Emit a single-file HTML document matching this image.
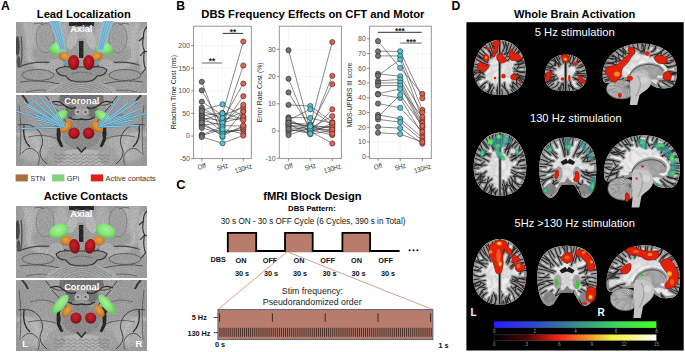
<!DOCTYPE html><html><head><meta charset="utf-8"><style>html,body{margin:0;padding:0;background:#fff;width:685px;height:352px;overflow:hidden}svg{display:block;font-family:"Liberation Sans",sans-serif}</style></head><body>
<svg width="685" height="352" viewBox="0 0 685 352" font-family="Liberation Sans">
<defs>
<filter id="gyA" x="0" y="0" width="100%" height="100%" color-interpolation-filters="sRGB">
 <feTurbulence type="turbulence" baseFrequency="0.13" numOctaves="2" seed="7" result="t"/>
 <feColorMatrix in="t" type="matrix" values="1.9 0 0 0 0  1.9 0 0 0 0  1.9 0 0 0 0  0 0 0 0 1" result="g"/>
 <feComponentTransfer in="g"><feFuncR type="table" tableValues="0.22 0.5 0.62 0.86 0.95 0.96"/><feFuncG type="table" tableValues="0.22 0.5 0.62 0.86 0.95 0.96"/><feFuncB type="table" tableValues="0.22 0.5 0.62 0.86 0.95 0.96"/></feComponentTransfer>
</filter>
<filter id="gyB" x="0" y="0" width="100%" height="100%" color-interpolation-filters="sRGB">
 <feTurbulence type="turbulence" baseFrequency="0.13" numOctaves="2" seed="11" result="t"/>
 <feColorMatrix in="t" type="matrix" values="1.9 0 0 0 0  1.9 0 0 0 0  1.9 0 0 0 0  0 0 0 0 1" result="g"/>
 <feComponentTransfer in="g"><feFuncR type="table" tableValues="0.22 0.5 0.62 0.86 0.95 0.96"/><feFuncG type="table" tableValues="0.22 0.5 0.62 0.86 0.95 0.96"/><feFuncB type="table" tableValues="0.22 0.5 0.62 0.86 0.95 0.96"/></feComponentTransfer>
</filter>
<radialGradient id="redG" cx="0.45" cy="0.4" r="0.6"><stop offset="0" stop-color="#cc2430"/><stop offset="0.6" stop-color="#a8141e"/><stop offset="1" stop-color="#7a0c14"/></radialGradient>
<radialGradient id="orG" cx="0.5" cy="0.4" r="0.6"><stop offset="0" stop-color="#eba040"/><stop offset="0.7" stop-color="#d0842a"/><stop offset="1" stop-color="#a86418"/></radialGradient>
<radialGradient id="grG" cx="0.5" cy="0.4" r="0.6"><stop offset="0" stop-color="#a8f098"/><stop offset="0.6" stop-color="#84e476"/><stop offset="1" stop-color="#60c458"/></radialGradient>
<radialGradient id="rimG" cx="0.5" cy="0.5" r="0.5">
 <stop offset="0" stop-color="#fff" stop-opacity="0.35"/><stop offset="0.55" stop-color="#fff" stop-opacity="0.0"/>
 <stop offset="0.85" stop-color="#777" stop-opacity="0.25"/><stop offset="1" stop-color="#555" stop-opacity="0.6"/>
</radialGradient>
<filter id="bl1" x="-20%" y="-20%" width="140%" height="140%"><feGaussianBlur stdDeviation="1.6"/></filter>
<filter id="bl05" x="-20%" y="-20%" width="140%" height="140%"><feGaussianBlur stdDeviation="0.5"/></filter>
<filter id="bl03" x="-20%" y="-20%" width="140%" height="140%"><feGaussianBlur stdDeviation="0.3"/></filter>
<filter id="noise" x="0" y="0" width="100%" height="100%" color-interpolation-filters="sRGB">
 <feTurbulence type="fractalNoise" baseFrequency="0.7" numOctaves="2" seed="4" result="t"/>
 <feColorMatrix in="t" type="matrix" values="1 0 0 0 0  1 0 0 0 0  1 0 0 0 0  0 0 0 0 0.35"/>
</filter>
</defs>
<rect width="685" height="352" fill="#fff"/>
<text x="1.0" y="9.9" font-size="12.2" font-weight="bold" text-anchor="start" fill="#000" >A</text>
<text x="176.3" y="10.2" font-size="12.2" font-weight="bold" text-anchor="start" fill="#000" >B</text>
<text x="176.2" y="189.4" font-size="12.9" font-weight="bold" text-anchor="start" fill="#000" >C</text>
<text x="451.4" y="9.9" font-size="12.2" font-weight="bold" text-anchor="start" fill="#000" >D</text>
<text x="83.8" y="17.8" font-size="11" font-weight="bold" text-anchor="middle" fill="#000" textLength="94" lengthAdjust="spacingAndGlyphs">Lead Localization</text>
<text x="85.9" y="200.0" font-size="11" font-weight="bold" text-anchor="middle" fill="#000" textLength="84.2" lengthAdjust="spacingAndGlyphs">Active Contacts</text>
<text x="312.9" y="18.0" font-size="11" font-weight="bold" text-anchor="middle" fill="#000" textLength="223.2" lengthAdjust="spacingAndGlyphs">DBS Frequency Effects on CFT and Motor</text>
<text x="574.7" y="17.6" font-size="11" font-weight="bold" text-anchor="middle" fill="#000" textLength="121.4" lengthAdjust="spacingAndGlyphs">Whole Brain Activation</text>
<clipPath id="cA1"><rect x="16" y="22" width="131" height="71"/></clipPath>
<g clip-path="url(#cA1)">
<rect x="16" y="22" width="131" height="71" fill="#a2a2a2"/>
<g transform="translate(16,22)"><g filter="url(#bl1)"><ellipse cx="19" cy="12" rx="9" ry="14" fill="#b9b9b9"/><path d="M9 0 Q14 18 13 36 Q20 46 34 46" stroke="#bebebe" stroke-width="6" fill="none"/><ellipse cx="29" cy="16" rx="9" ry="15" fill="#a6a6a6"/><ellipse cx="45" cy="13" rx="7.5" ry="13" fill="#b6b6b6"/><ellipse cx="22" cy="53" rx="17" ry="6" fill="#a2a2a2"/><ellipse cx="24" cy="64" rx="19" ry="5.5" fill="#a6a6a6"/><ellipse cx="45" cy="47" rx="10" ry="5" fill="#8e8e8e"/></g><g filter="url(#bl03)"><ellipse cx="1.5" cy="24" rx="2.2" ry="10" fill="#3a3a3a"/><ellipse cx="2.5" cy="40" rx="1.8" ry="6" fill="#4a4a4a"/><path d="M5 14 Q7 26 5 44" stroke="#444" stroke-width="1.2" fill="none"/><ellipse cx="29" cy="16" rx="9" ry="15" fill="none" stroke="#7e7e7e" stroke-width="0.8"/><path d="M3 45 Q20 37 46 42" stroke="#3a3a3a" stroke-width="1.2" fill="none"/><ellipse cx="22" cy="53" rx="16" ry="5.5" fill="none" stroke="#4a4a4a" stroke-width="0.8"/><path d="M4 60 Q22 57 44 62" stroke="#454545" stroke-width="0.9" fill="none"/><path d="M10 70 Q25 66 40 70" stroke="#555" stroke-width="0.8" fill="none"/><path d="M38 44 Q48 42 56 47" stroke="#222" stroke-width="1.3" fill="none"/><path d="M18 2 Q24 0 28 3" stroke="#555" stroke-width="0.8" fill="none"/></g></g>
<g transform="translate(147,22) scale(-1,1)"><g filter="url(#bl1)"><ellipse cx="19" cy="12" rx="9" ry="14" fill="#b9b9b9"/><path d="M9 0 Q14 18 13 36 Q20 46 34 46" stroke="#bebebe" stroke-width="6" fill="none"/><ellipse cx="29" cy="16" rx="9" ry="15" fill="#a6a6a6"/><ellipse cx="45" cy="13" rx="7.5" ry="13" fill="#b6b6b6"/><ellipse cx="22" cy="53" rx="17" ry="6" fill="#a2a2a2"/><ellipse cx="24" cy="64" rx="19" ry="5.5" fill="#a6a6a6"/><ellipse cx="45" cy="47" rx="10" ry="5" fill="#8e8e8e"/></g><g filter="url(#bl03)"><ellipse cx="1.5" cy="24" rx="2.2" ry="10" fill="#3a3a3a"/><ellipse cx="2.5" cy="40" rx="1.8" ry="6" fill="#4a4a4a"/><path d="M5 14 Q7 26 5 44" stroke="#444" stroke-width="1.2" fill="none"/><ellipse cx="29" cy="16" rx="9" ry="15" fill="none" stroke="#7e7e7e" stroke-width="0.8"/><path d="M3 45 Q20 37 46 42" stroke="#3a3a3a" stroke-width="1.2" fill="none"/><ellipse cx="22" cy="53" rx="16" ry="5.5" fill="none" stroke="#4a4a4a" stroke-width="0.8"/><path d="M4 60 Q22 57 44 62" stroke="#454545" stroke-width="0.9" fill="none"/><path d="M10 70 Q25 66 40 70" stroke="#555" stroke-width="0.8" fill="none"/><path d="M38 44 Q48 42 56 47" stroke="#222" stroke-width="1.3" fill="none"/><path d="M18 2 Q24 0 28 3" stroke="#555" stroke-width="0.8" fill="none"/></g></g>
<g transform="translate(16,22)"><g filter="url(#bl1)"><ellipse cx="128" cy="28" rx="6" ry="22" fill="#c8c8c8"/></g><g filter="url(#bl03)"><path d="M131 5 Q127 9 127.5 15 L123 19 M127.5 15 Q125.5 23 128.5 29 L124 34 M128.5 29 Q126.5 39 129.5 47 L125.5 52 M131 30 L128.5 29" stroke="#1e1e1e" stroke-width="1.1" fill="none"/></g></g>
<g transform="translate(16,22)"><g filter="url(#bl05)"><rect x="53" y="-2" width="25" height="6" fill="#141414"/><rect x="58" y="3" width="4" height="9" fill="#3a3a3a"/><rect x="69" y="3" width="4" height="9" fill="#3a3a3a"/><ellipse cx="57" cy="16" rx="5" ry="12" fill="#c2c2c2" transform="rotate(20 57 16)"/><ellipse cx="74" cy="16" rx="5" ry="12" fill="#c2c2c2" transform="rotate(-20 74 16)"/><ellipse cx="65.5" cy="12" rx="5" ry="5" fill="#b8b8b8"/><rect x="63" y="19" width="4.4" height="17" fill="#161616"/><ellipse cx="65.5" cy="72" rx="36" ry="13" fill="#b2b2b2"/><ellipse cx="40" cy="44" rx="8" ry="7" fill="#b4b4b4"/><ellipse cx="91" cy="44" rx="8" ry="7" fill="#b4b4b4"/><path d="M40 48 Q44 44 54 45 L77 45 Q87 44 91 48 Q89 54 81 54 Q79 60 65.5 60 Q52 60 50 54 Q42 54 40 48Z" fill="#969696" stroke="#262626" stroke-width="1.1"/><path d="M55 52 Q65.5 48 76 52" stroke="#6a6a6a" stroke-width="0.8" fill="none"/></g><g filter="url(#bl03)"><path d="M52.2 75.8 Q65.5 65.3 78.8 75.8" stroke="#6e6e6e" stroke-width="0.6" fill="none"/><path d="M49.4 74.9 Q65.5 62.1 81.7 74.9" stroke="#6e6e6e" stroke-width="0.6" fill="none"/><path d="M46.5 74.0 Q65.5 59.0 84.5 74.0" stroke="#6e6e6e" stroke-width="0.6" fill="none"/><path d="M43.7 73.1 Q65.5 55.8 87.3 73.1" stroke="#6e6e6e" stroke-width="0.6" fill="none"/><path d="M40.8 72.2 Q65.5 52.7 90.2 72.2" stroke="#6e6e6e" stroke-width="0.6" fill="none"/><path d="M38.0 71.3 Q65.5 49.5 93.0 71.3" stroke="#6e6e6e" stroke-width="0.6" fill="none"/><path d="M35.1 70.4 Q65.5 46.4 95.9 70.4" stroke="#6e6e6e" stroke-width="0.6" fill="none"/></g></g>
<rect x="16" y="22" width="131" height="71" filter="url(#noise)" opacity="0.5"/>
</g>
<g filter="url(#bl05)"><path d="M49.9 48.1C50.5 46.4 52.6 44.2 54.4 43.1C56.2 42.1 58.9 41.4 60.7 41.8C62.6 42.1 64.7 44.0 65.7 45.4C66.6 46.7 67.1 48.5 66.6 49.9C66.0 51.2 64.4 52.7 62.5 53.5C60.6 54.2 57.3 54.4 55.3 54.4C53.4 54.3 51.7 54.1 50.8 53.0C49.9 52.0 49.3 49.7 49.9 48.1Z" fill="url(#grG)"/><path d="M112.6 48.1C112.0 46.4 109.9 44.2 108.1 43.1C106.3 42.1 103.7 41.4 101.8 41.8C99.9 42.1 97.8 44.0 96.8 45.4C95.8 46.7 95.4 48.5 95.9 49.9C96.4 51.2 98.1 52.7 100.0 53.5C101.8 54.2 105.2 54.4 107.2 54.4C109.1 54.3 110.8 54.1 111.7 53.0C112.6 52.0 113.2 49.7 112.6 48.1Z" fill="url(#grG)"/></g>
<path d="M49.2 21 L60.3 21 L65.8 50 L63.8 56.5 L59.6 50Z" fill="#88c0dc"/>
<line x1="52.0" y1="21" x2="61.1" y2="49" stroke="#5f93b2" stroke-width="0.6"/><line x1="54.8" y1="21" x2="62.7" y2="49" stroke="#5f93b2" stroke-width="0.6"/><line x1="57.5" y1="21" x2="64.2" y2="49" stroke="#5f93b2" stroke-width="0.6"/>
<path d="M113.8 21 L102.7 21 L97.2 50 L99.2 56.5 L103.4 50Z" fill="#88c0dc"/>
<line x1="111.0" y1="21" x2="101.9" y2="49" stroke="#5f93b2" stroke-width="0.6"/><line x1="108.2" y1="21" x2="100.3" y2="49" stroke="#5f93b2" stroke-width="0.6"/><line x1="105.5" y1="21" x2="98.8" y2="49" stroke="#5f93b2" stroke-width="0.6"/>
<g filter="url(#bl05)"><ellipse cx="64.5" cy="56.5" rx="5.8" ry="4.3" fill="url(#orG)" transform="rotate(25 64.5 56.5)"/><ellipse cx="97" cy="56.5" rx="5.8" ry="4.3" fill="url(#orG)" transform="rotate(-25 97 56.5)"/><ellipse cx="66" cy="63" rx="1.6" ry="3" fill="#5aa0c0"/><ellipse cx="96.5" cy="63" rx="1.6" ry="3" fill="#5aa0c0"/><ellipse cx="73.7" cy="62.5" rx="5.6" ry="7.6" fill="url(#redG)"/><ellipse cx="88.8" cy="62.5" rx="5.6" ry="7.6" fill="url(#redG)"/></g>
<text x="81.3" y="31.5" font-size="9.3" font-weight="bold" text-anchor="middle" fill="#fff" >Axial</text>
<clipPath id="cA2"><rect x="16" y="95" width="131" height="71"/></clipPath>
<g clip-path="url(#cA2)">
<rect x="16" y="95" width="131" height="71" fill="#a0a0a0"/>
<g transform="translate(16,95)"><g filter="url(#bl1)"><ellipse cx="39" cy="6" rx="8" ry="7" fill="#a8a8a8"/><ellipse cx="26" cy="32" rx="14" ry="11" fill="#a4a4a4"/><ellipse cx="27" cy="50" rx="15" ry="10" fill="#b2b2b2"/><ellipse cx="4" cy="40" rx="5" ry="30" fill="#9c9c9c"/><ellipse cx="55" cy="18" rx="9" ry="8" fill="#949494"/><ellipse cx="18" cy="52" rx="16" ry="15" fill="#b6b6b6"/><path d="M0 40 Q12 35 19 44 Q24 52 20 62" stroke="#c6c6c6" stroke-width="3.5" fill="none"/></g><g filter="url(#bl03)"><path d="M6 0 Q10 4 12 9" stroke="#2a2a2a" stroke-width="2" fill="none"/><path d="M30 1 Q36 12 48 10" stroke="#3a3a3a" stroke-width="1" fill="none"/><path d="M3 10 Q6 30 4 60" stroke="#555" stroke-width="0.9" fill="none"/><path d="M8 30 Q6 45 14 52" stroke="#1e1e1e" stroke-width="1.4" fill="none"/><path d="M14 22 Q28 17 40 24" stroke="#555" stroke-width="0.8" fill="none"/><path d="M12 42 Q28 38 42 44" stroke="#4a4a4a" stroke-width="0.8" fill="none"/><path d="M2 30 Q15 27 23 36 Q29 45 25 53 Q21 61 31 69" stroke="#383838" stroke-width="1.0" fill="none"/><path d="M6 58 Q13 49 21 57 Q25 62 22 70" stroke="#454545" stroke-width="0.9" fill="none"/><path d="M40 30 Q46 36 42 46" stroke="#1a1a1a" stroke-width="2.4" fill="none"/><path d="M36 10 Q46 20 52 30" stroke="#333" stroke-width="1" fill="none"/><circle cx="59" cy="19" r="1.4" fill="#4a4a4a"/><circle cx="55" cy="22" r="1.2" fill="#4a4a4a"/></g></g>
<g transform="translate(147,95) scale(-1,1)"><g filter="url(#bl1)"><ellipse cx="39" cy="6" rx="8" ry="7" fill="#a8a8a8"/><ellipse cx="26" cy="32" rx="14" ry="11" fill="#a4a4a4"/><ellipse cx="27" cy="50" rx="15" ry="10" fill="#b2b2b2"/><ellipse cx="4" cy="40" rx="5" ry="30" fill="#9c9c9c"/><ellipse cx="55" cy="18" rx="9" ry="8" fill="#949494"/><ellipse cx="18" cy="52" rx="16" ry="15" fill="#b6b6b6"/><path d="M0 40 Q12 35 19 44 Q24 52 20 62" stroke="#c6c6c6" stroke-width="3.5" fill="none"/></g><g filter="url(#bl03)"><path d="M6 0 Q10 4 12 9" stroke="#2a2a2a" stroke-width="2" fill="none"/><path d="M30 1 Q36 12 48 10" stroke="#3a3a3a" stroke-width="1" fill="none"/><path d="M3 10 Q6 30 4 60" stroke="#555" stroke-width="0.9" fill="none"/><path d="M8 30 Q6 45 14 52" stroke="#1e1e1e" stroke-width="1.4" fill="none"/><path d="M14 22 Q28 17 40 24" stroke="#555" stroke-width="0.8" fill="none"/><path d="M12 42 Q28 38 42 44" stroke="#4a4a4a" stroke-width="0.8" fill="none"/><path d="M2 30 Q15 27 23 36 Q29 45 25 53 Q21 61 31 69" stroke="#383838" stroke-width="1.0" fill="none"/><path d="M6 58 Q13 49 21 57 Q25 62 22 70" stroke="#454545" stroke-width="0.9" fill="none"/><path d="M40 30 Q46 36 42 46" stroke="#1a1a1a" stroke-width="2.4" fill="none"/><path d="M36 10 Q46 20 52 30" stroke="#333" stroke-width="1" fill="none"/><circle cx="59" cy="19" r="1.4" fill="#4a4a4a"/><circle cx="55" cy="22" r="1.2" fill="#4a4a4a"/></g></g>
<g transform="translate(16,95)"><g filter="url(#bl05)"><ellipse cx="65.5" cy="66" rx="30" ry="12" fill="#bdbdbd"/><ellipse cx="65.5" cy="40" rx="19" ry="15" fill="#8e8e8e"/><path d="M44 0 L87 0 L88 6 Q80 10 65.5 8 Q51 10 43 6 Z" fill="#6e6e6e"/><ellipse cx="55" cy="16" rx="6" ry="6" fill="#707070"/><ellipse cx="76" cy="16" rx="6" ry="6" fill="#707070"/><path d="M34 8 Q42 4 48 10 Q56 16 60 12 M97 8 Q89 4 83 10 Q75 16 71 12 M52 22 Q58 26 65.5 24 Q73 26 79 22" stroke="#1c1c1c" stroke-width="1.3" fill="none"/><circle cx="62" cy="17" r="3.6" fill="#b4b4b4"/><circle cx="69.5" cy="17" r="3.6" fill="#b4b4b4"/><path d="M44 27 Q39 40 46 52 M87 27 Q92 40 85 52" stroke="#121212" stroke-width="3" fill="none"/><path d="M61 52 L65.5 57 L70 52" stroke="#222" stroke-width="1.6" fill="none"/><ellipse cx="40" cy="60" rx="9" ry="10" fill="#a8a8a8"/><ellipse cx="91" cy="60" rx="9" ry="10" fill="#a8a8a8"/></g><g filter="url(#bl03)"><circle cx="62" cy="17" r="0.9" fill="#333"/><circle cx="69.5" cy="17" r="0.9" fill="#333"/><path d="M38.0 60.0 q1.5 -2 3 0 q1.5 2 3 0" stroke="#6e6e6e" stroke-width="0.6" fill="none"/><path d="M38.0 63.5 q1.5 -2 3 0 q1.5 2 3 0" stroke="#6e6e6e" stroke-width="0.6" fill="none"/><path d="M38.0 67.0 q1.5 -2 3 0 q1.5 2 3 0" stroke="#6e6e6e" stroke-width="0.6" fill="none"/><path d="M38.0 70.5 q1.5 -2 3 0 q1.5 2 3 0" stroke="#6e6e6e" stroke-width="0.6" fill="none"/><path d="M44.2 60.0 q1.5 -2 3 0 q1.5 2 3 0" stroke="#6e6e6e" stroke-width="0.6" fill="none"/><path d="M44.2 63.5 q1.5 -2 3 0 q1.5 2 3 0" stroke="#6e6e6e" stroke-width="0.6" fill="none"/><path d="M44.2 67.0 q1.5 -2 3 0 q1.5 2 3 0" stroke="#6e6e6e" stroke-width="0.6" fill="none"/><path d="M44.2 70.5 q1.5 -2 3 0 q1.5 2 3 0" stroke="#6e6e6e" stroke-width="0.6" fill="none"/><path d="M50.4 60.0 q1.5 -2 3 0 q1.5 2 3 0" stroke="#6e6e6e" stroke-width="0.6" fill="none"/><path d="M50.4 63.5 q1.5 -2 3 0 q1.5 2 3 0" stroke="#6e6e6e" stroke-width="0.6" fill="none"/><path d="M50.4 67.0 q1.5 -2 3 0 q1.5 2 3 0" stroke="#6e6e6e" stroke-width="0.6" fill="none"/><path d="M50.4 70.5 q1.5 -2 3 0 q1.5 2 3 0" stroke="#6e6e6e" stroke-width="0.6" fill="none"/><path d="M56.6 60.0 q1.5 -2 3 0 q1.5 2 3 0" stroke="#6e6e6e" stroke-width="0.6" fill="none"/><path d="M56.6 63.5 q1.5 -2 3 0 q1.5 2 3 0" stroke="#6e6e6e" stroke-width="0.6" fill="none"/><path d="M56.6 67.0 q1.5 -2 3 0 q1.5 2 3 0" stroke="#6e6e6e" stroke-width="0.6" fill="none"/><path d="M56.6 70.5 q1.5 -2 3 0 q1.5 2 3 0" stroke="#6e6e6e" stroke-width="0.6" fill="none"/><path d="M62.8 60.0 q1.5 -2 3 0 q1.5 2 3 0" stroke="#6e6e6e" stroke-width="0.6" fill="none"/><path d="M62.8 63.5 q1.5 -2 3 0 q1.5 2 3 0" stroke="#6e6e6e" stroke-width="0.6" fill="none"/><path d="M62.8 67.0 q1.5 -2 3 0 q1.5 2 3 0" stroke="#6e6e6e" stroke-width="0.6" fill="none"/><path d="M62.8 70.5 q1.5 -2 3 0 q1.5 2 3 0" stroke="#6e6e6e" stroke-width="0.6" fill="none"/><path d="M69.0 60.0 q1.5 -2 3 0 q1.5 2 3 0" stroke="#6e6e6e" stroke-width="0.6" fill="none"/><path d="M69.0 63.5 q1.5 -2 3 0 q1.5 2 3 0" stroke="#6e6e6e" stroke-width="0.6" fill="none"/><path d="M69.0 67.0 q1.5 -2 3 0 q1.5 2 3 0" stroke="#6e6e6e" stroke-width="0.6" fill="none"/><path d="M69.0 70.5 q1.5 -2 3 0 q1.5 2 3 0" stroke="#6e6e6e" stroke-width="0.6" fill="none"/><path d="M75.2 60.0 q1.5 -2 3 0 q1.5 2 3 0" stroke="#6e6e6e" stroke-width="0.6" fill="none"/><path d="M75.2 63.5 q1.5 -2 3 0 q1.5 2 3 0" stroke="#6e6e6e" stroke-width="0.6" fill="none"/><path d="M75.2 67.0 q1.5 -2 3 0 q1.5 2 3 0" stroke="#6e6e6e" stroke-width="0.6" fill="none"/><path d="M75.2 70.5 q1.5 -2 3 0 q1.5 2 3 0" stroke="#6e6e6e" stroke-width="0.6" fill="none"/><path d="M81.4 60.0 q1.5 -2 3 0 q1.5 2 3 0" stroke="#6e6e6e" stroke-width="0.6" fill="none"/><path d="M81.4 63.5 q1.5 -2 3 0 q1.5 2 3 0" stroke="#6e6e6e" stroke-width="0.6" fill="none"/><path d="M81.4 67.0 q1.5 -2 3 0 q1.5 2 3 0" stroke="#6e6e6e" stroke-width="0.6" fill="none"/><path d="M81.4 70.5 q1.5 -2 3 0 q1.5 2 3 0" stroke="#6e6e6e" stroke-width="0.6" fill="none"/><path d="M87.6 60.0 q1.5 -2 3 0 q1.5 2 3 0" stroke="#6e6e6e" stroke-width="0.6" fill="none"/><path d="M87.6 63.5 q1.5 -2 3 0 q1.5 2 3 0" stroke="#6e6e6e" stroke-width="0.6" fill="none"/><path d="M87.6 67.0 q1.5 -2 3 0 q1.5 2 3 0" stroke="#6e6e6e" stroke-width="0.6" fill="none"/><path d="M87.6 70.5 q1.5 -2 3 0 q1.5 2 3 0" stroke="#6e6e6e" stroke-width="0.6" fill="none"/></g></g>
<rect x="16" y="95" width="131" height="71" filter="url(#noise)" opacity="0.5"/>
</g>
<g filter="url(#bl05)"><ellipse cx="59" cy="117" rx="10" ry="4.6" fill="url(#grG)" transform="rotate(-35 59 117)"/><ellipse cx="103.5" cy="117" rx="10" ry="4.6" fill="url(#grG)" transform="rotate(35 103.5 117)"/><ellipse cx="66.2" cy="126.7" rx="7.3" ry="4.2" fill="url(#orG)" transform="rotate(-40 66.2 126.7)"/><ellipse cx="96.8" cy="126.7" rx="7.3" ry="4.2" fill="url(#orG)" transform="rotate(40 96.8 126.7)"/></g>
<g clip-path="url(#cA2)"><line x1="16" y1="111" x2="65" y2="127" stroke="#4f86a6" stroke-width="1.9"/><line x1="16" y1="111" x2="65" y2="127" stroke="#90cce6" stroke-width="1.1"/><line x1="23.7" y1="102" x2="65" y2="127" stroke="#4f86a6" stroke-width="1.9"/><line x1="23.7" y1="102" x2="65" y2="127" stroke="#90cce6" stroke-width="1.1"/><line x1="30.7" y1="98.2" x2="65" y2="127" stroke="#4f86a6" stroke-width="1.9"/><line x1="30.7" y1="98.2" x2="65" y2="127" stroke="#90cce6" stroke-width="1.1"/><line x1="39.7" y1="96.9" x2="65" y2="127" stroke="#4f86a6" stroke-width="1.9"/><line x1="39.7" y1="96.9" x2="65" y2="127" stroke="#90cce6" stroke-width="1.1"/><line x1="49.9" y1="100.1" x2="65" y2="127" stroke="#4f86a6" stroke-width="1.9"/><line x1="49.9" y1="100.1" x2="65" y2="127" stroke="#90cce6" stroke-width="1.1"/><line x1="34.5" y1="114.2" x2="65" y2="127" stroke="#4f86a6" stroke-width="1.9"/><line x1="34.5" y1="114.2" x2="65" y2="127" stroke="#90cce6" stroke-width="1.1"/><line x1="21.1" y1="128.5" x2="65" y2="127" stroke="#4f86a6" stroke-width="1.9"/><line x1="21.1" y1="128.5" x2="65" y2="127" stroke="#90cce6" stroke-width="1.1"/><line x1="37.7" y1="120" x2="65" y2="127" stroke="#4f86a6" stroke-width="1.9"/><line x1="37.7" y1="120" x2="65" y2="127" stroke="#90cce6" stroke-width="1.1"/><line x1="27" y1="106" x2="65" y2="127" stroke="#4f86a6" stroke-width="1.9"/><line x1="27" y1="106" x2="65" y2="127" stroke="#90cce6" stroke-width="1.1"/><line x1="121" y1="96.5" x2="98" y2="127" stroke="#4f86a6" stroke-width="1.9"/><line x1="121" y1="96.5" x2="98" y2="127" stroke="#90cce6" stroke-width="1.1"/><line x1="139.5" y1="100" x2="98" y2="127" stroke="#4f86a6" stroke-width="1.9"/><line x1="139.5" y1="100" x2="98" y2="127" stroke="#90cce6" stroke-width="1.1"/><line x1="138.5" y1="109.6" x2="98" y2="127" stroke="#4f86a6" stroke-width="1.9"/><line x1="138.5" y1="109.6" x2="98" y2="127" stroke="#90cce6" stroke-width="1.1"/><line x1="133" y1="120" x2="98" y2="127" stroke="#4f86a6" stroke-width="1.9"/><line x1="133" y1="120" x2="98" y2="127" stroke="#90cce6" stroke-width="1.1"/><line x1="139" y1="125.5" x2="98" y2="127" stroke="#4f86a6" stroke-width="1.9"/><line x1="139" y1="125.5" x2="98" y2="127" stroke="#90cce6" stroke-width="1.1"/><line x1="128" y1="103" x2="98" y2="127" stroke="#4f86a6" stroke-width="1.9"/><line x1="128" y1="103" x2="98" y2="127" stroke="#90cce6" stroke-width="1.1"/><line x1="147" y1="113" x2="98" y2="127" stroke="#4f86a6" stroke-width="1.9"/><line x1="147" y1="113" x2="98" y2="127" stroke="#90cce6" stroke-width="1.1"/><line x1="131.5" y1="115" x2="98" y2="127" stroke="#4f86a6" stroke-width="1.9"/><line x1="131.5" y1="115" x2="98" y2="127" stroke="#90cce6" stroke-width="1.1"/></g>
<g filter="url(#bl05)"><circle cx="74" cy="133.2" r="5.7" fill="url(#redG)"/><circle cx="88.6" cy="133.2" r="5.7" fill="url(#redG)"/></g>
<text x="81.9" y="104.4" font-size="9.3" font-weight="bold" text-anchor="middle" fill="#fff" >Coronal</text>
<rect x="15.6" y="174.4" width="12.3" height="7" fill="#a8703c"/>
<text x="30.2" y="180.5" font-size="7.5" text-anchor="start" fill="#333" >STN</text>
<rect x="52.1" y="174.4" width="12.3" height="7" fill="#80d080"/>
<text x="66.7" y="180.5" font-size="7.5" text-anchor="start" fill="#333" >GPi</text>
<rect x="90.8" y="174.4" width="12.3" height="7" fill="#e02020"/>
<text x="105.4" y="180.5" font-size="7.5" text-anchor="start" fill="#333" >Active contacts</text>
<clipPath id="cA3"><rect x="16" y="206" width="131" height="72"/></clipPath>
<g clip-path="url(#cA3)">
<rect x="16" y="206" width="131" height="72" fill="#a2a2a2"/>
<g transform="translate(16,206)"><g filter="url(#bl1)"><ellipse cx="19" cy="12" rx="9" ry="14" fill="#b9b9b9"/><path d="M9 0 Q14 18 13 36 Q20 46 34 46" stroke="#bebebe" stroke-width="6" fill="none"/><ellipse cx="29" cy="16" rx="9" ry="15" fill="#a6a6a6"/><ellipse cx="45" cy="13" rx="7.5" ry="13" fill="#b6b6b6"/><ellipse cx="22" cy="53" rx="17" ry="6" fill="#a2a2a2"/><ellipse cx="24" cy="64" rx="19" ry="5.5" fill="#a6a6a6"/><ellipse cx="45" cy="47" rx="10" ry="5" fill="#8e8e8e"/></g><g filter="url(#bl03)"><ellipse cx="1.5" cy="24" rx="2.2" ry="10" fill="#3a3a3a"/><ellipse cx="2.5" cy="40" rx="1.8" ry="6" fill="#4a4a4a"/><path d="M5 14 Q7 26 5 44" stroke="#444" stroke-width="1.2" fill="none"/><ellipse cx="29" cy="16" rx="9" ry="15" fill="none" stroke="#7e7e7e" stroke-width="0.8"/><path d="M3 45 Q20 37 46 42" stroke="#3a3a3a" stroke-width="1.2" fill="none"/><ellipse cx="22" cy="53" rx="16" ry="5.5" fill="none" stroke="#4a4a4a" stroke-width="0.8"/><path d="M4 60 Q22 57 44 62" stroke="#454545" stroke-width="0.9" fill="none"/><path d="M10 70 Q25 66 40 70" stroke="#555" stroke-width="0.8" fill="none"/><path d="M38 44 Q48 42 56 47" stroke="#222" stroke-width="1.3" fill="none"/><path d="M18 2 Q24 0 28 3" stroke="#555" stroke-width="0.8" fill="none"/></g></g>
<g transform="translate(147,206) scale(-1,1)"><g filter="url(#bl1)"><ellipse cx="19" cy="12" rx="9" ry="14" fill="#b9b9b9"/><path d="M9 0 Q14 18 13 36 Q20 46 34 46" stroke="#bebebe" stroke-width="6" fill="none"/><ellipse cx="29" cy="16" rx="9" ry="15" fill="#a6a6a6"/><ellipse cx="45" cy="13" rx="7.5" ry="13" fill="#b6b6b6"/><ellipse cx="22" cy="53" rx="17" ry="6" fill="#a2a2a2"/><ellipse cx="24" cy="64" rx="19" ry="5.5" fill="#a6a6a6"/><ellipse cx="45" cy="47" rx="10" ry="5" fill="#8e8e8e"/></g><g filter="url(#bl03)"><ellipse cx="1.5" cy="24" rx="2.2" ry="10" fill="#3a3a3a"/><ellipse cx="2.5" cy="40" rx="1.8" ry="6" fill="#4a4a4a"/><path d="M5 14 Q7 26 5 44" stroke="#444" stroke-width="1.2" fill="none"/><ellipse cx="29" cy="16" rx="9" ry="15" fill="none" stroke="#7e7e7e" stroke-width="0.8"/><path d="M3 45 Q20 37 46 42" stroke="#3a3a3a" stroke-width="1.2" fill="none"/><ellipse cx="22" cy="53" rx="16" ry="5.5" fill="none" stroke="#4a4a4a" stroke-width="0.8"/><path d="M4 60 Q22 57 44 62" stroke="#454545" stroke-width="0.9" fill="none"/><path d="M10 70 Q25 66 40 70" stroke="#555" stroke-width="0.8" fill="none"/><path d="M38 44 Q48 42 56 47" stroke="#222" stroke-width="1.3" fill="none"/><path d="M18 2 Q24 0 28 3" stroke="#555" stroke-width="0.8" fill="none"/></g></g>
<g transform="translate(16,206)"><g filter="url(#bl1)"><ellipse cx="128" cy="28" rx="6" ry="22" fill="#c8c8c8"/></g><g filter="url(#bl03)"><path d="M131 5 Q127 9 127.5 15 L123 19 M127.5 15 Q125.5 23 128.5 29 L124 34 M128.5 29 Q126.5 39 129.5 47 L125.5 52 M131 30 L128.5 29" stroke="#1e1e1e" stroke-width="1.1" fill="none"/></g></g>
<g transform="translate(16,206)"><g filter="url(#bl05)"><rect x="53" y="-2" width="25" height="6" fill="#141414"/><rect x="58" y="3" width="4" height="9" fill="#3a3a3a"/><rect x="69" y="3" width="4" height="9" fill="#3a3a3a"/><ellipse cx="57" cy="16" rx="5" ry="12" fill="#c2c2c2" transform="rotate(20 57 16)"/><ellipse cx="74" cy="16" rx="5" ry="12" fill="#c2c2c2" transform="rotate(-20 74 16)"/><ellipse cx="65.5" cy="12" rx="5" ry="5" fill="#b8b8b8"/><rect x="63" y="19" width="4.4" height="17" fill="#161616"/><ellipse cx="65.5" cy="72" rx="36" ry="13" fill="#b2b2b2"/><ellipse cx="40" cy="44" rx="8" ry="7" fill="#b4b4b4"/><ellipse cx="91" cy="44" rx="8" ry="7" fill="#b4b4b4"/><path d="M40 48 Q44 44 54 45 L77 45 Q87 44 91 48 Q89 54 81 54 Q79 60 65.5 60 Q52 60 50 54 Q42 54 40 48Z" fill="#969696" stroke="#262626" stroke-width="1.1"/><path d="M55 52 Q65.5 48 76 52" stroke="#6a6a6a" stroke-width="0.8" fill="none"/></g><g filter="url(#bl03)"><path d="M52.2 75.8 Q65.5 65.3 78.8 75.8" stroke="#6e6e6e" stroke-width="0.6" fill="none"/><path d="M49.4 74.9 Q65.5 62.1 81.7 74.9" stroke="#6e6e6e" stroke-width="0.6" fill="none"/><path d="M46.5 74.0 Q65.5 59.0 84.5 74.0" stroke="#6e6e6e" stroke-width="0.6" fill="none"/><path d="M43.7 73.1 Q65.5 55.8 87.3 73.1" stroke="#6e6e6e" stroke-width="0.6" fill="none"/><path d="M40.8 72.2 Q65.5 52.7 90.2 72.2" stroke="#6e6e6e" stroke-width="0.6" fill="none"/><path d="M38.0 71.3 Q65.5 49.5 93.0 71.3" stroke="#6e6e6e" stroke-width="0.6" fill="none"/><path d="M35.1 70.4 Q65.5 46.4 95.9 70.4" stroke="#6e6e6e" stroke-width="0.6" fill="none"/></g></g>
<rect x="16" y="206" width="131" height="72" filter="url(#noise)" opacity="0.5"/>
</g>
<g filter="url(#bl05)"><ellipse cx="59" cy="231" rx="10" ry="7" fill="url(#grG)" transform="rotate(-20 59 231)"/><ellipse cx="105.5" cy="231" rx="10" ry="7" fill="url(#grG)" transform="rotate(20 105.5 231)"/><ellipse cx="66" cy="240.7" rx="5.5" ry="4.8" fill="url(#orG)"/><ellipse cx="99" cy="240.7" rx="5.5" ry="4.8" fill="url(#orG)"/><ellipse cx="74.5" cy="246.3" rx="5.3" ry="7.3" fill="url(#redG)" transform="rotate(-10 74.5 246.3)"/><ellipse cx="90.1" cy="246.3" rx="5.3" ry="7.3" fill="url(#redG)" transform="rotate(10 90.1 246.3)"/></g>
<text x="81.3" y="216.7" font-size="9.3" font-weight="bold" text-anchor="middle" fill="#fff" >Axial</text>
<clipPath id="cA4"><rect x="16" y="280" width="131" height="71"/></clipPath>
<g clip-path="url(#cA4)">
<rect x="16" y="280" width="131" height="71" fill="#a0a0a0"/>
<g transform="translate(16,280)"><g filter="url(#bl1)"><ellipse cx="39" cy="6" rx="8" ry="7" fill="#a8a8a8"/><ellipse cx="26" cy="32" rx="14" ry="11" fill="#a4a4a4"/><ellipse cx="27" cy="50" rx="15" ry="10" fill="#b2b2b2"/><ellipse cx="4" cy="40" rx="5" ry="30" fill="#9c9c9c"/><ellipse cx="55" cy="18" rx="9" ry="8" fill="#949494"/><ellipse cx="18" cy="52" rx="16" ry="15" fill="#b6b6b6"/><path d="M0 40 Q12 35 19 44 Q24 52 20 62" stroke="#c6c6c6" stroke-width="3.5" fill="none"/></g><g filter="url(#bl03)"><path d="M6 0 Q10 4 12 9" stroke="#2a2a2a" stroke-width="2" fill="none"/><path d="M30 1 Q36 12 48 10" stroke="#3a3a3a" stroke-width="1" fill="none"/><path d="M3 10 Q6 30 4 60" stroke="#555" stroke-width="0.9" fill="none"/><path d="M8 30 Q6 45 14 52" stroke="#1e1e1e" stroke-width="1.4" fill="none"/><path d="M14 22 Q28 17 40 24" stroke="#555" stroke-width="0.8" fill="none"/><path d="M12 42 Q28 38 42 44" stroke="#4a4a4a" stroke-width="0.8" fill="none"/><path d="M2 30 Q15 27 23 36 Q29 45 25 53 Q21 61 31 69" stroke="#383838" stroke-width="1.0" fill="none"/><path d="M6 58 Q13 49 21 57 Q25 62 22 70" stroke="#454545" stroke-width="0.9" fill="none"/><path d="M40 30 Q46 36 42 46" stroke="#1a1a1a" stroke-width="2.4" fill="none"/><path d="M36 10 Q46 20 52 30" stroke="#333" stroke-width="1" fill="none"/><circle cx="59" cy="19" r="1.4" fill="#4a4a4a"/><circle cx="55" cy="22" r="1.2" fill="#4a4a4a"/></g></g>
<g transform="translate(147,280) scale(-1,1)"><g filter="url(#bl1)"><ellipse cx="39" cy="6" rx="8" ry="7" fill="#a8a8a8"/><ellipse cx="26" cy="32" rx="14" ry="11" fill="#a4a4a4"/><ellipse cx="27" cy="50" rx="15" ry="10" fill="#b2b2b2"/><ellipse cx="4" cy="40" rx="5" ry="30" fill="#9c9c9c"/><ellipse cx="55" cy="18" rx="9" ry="8" fill="#949494"/><ellipse cx="18" cy="52" rx="16" ry="15" fill="#b6b6b6"/><path d="M0 40 Q12 35 19 44 Q24 52 20 62" stroke="#c6c6c6" stroke-width="3.5" fill="none"/></g><g filter="url(#bl03)"><path d="M6 0 Q10 4 12 9" stroke="#2a2a2a" stroke-width="2" fill="none"/><path d="M30 1 Q36 12 48 10" stroke="#3a3a3a" stroke-width="1" fill="none"/><path d="M3 10 Q6 30 4 60" stroke="#555" stroke-width="0.9" fill="none"/><path d="M8 30 Q6 45 14 52" stroke="#1e1e1e" stroke-width="1.4" fill="none"/><path d="M14 22 Q28 17 40 24" stroke="#555" stroke-width="0.8" fill="none"/><path d="M12 42 Q28 38 42 44" stroke="#4a4a4a" stroke-width="0.8" fill="none"/><path d="M2 30 Q15 27 23 36 Q29 45 25 53 Q21 61 31 69" stroke="#383838" stroke-width="1.0" fill="none"/><path d="M6 58 Q13 49 21 57 Q25 62 22 70" stroke="#454545" stroke-width="0.9" fill="none"/><path d="M40 30 Q46 36 42 46" stroke="#1a1a1a" stroke-width="2.4" fill="none"/><path d="M36 10 Q46 20 52 30" stroke="#333" stroke-width="1" fill="none"/><circle cx="59" cy="19" r="1.4" fill="#4a4a4a"/><circle cx="55" cy="22" r="1.2" fill="#4a4a4a"/></g></g>
<g transform="translate(16,280)"><g filter="url(#bl05)"><ellipse cx="65.5" cy="66" rx="30" ry="12" fill="#bdbdbd"/><ellipse cx="65.5" cy="40" rx="19" ry="15" fill="#8e8e8e"/><path d="M44 0 L87 0 L88 6 Q80 10 65.5 8 Q51 10 43 6 Z" fill="#6e6e6e"/><ellipse cx="55" cy="16" rx="6" ry="6" fill="#707070"/><ellipse cx="76" cy="16" rx="6" ry="6" fill="#707070"/><path d="M34 8 Q42 4 48 10 Q56 16 60 12 M97 8 Q89 4 83 10 Q75 16 71 12 M52 22 Q58 26 65.5 24 Q73 26 79 22" stroke="#1c1c1c" stroke-width="1.3" fill="none"/><circle cx="62" cy="17" r="3.6" fill="#b4b4b4"/><circle cx="69.5" cy="17" r="3.6" fill="#b4b4b4"/><path d="M44 27 Q39 40 46 52 M87 27 Q92 40 85 52" stroke="#121212" stroke-width="3" fill="none"/><path d="M61 52 L65.5 57 L70 52" stroke="#222" stroke-width="1.6" fill="none"/><ellipse cx="40" cy="60" rx="9" ry="10" fill="#a8a8a8"/><ellipse cx="91" cy="60" rx="9" ry="10" fill="#a8a8a8"/></g><g filter="url(#bl03)"><circle cx="62" cy="17" r="0.9" fill="#333"/><circle cx="69.5" cy="17" r="0.9" fill="#333"/><path d="M38.0 60.0 q1.5 -2 3 0 q1.5 2 3 0" stroke="#6e6e6e" stroke-width="0.6" fill="none"/><path d="M38.0 63.5 q1.5 -2 3 0 q1.5 2 3 0" stroke="#6e6e6e" stroke-width="0.6" fill="none"/><path d="M38.0 67.0 q1.5 -2 3 0 q1.5 2 3 0" stroke="#6e6e6e" stroke-width="0.6" fill="none"/><path d="M38.0 70.5 q1.5 -2 3 0 q1.5 2 3 0" stroke="#6e6e6e" stroke-width="0.6" fill="none"/><path d="M44.2 60.0 q1.5 -2 3 0 q1.5 2 3 0" stroke="#6e6e6e" stroke-width="0.6" fill="none"/><path d="M44.2 63.5 q1.5 -2 3 0 q1.5 2 3 0" stroke="#6e6e6e" stroke-width="0.6" fill="none"/><path d="M44.2 67.0 q1.5 -2 3 0 q1.5 2 3 0" stroke="#6e6e6e" stroke-width="0.6" fill="none"/><path d="M44.2 70.5 q1.5 -2 3 0 q1.5 2 3 0" stroke="#6e6e6e" stroke-width="0.6" fill="none"/><path d="M50.4 60.0 q1.5 -2 3 0 q1.5 2 3 0" stroke="#6e6e6e" stroke-width="0.6" fill="none"/><path d="M50.4 63.5 q1.5 -2 3 0 q1.5 2 3 0" stroke="#6e6e6e" stroke-width="0.6" fill="none"/><path d="M50.4 67.0 q1.5 -2 3 0 q1.5 2 3 0" stroke="#6e6e6e" stroke-width="0.6" fill="none"/><path d="M50.4 70.5 q1.5 -2 3 0 q1.5 2 3 0" stroke="#6e6e6e" stroke-width="0.6" fill="none"/><path d="M56.6 60.0 q1.5 -2 3 0 q1.5 2 3 0" stroke="#6e6e6e" stroke-width="0.6" fill="none"/><path d="M56.6 63.5 q1.5 -2 3 0 q1.5 2 3 0" stroke="#6e6e6e" stroke-width="0.6" fill="none"/><path d="M56.6 67.0 q1.5 -2 3 0 q1.5 2 3 0" stroke="#6e6e6e" stroke-width="0.6" fill="none"/><path d="M56.6 70.5 q1.5 -2 3 0 q1.5 2 3 0" stroke="#6e6e6e" stroke-width="0.6" fill="none"/><path d="M62.8 60.0 q1.5 -2 3 0 q1.5 2 3 0" stroke="#6e6e6e" stroke-width="0.6" fill="none"/><path d="M62.8 63.5 q1.5 -2 3 0 q1.5 2 3 0" stroke="#6e6e6e" stroke-width="0.6" fill="none"/><path d="M62.8 67.0 q1.5 -2 3 0 q1.5 2 3 0" stroke="#6e6e6e" stroke-width="0.6" fill="none"/><path d="M62.8 70.5 q1.5 -2 3 0 q1.5 2 3 0" stroke="#6e6e6e" stroke-width="0.6" fill="none"/><path d="M69.0 60.0 q1.5 -2 3 0 q1.5 2 3 0" stroke="#6e6e6e" stroke-width="0.6" fill="none"/><path d="M69.0 63.5 q1.5 -2 3 0 q1.5 2 3 0" stroke="#6e6e6e" stroke-width="0.6" fill="none"/><path d="M69.0 67.0 q1.5 -2 3 0 q1.5 2 3 0" stroke="#6e6e6e" stroke-width="0.6" fill="none"/><path d="M69.0 70.5 q1.5 -2 3 0 q1.5 2 3 0" stroke="#6e6e6e" stroke-width="0.6" fill="none"/><path d="M75.2 60.0 q1.5 -2 3 0 q1.5 2 3 0" stroke="#6e6e6e" stroke-width="0.6" fill="none"/><path d="M75.2 63.5 q1.5 -2 3 0 q1.5 2 3 0" stroke="#6e6e6e" stroke-width="0.6" fill="none"/><path d="M75.2 67.0 q1.5 -2 3 0 q1.5 2 3 0" stroke="#6e6e6e" stroke-width="0.6" fill="none"/><path d="M75.2 70.5 q1.5 -2 3 0 q1.5 2 3 0" stroke="#6e6e6e" stroke-width="0.6" fill="none"/><path d="M81.4 60.0 q1.5 -2 3 0 q1.5 2 3 0" stroke="#6e6e6e" stroke-width="0.6" fill="none"/><path d="M81.4 63.5 q1.5 -2 3 0 q1.5 2 3 0" stroke="#6e6e6e" stroke-width="0.6" fill="none"/><path d="M81.4 67.0 q1.5 -2 3 0 q1.5 2 3 0" stroke="#6e6e6e" stroke-width="0.6" fill="none"/><path d="M81.4 70.5 q1.5 -2 3 0 q1.5 2 3 0" stroke="#6e6e6e" stroke-width="0.6" fill="none"/><path d="M87.6 60.0 q1.5 -2 3 0 q1.5 2 3 0" stroke="#6e6e6e" stroke-width="0.6" fill="none"/><path d="M87.6 63.5 q1.5 -2 3 0 q1.5 2 3 0" stroke="#6e6e6e" stroke-width="0.6" fill="none"/><path d="M87.6 67.0 q1.5 -2 3 0 q1.5 2 3 0" stroke="#6e6e6e" stroke-width="0.6" fill="none"/><path d="M87.6 70.5 q1.5 -2 3 0 q1.5 2 3 0" stroke="#6e6e6e" stroke-width="0.6" fill="none"/></g></g>
<rect x="16" y="280" width="131" height="71" filter="url(#noise)" opacity="0.5"/>
</g>
<g filter="url(#bl05)"><ellipse cx="60" cy="304.4" rx="4.8" ry="12" fill="url(#grG)" transform="rotate(40 60 304.4)"/><ellipse cx="107" cy="304.4" rx="4.8" ry="12" fill="url(#grG)" transform="rotate(-40 107 304.4)"/><ellipse cx="67" cy="311" rx="3.8" ry="7" fill="url(#orG)" transform="rotate(35 67 311)"/><ellipse cx="99.6" cy="311" rx="3.8" ry="7" fill="url(#orG)" transform="rotate(-35 99.6 311)"/><circle cx="76" cy="318" r="5.6" fill="url(#redG)"/><circle cx="90.7" cy="318" r="5.6" fill="url(#redG)"/></g>
<text x="81.7" y="289.6" font-size="9.3" font-weight="bold" text-anchor="middle" fill="#fff" >Coronal</text>
<text x="22.3" y="346.6" font-size="9.5" font-weight="bold" text-anchor="start" fill="#fff" >L</text>
<text x="135.6" y="346.6" font-size="9.5" font-weight="bold" text-anchor="start" fill="#fff" >R</text>
<line x1="193.6" y1="158.60" x2="251.3" y2="158.60" stroke="#ebebeb" stroke-width="0.5"/>
<line x1="193.6" y1="136.00" x2="251.3" y2="136.00" stroke="#ebebeb" stroke-width="0.5"/>
<line x1="193.6" y1="113.40" x2="251.3" y2="113.40" stroke="#ebebeb" stroke-width="0.5"/>
<line x1="193.6" y1="90.80" x2="251.3" y2="90.80" stroke="#ebebeb" stroke-width="0.5"/>
<line x1="193.6" y1="68.20" x2="251.3" y2="68.20" stroke="#ebebeb" stroke-width="0.5"/>
<line x1="193.6" y1="45.60" x2="251.3" y2="45.60" stroke="#ebebeb" stroke-width="0.5"/>
<line x1="201.8" y1="26.2" x2="201.8" y2="158.6" stroke="#ebebeb" stroke-width="0.5"/>
<line x1="222.5" y1="26.2" x2="222.5" y2="158.6" stroke="#ebebeb" stroke-width="0.5"/>
<line x1="243.3" y1="26.2" x2="243.3" y2="158.6" stroke="#ebebeb" stroke-width="0.5"/>
<path d="M201.8 81.76L222.5 136.90L243.3 110.69" fill="none" stroke="#2a2a2a" stroke-width="0.55"/>
<path d="M201.8 90.35L222.5 126.06L243.3 96.22" fill="none" stroke="#2a2a2a" stroke-width="0.55"/>
<path d="M201.8 101.65L222.5 115.21L243.3 107.52" fill="none" stroke="#2a2a2a" stroke-width="0.55"/>
<path d="M201.8 107.52L222.5 120.18L243.3 83.57" fill="none" stroke="#2a2a2a" stroke-width="0.55"/>
<path d="M201.8 110.24L222.5 104.36L243.3 116.56" fill="none" stroke="#2a2a2a" stroke-width="0.55"/>
<path d="M201.8 113.40L222.5 123.34L243.3 104.81" fill="none" stroke="#2a2a2a" stroke-width="0.55"/>
<path d="M201.8 115.66L222.5 112.95L243.3 119.28" fill="none" stroke="#2a2a2a" stroke-width="0.55"/>
<path d="M201.8 116.11L222.5 131.48L243.3 130.12" fill="none" stroke="#2a2a2a" stroke-width="0.55"/>
<path d="M201.8 117.92L222.5 120.63L243.3 111.59" fill="none" stroke="#2a2a2a" stroke-width="0.55"/>
<path d="M201.8 120.18L222.5 125.60L243.3 126.06" fill="none" stroke="#2a2a2a" stroke-width="0.55"/>
<path d="M201.8 120.63L222.5 113.40L243.3 41.53" fill="none" stroke="#2a2a2a" stroke-width="0.55"/>
<path d="M201.8 125.15L222.5 132.84L243.3 129.67" fill="none" stroke="#2a2a2a" stroke-width="0.55"/>
<path d="M201.8 125.15L222.5 122.89L243.3 117.02" fill="none" stroke="#2a2a2a" stroke-width="0.55"/>
<path d="M201.8 127.86L222.5 133.74L243.3 127.41" fill="none" stroke="#2a2a2a" stroke-width="0.55"/>
<path d="M201.8 134.64L222.5 126.96L243.3 65.49" fill="none" stroke="#2a2a2a" stroke-width="0.55"/>
<path d="M201.8 135.55L222.5 129.22L243.3 133.74" fill="none" stroke="#2a2a2a" stroke-width="0.55"/>
<path d="M201.8 136.90L222.5 143.23L243.3 135.55" fill="none" stroke="#2a2a2a" stroke-width="0.55"/>
<path d="M201.8 111.14L222.5 117.92L243.3 120.18" fill="none" stroke="#2a2a2a" stroke-width="0.55"/>
<path d="M201.8 122.44L222.5 136.00L243.3 125.60" fill="none" stroke="#2a2a2a" stroke-width="0.55"/>
<circle cx="201.8" cy="81.76" r="2.6" fill="#747474" stroke="#2a2a2a" stroke-width="0.6"/>
<circle cx="201.8" cy="90.35" r="2.6" fill="#747474" stroke="#2a2a2a" stroke-width="0.6"/>
<circle cx="201.8" cy="101.65" r="2.6" fill="#747474" stroke="#2a2a2a" stroke-width="0.6"/>
<circle cx="201.8" cy="107.52" r="2.6" fill="#747474" stroke="#2a2a2a" stroke-width="0.6"/>
<circle cx="201.8" cy="110.24" r="2.6" fill="#747474" stroke="#2a2a2a" stroke-width="0.6"/>
<circle cx="201.8" cy="113.40" r="2.6" fill="#747474" stroke="#2a2a2a" stroke-width="0.6"/>
<circle cx="201.8" cy="115.66" r="2.6" fill="#747474" stroke="#2a2a2a" stroke-width="0.6"/>
<circle cx="201.8" cy="116.11" r="2.6" fill="#747474" stroke="#2a2a2a" stroke-width="0.6"/>
<circle cx="201.8" cy="117.92" r="2.6" fill="#747474" stroke="#2a2a2a" stroke-width="0.6"/>
<circle cx="201.8" cy="120.18" r="2.6" fill="#747474" stroke="#2a2a2a" stroke-width="0.6"/>
<circle cx="201.8" cy="120.63" r="2.6" fill="#747474" stroke="#2a2a2a" stroke-width="0.6"/>
<circle cx="201.8" cy="125.15" r="2.6" fill="#747474" stroke="#2a2a2a" stroke-width="0.6"/>
<circle cx="201.8" cy="125.15" r="2.6" fill="#747474" stroke="#2a2a2a" stroke-width="0.6"/>
<circle cx="201.8" cy="127.86" r="2.6" fill="#747474" stroke="#2a2a2a" stroke-width="0.6"/>
<circle cx="201.8" cy="134.64" r="2.6" fill="#747474" stroke="#2a2a2a" stroke-width="0.6"/>
<circle cx="201.8" cy="135.55" r="2.6" fill="#747474" stroke="#2a2a2a" stroke-width="0.6"/>
<circle cx="201.8" cy="136.90" r="2.6" fill="#747474" stroke="#2a2a2a" stroke-width="0.6"/>
<circle cx="201.8" cy="111.14" r="2.6" fill="#747474" stroke="#2a2a2a" stroke-width="0.6"/>
<circle cx="201.8" cy="122.44" r="2.6" fill="#747474" stroke="#2a2a2a" stroke-width="0.6"/>
<circle cx="222.5" cy="136.90" r="2.6" fill="#4cc6d6" stroke="#2a2a2a" stroke-width="0.6"/>
<circle cx="222.5" cy="126.06" r="2.6" fill="#4cc6d6" stroke="#2a2a2a" stroke-width="0.6"/>
<circle cx="222.5" cy="115.21" r="2.6" fill="#4cc6d6" stroke="#2a2a2a" stroke-width="0.6"/>
<circle cx="222.5" cy="120.18" r="2.6" fill="#4cc6d6" stroke="#2a2a2a" stroke-width="0.6"/>
<circle cx="222.5" cy="104.36" r="2.6" fill="#4cc6d6" stroke="#2a2a2a" stroke-width="0.6"/>
<circle cx="222.5" cy="123.34" r="2.6" fill="#4cc6d6" stroke="#2a2a2a" stroke-width="0.6"/>
<circle cx="222.5" cy="112.95" r="2.6" fill="#4cc6d6" stroke="#2a2a2a" stroke-width="0.6"/>
<circle cx="222.5" cy="131.48" r="2.6" fill="#4cc6d6" stroke="#2a2a2a" stroke-width="0.6"/>
<circle cx="222.5" cy="120.63" r="2.6" fill="#4cc6d6" stroke="#2a2a2a" stroke-width="0.6"/>
<circle cx="222.5" cy="125.60" r="2.6" fill="#4cc6d6" stroke="#2a2a2a" stroke-width="0.6"/>
<circle cx="222.5" cy="113.40" r="2.6" fill="#4cc6d6" stroke="#2a2a2a" stroke-width="0.6"/>
<circle cx="222.5" cy="132.84" r="2.6" fill="#4cc6d6" stroke="#2a2a2a" stroke-width="0.6"/>
<circle cx="222.5" cy="122.89" r="2.6" fill="#4cc6d6" stroke="#2a2a2a" stroke-width="0.6"/>
<circle cx="222.5" cy="133.74" r="2.6" fill="#4cc6d6" stroke="#2a2a2a" stroke-width="0.6"/>
<circle cx="222.5" cy="126.96" r="2.6" fill="#4cc6d6" stroke="#2a2a2a" stroke-width="0.6"/>
<circle cx="222.5" cy="129.22" r="2.6" fill="#4cc6d6" stroke="#2a2a2a" stroke-width="0.6"/>
<circle cx="222.5" cy="143.23" r="2.6" fill="#4cc6d6" stroke="#2a2a2a" stroke-width="0.6"/>
<circle cx="222.5" cy="117.92" r="2.6" fill="#4cc6d6" stroke="#2a2a2a" stroke-width="0.6"/>
<circle cx="222.5" cy="136.00" r="2.6" fill="#4cc6d6" stroke="#2a2a2a" stroke-width="0.6"/>
<circle cx="243.3" cy="110.69" r="2.6" fill="#e65e4a" stroke="#2a2a2a" stroke-width="0.6"/>
<circle cx="243.3" cy="96.22" r="2.6" fill="#e65e4a" stroke="#2a2a2a" stroke-width="0.6"/>
<circle cx="243.3" cy="107.52" r="2.6" fill="#e65e4a" stroke="#2a2a2a" stroke-width="0.6"/>
<circle cx="243.3" cy="83.57" r="2.6" fill="#e65e4a" stroke="#2a2a2a" stroke-width="0.6"/>
<circle cx="243.3" cy="116.56" r="2.6" fill="#e65e4a" stroke="#2a2a2a" stroke-width="0.6"/>
<circle cx="243.3" cy="104.81" r="2.6" fill="#e65e4a" stroke="#2a2a2a" stroke-width="0.6"/>
<circle cx="243.3" cy="119.28" r="2.6" fill="#e65e4a" stroke="#2a2a2a" stroke-width="0.6"/>
<circle cx="243.3" cy="130.12" r="2.6" fill="#e65e4a" stroke="#2a2a2a" stroke-width="0.6"/>
<circle cx="243.3" cy="111.59" r="2.6" fill="#e65e4a" stroke="#2a2a2a" stroke-width="0.6"/>
<circle cx="243.3" cy="126.06" r="2.6" fill="#e65e4a" stroke="#2a2a2a" stroke-width="0.6"/>
<circle cx="243.3" cy="41.53" r="2.6" fill="#e65e4a" stroke="#2a2a2a" stroke-width="0.6"/>
<circle cx="243.3" cy="129.67" r="2.6" fill="#e65e4a" stroke="#2a2a2a" stroke-width="0.6"/>
<circle cx="243.3" cy="117.02" r="2.6" fill="#e65e4a" stroke="#2a2a2a" stroke-width="0.6"/>
<circle cx="243.3" cy="127.41" r="2.6" fill="#e65e4a" stroke="#2a2a2a" stroke-width="0.6"/>
<circle cx="243.3" cy="65.49" r="2.6" fill="#e65e4a" stroke="#2a2a2a" stroke-width="0.6"/>
<circle cx="243.3" cy="133.74" r="2.6" fill="#e65e4a" stroke="#2a2a2a" stroke-width="0.6"/>
<circle cx="243.3" cy="135.55" r="2.6" fill="#e65e4a" stroke="#2a2a2a" stroke-width="0.6"/>
<circle cx="243.3" cy="120.18" r="2.6" fill="#e65e4a" stroke="#2a2a2a" stroke-width="0.6"/>
<circle cx="243.3" cy="125.60" r="2.6" fill="#e65e4a" stroke="#2a2a2a" stroke-width="0.6"/>
<rect x="193.6" y="26.2" width="57.70" height="132.40" fill="none" stroke="#8c8c8c" stroke-width="0.9"/>
<line x1="191.1" y1="158.60" x2="193.6" y2="158.60" stroke="#444" stroke-width="0.6"/>
<text x="190.0" y="161.0" font-size="7" text-anchor="end" fill="#4d4d4d" >-50</text>
<line x1="191.1" y1="136.00" x2="193.6" y2="136.00" stroke="#444" stroke-width="0.6"/>
<text x="190.0" y="138.4" font-size="7" text-anchor="end" fill="#4d4d4d" >0</text>
<line x1="191.1" y1="113.40" x2="193.6" y2="113.40" stroke="#444" stroke-width="0.6"/>
<text x="190.0" y="115.8" font-size="7" text-anchor="end" fill="#4d4d4d" >50</text>
<line x1="191.1" y1="90.80" x2="193.6" y2="90.80" stroke="#444" stroke-width="0.6"/>
<text x="190.0" y="93.2" font-size="7" text-anchor="end" fill="#4d4d4d" >100</text>
<line x1="191.1" y1="68.20" x2="193.6" y2="68.20" stroke="#444" stroke-width="0.6"/>
<text x="190.0" y="70.6" font-size="7" text-anchor="end" fill="#4d4d4d" >150</text>
<line x1="191.1" y1="45.60" x2="193.6" y2="45.60" stroke="#444" stroke-width="0.6"/>
<text x="190.0" y="48.0" font-size="7" text-anchor="end" fill="#4d4d4d" >200</text>
<line x1="201.8" y1="158.6" x2="201.8" y2="161.1" stroke="#444" stroke-width="0.6"/>
<text transform="translate(201.8,166.3) rotate(-17)" x="0" y="2.5" font-size="7.2" text-anchor="middle" fill="#333" textLength="8.2" lengthAdjust="spacingAndGlyphs">Off</text>
<line x1="222.5" y1="158.6" x2="222.5" y2="161.1" stroke="#444" stroke-width="0.6"/>
<text transform="translate(222.5,166.8) rotate(-17)" x="0" y="2.5" font-size="7.2" text-anchor="middle" fill="#333" textLength="11.0" lengthAdjust="spacingAndGlyphs">5Hz</text>
<line x1="243.3" y1="158.6" x2="243.3" y2="161.1" stroke="#444" stroke-width="0.6"/>
<text transform="translate(243.3,168.5) rotate(-17)" x="0" y="2.5" font-size="7.2" text-anchor="middle" fill="#333" textLength="17.2" lengthAdjust="spacingAndGlyphs">130Hz</text>
<text transform="translate(176.4,92.2) rotate(-90)" x="0" y="0" font-size="7.5" text-anchor="middle" fill="#222" textLength="74.3" lengthAdjust="spacingAndGlyphs">Reaction Time Cost (ms)</text>
<line x1="202" y1="63.0" x2="221.9" y2="63.0" stroke="#9a9a9a" stroke-width="1.5"/>
<text x="211.95" y="63.8" font-size="8.2" font-weight="bold" text-anchor="middle" fill="#222" >**</text>
<line x1="222.8" y1="33.4" x2="243.2" y2="33.4" stroke="#333" stroke-width="1.0"/>
<text x="233.0" y="35.0" font-size="8.2" font-weight="bold" text-anchor="middle" fill="#222" >**</text>
<line x1="279.3" y1="158.20" x2="341.4" y2="158.20" stroke="#ebebeb" stroke-width="0.5"/>
<line x1="279.3" y1="131.00" x2="341.4" y2="131.00" stroke="#ebebeb" stroke-width="0.5"/>
<line x1="279.3" y1="103.80" x2="341.4" y2="103.80" stroke="#ebebeb" stroke-width="0.5"/>
<line x1="279.3" y1="76.60" x2="341.4" y2="76.60" stroke="#ebebeb" stroke-width="0.5"/>
<line x1="279.3" y1="49.40" x2="341.4" y2="49.40" stroke="#ebebeb" stroke-width="0.5"/>
<line x1="288.5" y1="26.2" x2="288.5" y2="158.6" stroke="#ebebeb" stroke-width="0.5"/>
<line x1="310.3" y1="26.2" x2="310.3" y2="158.6" stroke="#ebebeb" stroke-width="0.5"/>
<line x1="332.3" y1="26.2" x2="332.3" y2="158.6" stroke="#ebebeb" stroke-width="0.5"/>
<path d="M288.5 50.22L310.3 130.46L332.3 75.78" fill="none" stroke="#2a2a2a" stroke-width="0.55"/>
<path d="M288.5 78.78L310.3 132.36L332.3 109.24" fill="none" stroke="#2a2a2a" stroke-width="0.55"/>
<path d="M288.5 92.38L310.3 128.28L332.3 116.04" fill="none" stroke="#2a2a2a" stroke-width="0.55"/>
<path d="M288.5 104.89L310.3 105.98L332.3 122.02" fill="none" stroke="#2a2a2a" stroke-width="0.55"/>
<path d="M288.5 117.40L310.3 117.94L332.3 123.38" fill="none" stroke="#2a2a2a" stroke-width="0.55"/>
<path d="M288.5 120.12L310.3 109.24L332.3 124.74" fill="none" stroke="#2a2a2a" stroke-width="0.55"/>
<path d="M288.5 121.48L310.3 126.92L332.3 126.92" fill="none" stroke="#2a2a2a" stroke-width="0.55"/>
<path d="M288.5 123.11L310.3 124.20L332.3 42.06" fill="none" stroke="#2a2a2a" stroke-width="0.55"/>
<path d="M288.5 124.20L310.3 134.26L332.3 130.18" fill="none" stroke="#2a2a2a" stroke-width="0.55"/>
<path d="M288.5 125.83L310.3 125.83L332.3 131.82" fill="none" stroke="#2a2a2a" stroke-width="0.55"/>
<path d="M288.5 127.74L310.3 129.64L332.3 135.08" fill="none" stroke="#2a2a2a" stroke-width="0.55"/>
<path d="M288.5 130.18L310.3 131.27L332.3 143.51" fill="none" stroke="#2a2a2a" stroke-width="0.55"/>
<path d="M288.5 132.36L310.3 125.02L332.3 128.28" fill="none" stroke="#2a2a2a" stroke-width="0.55"/>
<path d="M288.5 135.08L310.3 127.74L332.3 84.22" fill="none" stroke="#2a2a2a" stroke-width="0.55"/>
<path d="M288.5 118.76L310.3 131.00L332.3 125.56" fill="none" stroke="#2a2a2a" stroke-width="0.55"/>
<path d="M288.5 125.56L310.3 128.82L332.3 129.64" fill="none" stroke="#2a2a2a" stroke-width="0.55"/>
<path d="M288.5 128.82L310.3 133.72L332.3 122.84" fill="none" stroke="#2a2a2a" stroke-width="0.55"/>
<path d="M288.5 122.84L310.3 126.38L332.3 133.72" fill="none" stroke="#2a2a2a" stroke-width="0.55"/>
<circle cx="288.5" cy="50.22" r="2.6" fill="#747474" stroke="#2a2a2a" stroke-width="0.6"/>
<circle cx="288.5" cy="78.78" r="2.6" fill="#747474" stroke="#2a2a2a" stroke-width="0.6"/>
<circle cx="288.5" cy="92.38" r="2.6" fill="#747474" stroke="#2a2a2a" stroke-width="0.6"/>
<circle cx="288.5" cy="104.89" r="2.6" fill="#747474" stroke="#2a2a2a" stroke-width="0.6"/>
<circle cx="288.5" cy="117.40" r="2.6" fill="#747474" stroke="#2a2a2a" stroke-width="0.6"/>
<circle cx="288.5" cy="120.12" r="2.6" fill="#747474" stroke="#2a2a2a" stroke-width="0.6"/>
<circle cx="288.5" cy="121.48" r="2.6" fill="#747474" stroke="#2a2a2a" stroke-width="0.6"/>
<circle cx="288.5" cy="123.11" r="2.6" fill="#747474" stroke="#2a2a2a" stroke-width="0.6"/>
<circle cx="288.5" cy="124.20" r="2.6" fill="#747474" stroke="#2a2a2a" stroke-width="0.6"/>
<circle cx="288.5" cy="125.83" r="2.6" fill="#747474" stroke="#2a2a2a" stroke-width="0.6"/>
<circle cx="288.5" cy="127.74" r="2.6" fill="#747474" stroke="#2a2a2a" stroke-width="0.6"/>
<circle cx="288.5" cy="130.18" r="2.6" fill="#747474" stroke="#2a2a2a" stroke-width="0.6"/>
<circle cx="288.5" cy="132.36" r="2.6" fill="#747474" stroke="#2a2a2a" stroke-width="0.6"/>
<circle cx="288.5" cy="135.08" r="2.6" fill="#747474" stroke="#2a2a2a" stroke-width="0.6"/>
<circle cx="288.5" cy="118.76" r="2.6" fill="#747474" stroke="#2a2a2a" stroke-width="0.6"/>
<circle cx="288.5" cy="125.56" r="2.6" fill="#747474" stroke="#2a2a2a" stroke-width="0.6"/>
<circle cx="288.5" cy="128.82" r="2.6" fill="#747474" stroke="#2a2a2a" stroke-width="0.6"/>
<circle cx="288.5" cy="122.84" r="2.6" fill="#747474" stroke="#2a2a2a" stroke-width="0.6"/>
<circle cx="310.3" cy="130.46" r="2.6" fill="#4cc6d6" stroke="#2a2a2a" stroke-width="0.6"/>
<circle cx="310.3" cy="132.36" r="2.6" fill="#4cc6d6" stroke="#2a2a2a" stroke-width="0.6"/>
<circle cx="310.3" cy="128.28" r="2.6" fill="#4cc6d6" stroke="#2a2a2a" stroke-width="0.6"/>
<circle cx="310.3" cy="105.98" r="2.6" fill="#4cc6d6" stroke="#2a2a2a" stroke-width="0.6"/>
<circle cx="310.3" cy="117.94" r="2.6" fill="#4cc6d6" stroke="#2a2a2a" stroke-width="0.6"/>
<circle cx="310.3" cy="109.24" r="2.6" fill="#4cc6d6" stroke="#2a2a2a" stroke-width="0.6"/>
<circle cx="310.3" cy="126.92" r="2.6" fill="#4cc6d6" stroke="#2a2a2a" stroke-width="0.6"/>
<circle cx="310.3" cy="124.20" r="2.6" fill="#4cc6d6" stroke="#2a2a2a" stroke-width="0.6"/>
<circle cx="310.3" cy="134.26" r="2.6" fill="#4cc6d6" stroke="#2a2a2a" stroke-width="0.6"/>
<circle cx="310.3" cy="125.83" r="2.6" fill="#4cc6d6" stroke="#2a2a2a" stroke-width="0.6"/>
<circle cx="310.3" cy="129.64" r="2.6" fill="#4cc6d6" stroke="#2a2a2a" stroke-width="0.6"/>
<circle cx="310.3" cy="131.27" r="2.6" fill="#4cc6d6" stroke="#2a2a2a" stroke-width="0.6"/>
<circle cx="310.3" cy="125.02" r="2.6" fill="#4cc6d6" stroke="#2a2a2a" stroke-width="0.6"/>
<circle cx="310.3" cy="127.74" r="2.6" fill="#4cc6d6" stroke="#2a2a2a" stroke-width="0.6"/>
<circle cx="310.3" cy="131.00" r="2.6" fill="#4cc6d6" stroke="#2a2a2a" stroke-width="0.6"/>
<circle cx="310.3" cy="128.82" r="2.6" fill="#4cc6d6" stroke="#2a2a2a" stroke-width="0.6"/>
<circle cx="310.3" cy="133.72" r="2.6" fill="#4cc6d6" stroke="#2a2a2a" stroke-width="0.6"/>
<circle cx="310.3" cy="126.38" r="2.6" fill="#4cc6d6" stroke="#2a2a2a" stroke-width="0.6"/>
<circle cx="332.3" cy="75.78" r="2.6" fill="#e65e4a" stroke="#2a2a2a" stroke-width="0.6"/>
<circle cx="332.3" cy="109.24" r="2.6" fill="#e65e4a" stroke="#2a2a2a" stroke-width="0.6"/>
<circle cx="332.3" cy="116.04" r="2.6" fill="#e65e4a" stroke="#2a2a2a" stroke-width="0.6"/>
<circle cx="332.3" cy="122.02" r="2.6" fill="#e65e4a" stroke="#2a2a2a" stroke-width="0.6"/>
<circle cx="332.3" cy="123.38" r="2.6" fill="#e65e4a" stroke="#2a2a2a" stroke-width="0.6"/>
<circle cx="332.3" cy="124.74" r="2.6" fill="#e65e4a" stroke="#2a2a2a" stroke-width="0.6"/>
<circle cx="332.3" cy="126.92" r="2.6" fill="#e65e4a" stroke="#2a2a2a" stroke-width="0.6"/>
<circle cx="332.3" cy="42.06" r="2.6" fill="#e65e4a" stroke="#2a2a2a" stroke-width="0.6"/>
<circle cx="332.3" cy="130.18" r="2.6" fill="#e65e4a" stroke="#2a2a2a" stroke-width="0.6"/>
<circle cx="332.3" cy="131.82" r="2.6" fill="#e65e4a" stroke="#2a2a2a" stroke-width="0.6"/>
<circle cx="332.3" cy="135.08" r="2.6" fill="#e65e4a" stroke="#2a2a2a" stroke-width="0.6"/>
<circle cx="332.3" cy="143.51" r="2.6" fill="#e65e4a" stroke="#2a2a2a" stroke-width="0.6"/>
<circle cx="332.3" cy="128.28" r="2.6" fill="#e65e4a" stroke="#2a2a2a" stroke-width="0.6"/>
<circle cx="332.3" cy="84.22" r="2.6" fill="#e65e4a" stroke="#2a2a2a" stroke-width="0.6"/>
<circle cx="332.3" cy="125.56" r="2.6" fill="#e65e4a" stroke="#2a2a2a" stroke-width="0.6"/>
<circle cx="332.3" cy="129.64" r="2.6" fill="#e65e4a" stroke="#2a2a2a" stroke-width="0.6"/>
<circle cx="332.3" cy="122.84" r="2.6" fill="#e65e4a" stroke="#2a2a2a" stroke-width="0.6"/>
<circle cx="332.3" cy="133.72" r="2.6" fill="#e65e4a" stroke="#2a2a2a" stroke-width="0.6"/>
<rect x="279.3" y="26.2" width="62.10" height="132.40" fill="none" stroke="#8c8c8c" stroke-width="0.9"/>
<line x1="276.8" y1="158.20" x2="279.3" y2="158.20" stroke="#444" stroke-width="0.6"/>
<text x="275.7" y="160.6" font-size="7" text-anchor="end" fill="#4d4d4d" >-10</text>
<line x1="276.8" y1="131.00" x2="279.3" y2="131.00" stroke="#444" stroke-width="0.6"/>
<text x="275.7" y="133.4" font-size="7" text-anchor="end" fill="#4d4d4d" >0</text>
<line x1="276.8" y1="103.80" x2="279.3" y2="103.80" stroke="#444" stroke-width="0.6"/>
<text x="275.7" y="106.2" font-size="7" text-anchor="end" fill="#4d4d4d" >10</text>
<line x1="276.8" y1="76.60" x2="279.3" y2="76.60" stroke="#444" stroke-width="0.6"/>
<text x="275.7" y="79.0" font-size="7" text-anchor="end" fill="#4d4d4d" >20</text>
<line x1="276.8" y1="49.40" x2="279.3" y2="49.40" stroke="#444" stroke-width="0.6"/>
<text x="275.7" y="51.8" font-size="7" text-anchor="end" fill="#4d4d4d" >30</text>
<line x1="288.5" y1="158.6" x2="288.5" y2="161.1" stroke="#444" stroke-width="0.6"/>
<text transform="translate(288.5,166.3) rotate(-17)" x="0" y="2.5" font-size="7.2" text-anchor="middle" fill="#333" textLength="8.2" lengthAdjust="spacingAndGlyphs">Off</text>
<line x1="310.3" y1="158.6" x2="310.3" y2="161.1" stroke="#444" stroke-width="0.6"/>
<text transform="translate(310.3,166.8) rotate(-17)" x="0" y="2.5" font-size="7.2" text-anchor="middle" fill="#333" textLength="11.0" lengthAdjust="spacingAndGlyphs">5Hz</text>
<line x1="332.3" y1="158.6" x2="332.3" y2="161.1" stroke="#444" stroke-width="0.6"/>
<text transform="translate(332.3,168.5) rotate(-17)" x="0" y="2.5" font-size="7.2" text-anchor="middle" fill="#333" textLength="17.2" lengthAdjust="spacingAndGlyphs">130Hz</text>
<text transform="translate(262.0,92.4) rotate(-90)" x="0" y="0" font-size="7.5" text-anchor="middle" fill="#222" textLength="59.8" lengthAdjust="spacingAndGlyphs">Error Rate Cost (%)</text>
<line x1="369.4" y1="156.80" x2="431.3" y2="156.80" stroke="#ebebeb" stroke-width="0.5"/>
<line x1="369.4" y1="142.05" x2="431.3" y2="142.05" stroke="#ebebeb" stroke-width="0.5"/>
<line x1="369.4" y1="127.30" x2="431.3" y2="127.30" stroke="#ebebeb" stroke-width="0.5"/>
<line x1="369.4" y1="112.55" x2="431.3" y2="112.55" stroke="#ebebeb" stroke-width="0.5"/>
<line x1="369.4" y1="97.80" x2="431.3" y2="97.80" stroke="#ebebeb" stroke-width="0.5"/>
<line x1="369.4" y1="83.05" x2="431.3" y2="83.05" stroke="#ebebeb" stroke-width="0.5"/>
<line x1="369.4" y1="68.30" x2="431.3" y2="68.30" stroke="#ebebeb" stroke-width="0.5"/>
<line x1="369.4" y1="53.55" x2="431.3" y2="53.55" stroke="#ebebeb" stroke-width="0.5"/>
<line x1="369.4" y1="38.80" x2="431.3" y2="38.80" stroke="#ebebeb" stroke-width="0.5"/>
<line x1="378.0" y1="26.2" x2="378.0" y2="158.6" stroke="#ebebeb" stroke-width="0.5"/>
<line x1="400.2" y1="26.2" x2="400.2" y2="158.6" stroke="#ebebeb" stroke-width="0.5"/>
<line x1="422.4" y1="26.2" x2="422.4" y2="158.6" stroke="#ebebeb" stroke-width="0.5"/>
<path d="M378.0 41.16L400.2 67.86L422.4 93.97" fill="none" stroke="#2a2a2a" stroke-width="0.55"/>
<path d="M378.0 51.34L400.2 51.34L422.4 98.24" fill="none" stroke="#2a2a2a" stroke-width="0.55"/>
<path d="M378.0 55.91L400.2 55.91L422.4 109.90" fill="none" stroke="#2a2a2a" stroke-width="0.55"/>
<path d="M378.0 73.76L400.2 76.27L422.4 112.55" fill="none" stroke="#2a2a2a" stroke-width="0.55"/>
<path d="M378.0 75.68L400.2 59.45L422.4 119.93" fill="none" stroke="#2a2a2a" stroke-width="0.55"/>
<path d="M378.0 80.84L400.2 79.51L422.4 122.88" fill="none" stroke="#2a2a2a" stroke-width="0.55"/>
<path d="M378.0 83.05L400.2 82.76L422.4 125.83" fill="none" stroke="#2a2a2a" stroke-width="0.55"/>
<path d="M378.0 85.56L400.2 85.56L422.4 128.04" fill="none" stroke="#2a2a2a" stroke-width="0.55"/>
<path d="M378.0 93.82L400.2 88.95L422.4 116.98" fill="none" stroke="#2a2a2a" stroke-width="0.55"/>
<path d="M378.0 94.41L400.2 97.95L422.4 134.68" fill="none" stroke="#2a2a2a" stroke-width="0.55"/>
<path d="M378.0 103.55L400.2 107.83L422.4 131.73" fill="none" stroke="#2a2a2a" stroke-width="0.55"/>
<path d="M378.0 114.91L400.2 118.75L422.4 137.62" fill="none" stroke="#2a2a2a" stroke-width="0.55"/>
<path d="M378.0 119.34L400.2 122.14L422.4 140.58" fill="none" stroke="#2a2a2a" stroke-width="0.55"/>
<path d="M378.0 126.86L400.2 128.19L422.4 143.67" fill="none" stroke="#2a2a2a" stroke-width="0.55"/>
<path d="M378.0 132.76L400.2 134.09L422.4 142.05" fill="none" stroke="#2a2a2a" stroke-width="0.55"/>
<path d="M378.0 116.98L400.2 94.85L422.4 125.83" fill="none" stroke="#2a2a2a" stroke-width="0.55"/>
<circle cx="378.0" cy="41.16" r="2.6" fill="#747474" stroke="#2a2a2a" stroke-width="0.6"/>
<circle cx="378.0" cy="51.34" r="2.6" fill="#747474" stroke="#2a2a2a" stroke-width="0.6"/>
<circle cx="378.0" cy="55.91" r="2.6" fill="#747474" stroke="#2a2a2a" stroke-width="0.6"/>
<circle cx="378.0" cy="73.76" r="2.6" fill="#747474" stroke="#2a2a2a" stroke-width="0.6"/>
<circle cx="378.0" cy="75.68" r="2.6" fill="#747474" stroke="#2a2a2a" stroke-width="0.6"/>
<circle cx="378.0" cy="80.84" r="2.6" fill="#747474" stroke="#2a2a2a" stroke-width="0.6"/>
<circle cx="378.0" cy="83.05" r="2.6" fill="#747474" stroke="#2a2a2a" stroke-width="0.6"/>
<circle cx="378.0" cy="85.56" r="2.6" fill="#747474" stroke="#2a2a2a" stroke-width="0.6"/>
<circle cx="378.0" cy="93.82" r="2.6" fill="#747474" stroke="#2a2a2a" stroke-width="0.6"/>
<circle cx="378.0" cy="94.41" r="2.6" fill="#747474" stroke="#2a2a2a" stroke-width="0.6"/>
<circle cx="378.0" cy="103.55" r="2.6" fill="#747474" stroke="#2a2a2a" stroke-width="0.6"/>
<circle cx="378.0" cy="114.91" r="2.6" fill="#747474" stroke="#2a2a2a" stroke-width="0.6"/>
<circle cx="378.0" cy="119.34" r="2.6" fill="#747474" stroke="#2a2a2a" stroke-width="0.6"/>
<circle cx="378.0" cy="126.86" r="2.6" fill="#747474" stroke="#2a2a2a" stroke-width="0.6"/>
<circle cx="378.0" cy="132.76" r="2.6" fill="#747474" stroke="#2a2a2a" stroke-width="0.6"/>
<circle cx="378.0" cy="116.98" r="2.6" fill="#747474" stroke="#2a2a2a" stroke-width="0.6"/>
<circle cx="400.2" cy="67.86" r="2.6" fill="#4cc6d6" stroke="#2a2a2a" stroke-width="0.6"/>
<circle cx="400.2" cy="51.34" r="2.6" fill="#4cc6d6" stroke="#2a2a2a" stroke-width="0.6"/>
<circle cx="400.2" cy="55.91" r="2.6" fill="#4cc6d6" stroke="#2a2a2a" stroke-width="0.6"/>
<circle cx="400.2" cy="76.27" r="2.6" fill="#4cc6d6" stroke="#2a2a2a" stroke-width="0.6"/>
<circle cx="400.2" cy="59.45" r="2.6" fill="#4cc6d6" stroke="#2a2a2a" stroke-width="0.6"/>
<circle cx="400.2" cy="79.51" r="2.6" fill="#4cc6d6" stroke="#2a2a2a" stroke-width="0.6"/>
<circle cx="400.2" cy="82.76" r="2.6" fill="#4cc6d6" stroke="#2a2a2a" stroke-width="0.6"/>
<circle cx="400.2" cy="85.56" r="2.6" fill="#4cc6d6" stroke="#2a2a2a" stroke-width="0.6"/>
<circle cx="400.2" cy="88.95" r="2.6" fill="#4cc6d6" stroke="#2a2a2a" stroke-width="0.6"/>
<circle cx="400.2" cy="97.95" r="2.6" fill="#4cc6d6" stroke="#2a2a2a" stroke-width="0.6"/>
<circle cx="400.2" cy="107.83" r="2.6" fill="#4cc6d6" stroke="#2a2a2a" stroke-width="0.6"/>
<circle cx="400.2" cy="118.75" r="2.6" fill="#4cc6d6" stroke="#2a2a2a" stroke-width="0.6"/>
<circle cx="400.2" cy="122.14" r="2.6" fill="#4cc6d6" stroke="#2a2a2a" stroke-width="0.6"/>
<circle cx="400.2" cy="128.19" r="2.6" fill="#4cc6d6" stroke="#2a2a2a" stroke-width="0.6"/>
<circle cx="400.2" cy="134.09" r="2.6" fill="#4cc6d6" stroke="#2a2a2a" stroke-width="0.6"/>
<circle cx="400.2" cy="94.85" r="2.6" fill="#4cc6d6" stroke="#2a2a2a" stroke-width="0.6"/>
<circle cx="422.4" cy="93.97" r="2.6" fill="#e65e4a" stroke="#2a2a2a" stroke-width="0.6"/>
<circle cx="422.4" cy="98.24" r="2.6" fill="#e65e4a" stroke="#2a2a2a" stroke-width="0.6"/>
<circle cx="422.4" cy="109.90" r="2.6" fill="#e65e4a" stroke="#2a2a2a" stroke-width="0.6"/>
<circle cx="422.4" cy="112.55" r="2.6" fill="#e65e4a" stroke="#2a2a2a" stroke-width="0.6"/>
<circle cx="422.4" cy="119.93" r="2.6" fill="#e65e4a" stroke="#2a2a2a" stroke-width="0.6"/>
<circle cx="422.4" cy="122.88" r="2.6" fill="#e65e4a" stroke="#2a2a2a" stroke-width="0.6"/>
<circle cx="422.4" cy="125.83" r="2.6" fill="#e65e4a" stroke="#2a2a2a" stroke-width="0.6"/>
<circle cx="422.4" cy="128.04" r="2.6" fill="#e65e4a" stroke="#2a2a2a" stroke-width="0.6"/>
<circle cx="422.4" cy="116.98" r="2.6" fill="#e65e4a" stroke="#2a2a2a" stroke-width="0.6"/>
<circle cx="422.4" cy="134.68" r="2.6" fill="#e65e4a" stroke="#2a2a2a" stroke-width="0.6"/>
<circle cx="422.4" cy="131.73" r="2.6" fill="#e65e4a" stroke="#2a2a2a" stroke-width="0.6"/>
<circle cx="422.4" cy="137.62" r="2.6" fill="#e65e4a" stroke="#2a2a2a" stroke-width="0.6"/>
<circle cx="422.4" cy="140.58" r="2.6" fill="#e65e4a" stroke="#2a2a2a" stroke-width="0.6"/>
<circle cx="422.4" cy="143.67" r="2.6" fill="#e65e4a" stroke="#2a2a2a" stroke-width="0.6"/>
<circle cx="422.4" cy="142.05" r="2.6" fill="#e65e4a" stroke="#2a2a2a" stroke-width="0.6"/>
<circle cx="422.4" cy="125.83" r="2.6" fill="#e65e4a" stroke="#2a2a2a" stroke-width="0.6"/>
<rect x="369.4" y="26.2" width="61.90" height="132.40" fill="none" stroke="#8c8c8c" stroke-width="0.9"/>
<line x1="366.9" y1="156.80" x2="369.4" y2="156.80" stroke="#444" stroke-width="0.6"/>
<text x="365.8" y="159.2" font-size="7" text-anchor="end" fill="#4d4d4d" >0</text>
<line x1="366.9" y1="142.05" x2="369.4" y2="142.05" stroke="#444" stroke-width="0.6"/>
<text x="365.8" y="144.45" font-size="7" text-anchor="end" fill="#4d4d4d" >10</text>
<line x1="366.9" y1="127.30" x2="369.4" y2="127.30" stroke="#444" stroke-width="0.6"/>
<text x="365.8" y="129.7" font-size="7" text-anchor="end" fill="#4d4d4d" >20</text>
<line x1="366.9" y1="112.55" x2="369.4" y2="112.55" stroke="#444" stroke-width="0.6"/>
<text x="365.8" y="114.95" font-size="7" text-anchor="end" fill="#4d4d4d" >30</text>
<line x1="366.9" y1="97.80" x2="369.4" y2="97.80" stroke="#444" stroke-width="0.6"/>
<text x="365.8" y="100.2" font-size="7" text-anchor="end" fill="#4d4d4d" >40</text>
<line x1="366.9" y1="83.05" x2="369.4" y2="83.05" stroke="#444" stroke-width="0.6"/>
<text x="365.8" y="85.45" font-size="7" text-anchor="end" fill="#4d4d4d" >50</text>
<line x1="366.9" y1="68.30" x2="369.4" y2="68.30" stroke="#444" stroke-width="0.6"/>
<text x="365.8" y="70.7" font-size="7" text-anchor="end" fill="#4d4d4d" >60</text>
<line x1="366.9" y1="53.55" x2="369.4" y2="53.55" stroke="#444" stroke-width="0.6"/>
<text x="365.8" y="55.95" font-size="7" text-anchor="end" fill="#4d4d4d" >70</text>
<line x1="366.9" y1="38.80" x2="369.4" y2="38.80" stroke="#444" stroke-width="0.6"/>
<text x="365.8" y="41.2" font-size="7" text-anchor="end" fill="#4d4d4d" >80</text>
<line x1="378.0" y1="158.6" x2="378.0" y2="161.1" stroke="#444" stroke-width="0.6"/>
<text transform="translate(378.0,166.3) rotate(-17)" x="0" y="2.5" font-size="7.2" text-anchor="middle" fill="#333" textLength="8.2" lengthAdjust="spacingAndGlyphs">Off</text>
<line x1="400.2" y1="158.6" x2="400.2" y2="161.1" stroke="#444" stroke-width="0.6"/>
<text transform="translate(400.2,166.8) rotate(-17)" x="0" y="2.5" font-size="7.2" text-anchor="middle" fill="#333" textLength="11.0" lengthAdjust="spacingAndGlyphs">5Hz</text>
<line x1="422.4" y1="158.6" x2="422.4" y2="161.1" stroke="#444" stroke-width="0.6"/>
<text transform="translate(422.4,168.5) rotate(-17)" x="0" y="2.5" font-size="7.2" text-anchor="middle" fill="#333" textLength="17.2" lengthAdjust="spacingAndGlyphs">130Hz</text>
<text transform="translate(352.1,94.9) rotate(-90)" x="0" y="0" font-size="7.5" text-anchor="middle" fill="#222" textLength="64.8" lengthAdjust="spacingAndGlyphs">MDS-UPDRS III score</text>
<line x1="377.9" y1="32.3" x2="421.7" y2="32.3" stroke="#333" stroke-width="1.0"/>
<text x="399.8" y="33.6" font-size="8.2" font-weight="bold" text-anchor="middle" fill="#222" >***</text>
<line x1="400.4" y1="43.1" x2="421.7" y2="43.1" stroke="#9a9a9a" stroke-width="1.5"/>
<text x="411.05" y="44.6" font-size="8.2" font-weight="bold" text-anchor="middle" fill="#222" >***</text>
<text x="312.4" y="199.6" font-size="11" font-weight="bold" text-anchor="middle" fill="#000" textLength="98.4" lengthAdjust="spacingAndGlyphs">fMRI Block Design</text>
<text x="311.8" y="211.3" font-size="7.7" font-weight="bold" text-anchor="middle" fill="#000" >DBS Pattern:</text>
<text x="313.1" y="223.6" font-size="8.3" text-anchor="middle" fill="#111" textLength="184.6" lengthAdjust="spacingAndGlyphs">30 s ON - 30 s OFF Cycle (6 Cycles, 390 s in Total)</text>
<rect x="227.8" y="233" width="28.4" height="19.3" fill="#b87c6c"/>
<rect x="285.0" y="233" width="27.7" height="19.3" fill="#b87c6c"/>
<rect x="342.4" y="233" width="27.7" height="19.3" fill="#b87c6c"/>
<path d="M227.8 252.3V232.9H256.2V251H285.0V232.9H312.7V251H342.4V232.9H370.1V251H399.6" fill="none" stroke="#000" stroke-width="1.8"/>
<circle cx="409.6" cy="250.2" r="1.05" fill="#111"/>
<circle cx="413.5" cy="250.2" r="1.05" fill="#111"/>
<circle cx="417.4" cy="250.2" r="1.05" fill="#111"/>
<text x="210.5" y="262.2" font-size="7.3" font-weight="bold" text-anchor="start" fill="#111" >DBS</text>
<text x="241" y="263.2" font-size="7.3" font-weight="bold" text-anchor="middle" fill="#111" >ON</text>
<text x="270" y="263.2" font-size="7.3" font-weight="bold" text-anchor="middle" fill="#111" >OFF</text>
<text x="299" y="263.2" font-size="7.3" font-weight="bold" text-anchor="middle" fill="#111" >ON</text>
<text x="327.6" y="263.2" font-size="7.3" font-weight="bold" text-anchor="middle" fill="#111" >OFF</text>
<text x="356.5" y="263.2" font-size="7.3" font-weight="bold" text-anchor="middle" fill="#111" >ON</text>
<text x="385.6" y="263.2" font-size="7.3" font-weight="bold" text-anchor="middle" fill="#111" >OFF</text>
<text x="242" y="276.1" font-size="7.3" font-weight="bold" text-anchor="middle" fill="#111" >30 s</text>
<text x="271" y="276.1" font-size="7.3" font-weight="bold" text-anchor="middle" fill="#111" >30 s</text>
<text x="300" y="276.1" font-size="7.3" font-weight="bold" text-anchor="middle" fill="#111" >30 s</text>
<text x="329.5" y="276.1" font-size="7.3" font-weight="bold" text-anchor="middle" fill="#111" >30 s</text>
<text x="358.5" y="276.1" font-size="7.3" font-weight="bold" text-anchor="middle" fill="#111" >30 s</text>
<text x="388" y="276.1" font-size="7.3" font-weight="bold" text-anchor="middle" fill="#111" >30 s</text>
<line x1="286.6" y1="252.3" x2="217.9" y2="309.6" stroke="#c98a72" stroke-width="0.8"/>
<line x1="288.6" y1="252.3" x2="432.8" y2="309.6" stroke="#c98a72" stroke-width="0.8"/>
<text x="312.4" y="294.4" font-size="8.8" text-anchor="middle" fill="#222" >Stim frequency:</text>
<text x="312.2" y="305.0" font-size="8.8" text-anchor="middle" fill="#222" >Pseudorandomized order</text>
<rect x="217.9" y="309.6" width="215" height="30" fill="#b87c6c" stroke="#4c5a82" stroke-width="0.9"/>
<line x1="219.6" y1="313.3" x2="219.6" y2="321.8" stroke="#2b2020" stroke-width="0.9"/>
<line x1="272.4" y1="313.3" x2="272.4" y2="321.8" stroke="#2b2020" stroke-width="0.9"/>
<line x1="325.2" y1="313.3" x2="325.2" y2="321.8" stroke="#2b2020" stroke-width="0.9"/>
<line x1="378.0" y1="313.3" x2="378.0" y2="321.8" stroke="#2b2020" stroke-width="0.9"/>
<line x1="430.6" y1="313.3" x2="430.6" y2="321.8" stroke="#2b2020" stroke-width="0.9"/>
<line x1="219.90" y1="327.8" x2="219.90" y2="336.8" stroke="#2e1c18" stroke-width="0.85"/>
<line x1="221.95" y1="327.8" x2="221.95" y2="336.8" stroke="#2e1c18" stroke-width="0.85"/>
<line x1="224.00" y1="327.8" x2="224.00" y2="336.8" stroke="#2e1c18" stroke-width="0.85"/>
<line x1="226.05" y1="327.8" x2="226.05" y2="336.8" stroke="#2e1c18" stroke-width="0.85"/>
<line x1="228.11" y1="327.8" x2="228.11" y2="336.8" stroke="#2e1c18" stroke-width="0.85"/>
<line x1="230.16" y1="327.8" x2="230.16" y2="336.8" stroke="#2e1c18" stroke-width="0.85"/>
<line x1="232.21" y1="327.8" x2="232.21" y2="336.8" stroke="#2e1c18" stroke-width="0.85"/>
<line x1="234.26" y1="327.8" x2="234.26" y2="336.8" stroke="#2e1c18" stroke-width="0.85"/>
<line x1="236.31" y1="327.8" x2="236.31" y2="336.8" stroke="#2e1c18" stroke-width="0.85"/>
<line x1="238.36" y1="327.8" x2="238.36" y2="336.8" stroke="#2e1c18" stroke-width="0.85"/>
<line x1="240.41" y1="327.8" x2="240.41" y2="336.8" stroke="#2e1c18" stroke-width="0.85"/>
<line x1="242.47" y1="327.8" x2="242.47" y2="336.8" stroke="#2e1c18" stroke-width="0.85"/>
<line x1="244.52" y1="327.8" x2="244.52" y2="336.8" stroke="#2e1c18" stroke-width="0.85"/>
<line x1="246.57" y1="327.8" x2="246.57" y2="336.8" stroke="#2e1c18" stroke-width="0.85"/>
<line x1="248.62" y1="327.8" x2="248.62" y2="336.8" stroke="#2e1c18" stroke-width="0.85"/>
<line x1="250.67" y1="327.8" x2="250.67" y2="336.8" stroke="#2e1c18" stroke-width="0.85"/>
<line x1="252.72" y1="327.8" x2="252.72" y2="336.8" stroke="#2e1c18" stroke-width="0.85"/>
<line x1="254.77" y1="327.8" x2="254.77" y2="336.8" stroke="#2e1c18" stroke-width="0.85"/>
<line x1="256.83" y1="327.8" x2="256.83" y2="336.8" stroke="#2e1c18" stroke-width="0.85"/>
<line x1="258.88" y1="327.8" x2="258.88" y2="336.8" stroke="#2e1c18" stroke-width="0.85"/>
<line x1="260.93" y1="327.8" x2="260.93" y2="336.8" stroke="#2e1c18" stroke-width="0.85"/>
<line x1="262.98" y1="327.8" x2="262.98" y2="336.8" stroke="#2e1c18" stroke-width="0.85"/>
<line x1="265.03" y1="327.8" x2="265.03" y2="336.8" stroke="#2e1c18" stroke-width="0.85"/>
<line x1="267.08" y1="327.8" x2="267.08" y2="336.8" stroke="#2e1c18" stroke-width="0.85"/>
<line x1="269.13" y1="327.8" x2="269.13" y2="336.8" stroke="#2e1c18" stroke-width="0.85"/>
<line x1="271.19" y1="327.8" x2="271.19" y2="336.8" stroke="#2e1c18" stroke-width="0.85"/>
<line x1="273.24" y1="327.8" x2="273.24" y2="336.8" stroke="#2e1c18" stroke-width="0.85"/>
<line x1="275.29" y1="327.8" x2="275.29" y2="336.8" stroke="#2e1c18" stroke-width="0.85"/>
<line x1="277.34" y1="327.8" x2="277.34" y2="336.8" stroke="#2e1c18" stroke-width="0.85"/>
<line x1="279.39" y1="327.8" x2="279.39" y2="336.8" stroke="#2e1c18" stroke-width="0.85"/>
<line x1="281.44" y1="327.8" x2="281.44" y2="336.8" stroke="#2e1c18" stroke-width="0.85"/>
<line x1="283.50" y1="327.8" x2="283.50" y2="336.8" stroke="#2e1c18" stroke-width="0.85"/>
<line x1="285.55" y1="327.8" x2="285.55" y2="336.8" stroke="#2e1c18" stroke-width="0.85"/>
<line x1="287.60" y1="327.8" x2="287.60" y2="336.8" stroke="#2e1c18" stroke-width="0.85"/>
<line x1="289.65" y1="327.8" x2="289.65" y2="336.8" stroke="#2e1c18" stroke-width="0.85"/>
<line x1="291.70" y1="327.8" x2="291.70" y2="336.8" stroke="#2e1c18" stroke-width="0.85"/>
<line x1="293.75" y1="327.8" x2="293.75" y2="336.8" stroke="#2e1c18" stroke-width="0.85"/>
<line x1="295.80" y1="327.8" x2="295.80" y2="336.8" stroke="#2e1c18" stroke-width="0.85"/>
<line x1="297.86" y1="327.8" x2="297.86" y2="336.8" stroke="#2e1c18" stroke-width="0.85"/>
<line x1="299.91" y1="327.8" x2="299.91" y2="336.8" stroke="#2e1c18" stroke-width="0.85"/>
<line x1="301.96" y1="327.8" x2="301.96" y2="336.8" stroke="#2e1c18" stroke-width="0.85"/>
<line x1="304.01" y1="327.8" x2="304.01" y2="336.8" stroke="#2e1c18" stroke-width="0.85"/>
<line x1="306.06" y1="327.8" x2="306.06" y2="336.8" stroke="#2e1c18" stroke-width="0.85"/>
<line x1="308.11" y1="327.8" x2="308.11" y2="336.8" stroke="#2e1c18" stroke-width="0.85"/>
<line x1="310.16" y1="327.8" x2="310.16" y2="336.8" stroke="#2e1c18" stroke-width="0.85"/>
<line x1="312.22" y1="327.8" x2="312.22" y2="336.8" stroke="#2e1c18" stroke-width="0.85"/>
<line x1="314.27" y1="327.8" x2="314.27" y2="336.8" stroke="#2e1c18" stroke-width="0.85"/>
<line x1="316.32" y1="327.8" x2="316.32" y2="336.8" stroke="#2e1c18" stroke-width="0.85"/>
<line x1="318.37" y1="327.8" x2="318.37" y2="336.8" stroke="#2e1c18" stroke-width="0.85"/>
<line x1="320.42" y1="327.8" x2="320.42" y2="336.8" stroke="#2e1c18" stroke-width="0.85"/>
<line x1="322.47" y1="327.8" x2="322.47" y2="336.8" stroke="#2e1c18" stroke-width="0.85"/>
<line x1="324.52" y1="327.8" x2="324.52" y2="336.8" stroke="#2e1c18" stroke-width="0.85"/>
<line x1="326.58" y1="327.8" x2="326.58" y2="336.8" stroke="#2e1c18" stroke-width="0.85"/>
<line x1="328.63" y1="327.8" x2="328.63" y2="336.8" stroke="#2e1c18" stroke-width="0.85"/>
<line x1="330.68" y1="327.8" x2="330.68" y2="336.8" stroke="#2e1c18" stroke-width="0.85"/>
<line x1="332.73" y1="327.8" x2="332.73" y2="336.8" stroke="#2e1c18" stroke-width="0.85"/>
<line x1="334.78" y1="327.8" x2="334.78" y2="336.8" stroke="#2e1c18" stroke-width="0.85"/>
<line x1="336.83" y1="327.8" x2="336.83" y2="336.8" stroke="#2e1c18" stroke-width="0.85"/>
<line x1="338.88" y1="327.8" x2="338.88" y2="336.8" stroke="#2e1c18" stroke-width="0.85"/>
<line x1="340.94" y1="327.8" x2="340.94" y2="336.8" stroke="#2e1c18" stroke-width="0.85"/>
<line x1="342.99" y1="327.8" x2="342.99" y2="336.8" stroke="#2e1c18" stroke-width="0.85"/>
<line x1="345.04" y1="327.8" x2="345.04" y2="336.8" stroke="#2e1c18" stroke-width="0.85"/>
<line x1="347.09" y1="327.8" x2="347.09" y2="336.8" stroke="#2e1c18" stroke-width="0.85"/>
<line x1="349.14" y1="327.8" x2="349.14" y2="336.8" stroke="#2e1c18" stroke-width="0.85"/>
<line x1="351.19" y1="327.8" x2="351.19" y2="336.8" stroke="#2e1c18" stroke-width="0.85"/>
<line x1="353.24" y1="327.8" x2="353.24" y2="336.8" stroke="#2e1c18" stroke-width="0.85"/>
<line x1="355.30" y1="327.8" x2="355.30" y2="336.8" stroke="#2e1c18" stroke-width="0.85"/>
<line x1="357.35" y1="327.8" x2="357.35" y2="336.8" stroke="#2e1c18" stroke-width="0.85"/>
<line x1="359.40" y1="327.8" x2="359.40" y2="336.8" stroke="#2e1c18" stroke-width="0.85"/>
<line x1="361.45" y1="327.8" x2="361.45" y2="336.8" stroke="#2e1c18" stroke-width="0.85"/>
<line x1="363.50" y1="327.8" x2="363.50" y2="336.8" stroke="#2e1c18" stroke-width="0.85"/>
<line x1="365.55" y1="327.8" x2="365.55" y2="336.8" stroke="#2e1c18" stroke-width="0.85"/>
<line x1="367.60" y1="327.8" x2="367.60" y2="336.8" stroke="#2e1c18" stroke-width="0.85"/>
<line x1="369.66" y1="327.8" x2="369.66" y2="336.8" stroke="#2e1c18" stroke-width="0.85"/>
<line x1="371.71" y1="327.8" x2="371.71" y2="336.8" stroke="#2e1c18" stroke-width="0.85"/>
<line x1="373.76" y1="327.8" x2="373.76" y2="336.8" stroke="#2e1c18" stroke-width="0.85"/>
<line x1="375.81" y1="327.8" x2="375.81" y2="336.8" stroke="#2e1c18" stroke-width="0.85"/>
<line x1="377.86" y1="327.8" x2="377.86" y2="336.8" stroke="#2e1c18" stroke-width="0.85"/>
<line x1="379.91" y1="327.8" x2="379.91" y2="336.8" stroke="#2e1c18" stroke-width="0.85"/>
<line x1="381.97" y1="327.8" x2="381.97" y2="336.8" stroke="#2e1c18" stroke-width="0.85"/>
<line x1="384.02" y1="327.8" x2="384.02" y2="336.8" stroke="#2e1c18" stroke-width="0.85"/>
<line x1="386.07" y1="327.8" x2="386.07" y2="336.8" stroke="#2e1c18" stroke-width="0.85"/>
<line x1="388.12" y1="327.8" x2="388.12" y2="336.8" stroke="#2e1c18" stroke-width="0.85"/>
<line x1="390.17" y1="327.8" x2="390.17" y2="336.8" stroke="#2e1c18" stroke-width="0.85"/>
<line x1="392.22" y1="327.8" x2="392.22" y2="336.8" stroke="#2e1c18" stroke-width="0.85"/>
<line x1="394.27" y1="327.8" x2="394.27" y2="336.8" stroke="#2e1c18" stroke-width="0.85"/>
<line x1="396.33" y1="327.8" x2="396.33" y2="336.8" stroke="#2e1c18" stroke-width="0.85"/>
<line x1="398.38" y1="327.8" x2="398.38" y2="336.8" stroke="#2e1c18" stroke-width="0.85"/>
<line x1="400.43" y1="327.8" x2="400.43" y2="336.8" stroke="#2e1c18" stroke-width="0.85"/>
<line x1="402.48" y1="327.8" x2="402.48" y2="336.8" stroke="#2e1c18" stroke-width="0.85"/>
<line x1="404.53" y1="327.8" x2="404.53" y2="336.8" stroke="#2e1c18" stroke-width="0.85"/>
<line x1="406.58" y1="327.8" x2="406.58" y2="336.8" stroke="#2e1c18" stroke-width="0.85"/>
<line x1="408.63" y1="327.8" x2="408.63" y2="336.8" stroke="#2e1c18" stroke-width="0.85"/>
<line x1="410.69" y1="327.8" x2="410.69" y2="336.8" stroke="#2e1c18" stroke-width="0.85"/>
<line x1="412.74" y1="327.8" x2="412.74" y2="336.8" stroke="#2e1c18" stroke-width="0.85"/>
<line x1="414.79" y1="327.8" x2="414.79" y2="336.8" stroke="#2e1c18" stroke-width="0.85"/>
<line x1="416.84" y1="327.8" x2="416.84" y2="336.8" stroke="#2e1c18" stroke-width="0.85"/>
<line x1="418.89" y1="327.8" x2="418.89" y2="336.8" stroke="#2e1c18" stroke-width="0.85"/>
<line x1="420.94" y1="327.8" x2="420.94" y2="336.8" stroke="#2e1c18" stroke-width="0.85"/>
<line x1="422.99" y1="327.8" x2="422.99" y2="336.8" stroke="#2e1c18" stroke-width="0.85"/>
<line x1="425.05" y1="327.8" x2="425.05" y2="336.8" stroke="#2e1c18" stroke-width="0.85"/>
<line x1="427.10" y1="327.8" x2="427.10" y2="336.8" stroke="#2e1c18" stroke-width="0.85"/>
<line x1="429.15" y1="327.8" x2="429.15" y2="336.8" stroke="#2e1c18" stroke-width="0.85"/>
<line x1="431.20" y1="327.8" x2="431.20" y2="336.8" stroke="#2e1c18" stroke-width="0.85"/>
<line x1="213.6" y1="317.5" x2="217.9" y2="317.5" stroke="#222" stroke-width="0.8"/>
<line x1="213.6" y1="332.6" x2="217.9" y2="332.6" stroke="#222" stroke-width="0.8"/>
<text x="206.8" y="319.9" font-size="7.3" font-weight="bold" text-anchor="end" fill="#111" >5 Hz</text>
<text x="210.5" y="335.9" font-size="7.3" font-weight="bold" text-anchor="end" fill="#111" >130 Hz</text>
<text x="214.9" y="347.2" font-size="7.3" font-weight="bold" text-anchor="start" fill="#111" >0 s</text>
<text x="438.4" y="347.5" font-size="7.3" font-weight="bold" text-anchor="start" fill="#111" >1 s</text>
<rect x="466.4" y="22.2" width="217.3" height="328.3" fill="#000"/>
<text x="574.7" y="36.1" font-size="11.1" text-anchor="middle" fill="#fff" textLength="80" lengthAdjust="spacingAndGlyphs">5 Hz stimulation</text>
<text x="575.8" y="122.4" font-size="11.1" text-anchor="middle" fill="#fff" textLength="91.7" lengthAdjust="spacingAndGlyphs">130 Hz stimulation</text>
<text x="574.7" y="227.2" font-size="11.1" text-anchor="middle" fill="#fff" textLength="120.2" lengthAdjust="spacingAndGlyphs">5Hz &gt;130 Hz stimulation</text>
<clipPath id="bc1"><path d="M499.65 40.0 C513.144 40.0 524.562 52.1 525.6 68.6 C526.119 86.19999999999999 515.22 95.0 499.65 95.0 C484.08 95.0 473.181 86.19999999999999 473.7 68.6 C474.738 52.1 486.15599999999995 40.0 499.65 40.0Z"/></clipPath>
<path d="M499.65 40.0 C513.144 40.0 524.562 52.1 525.6 68.6 C526.119 86.19999999999999 515.22 95.0 499.65 95.0 C484.08 95.0 473.181 86.19999999999999 473.7 68.6 C474.738 52.1 486.15599999999995 40.0 499.65 40.0Z" fill="#e8e8e8"/>
<g clip-path="url(#bc1)">
<g filter="url(#bl03)"><path d="M499.65 40.0 C513.144 40.0 524.562 52.1 525.6 68.6 C526.119 86.19999999999999 515.22 95.0 499.65 95.0 C484.08 95.0 473.181 86.19999999999999 473.7 68.6 C474.738 52.1 486.15599999999995 40.0 499.65 40.0Z" fill="none" stroke="#9a9a9a" stroke-width="5.0"/><path d="M502.7 41.6Q506.0 47.5 502.5 52.0" stroke="#a0a0a0" stroke-width="3.7" stroke-linecap="round" fill="none"/><path d="M505.8 42.1L504.5 48.0" stroke="#a0a0a0" stroke-width="3.7" stroke-linecap="round" fill="none"/><path d="M505.3 42.0Q509.4 50.2 504.0 54.7" stroke="#a0a0a0" stroke-width="3.7" stroke-linecap="round" fill="none"/><path d="M508.7 43.0L506.2 50.8" stroke="#a0a0a0" stroke-width="3.7" stroke-linecap="round" fill="none"/><path d="M511.7 44.3Q509.1 51.1 505.8 57.4" stroke="#a0a0a0" stroke-width="3.7" stroke-linecap="round" fill="none"/><path d="M508.1 52.8L504.0 54.4" stroke="#a0a0a0" stroke-width="3.7" stroke-linecap="round" fill="none"/><path d="M514.7 46.2L510.8 52.4" stroke="#a0a0a0" stroke-width="3.7" stroke-linecap="round" fill="none"/><path d="M516.9 47.9Q513.2 55.0 507.6 60.4" stroke="#a0a0a0" stroke-width="3.7" stroke-linecap="round" fill="none"/><path d="M511.7 55.9L507.6 56.7" stroke="#a0a0a0" stroke-width="3.7" stroke-linecap="round" fill="none"/><path d="M519.7 50.7L515.4 54.8" stroke="#a0a0a0" stroke-width="3.7" stroke-linecap="round" fill="none"/><path d="M519.2 50.1Q516.7 53.5 513.5 56.2" stroke="#a0a0a0" stroke-width="3.7" stroke-linecap="round" fill="none"/><path d="M520.4 51.5L516.1 55.3" stroke="#a0a0a0" stroke-width="3.7" stroke-linecap="round" fill="none"/><path d="M523.2 55.7Q521.9 63.2 516.9 61.3" stroke="#a0a0a0" stroke-width="3.7" stroke-linecap="round" fill="none"/><path d="M520.2 61.4L515.1 58.4" stroke="#a0a0a0" stroke-width="3.7" stroke-linecap="round" fill="none"/><path d="M524.2 57.7L518.8 60.4" stroke="#a0a0a0" stroke-width="3.7" stroke-linecap="round" fill="none"/><path d="M525.2 60.2Q520.8 64.9 515.1 64.8" stroke="#a0a0a0" stroke-width="3.7" stroke-linecap="round" fill="none"/><path d="M519.6 64.1L517.1 68.7" stroke="#a0a0a0" stroke-width="3.7" stroke-linecap="round" fill="none"/><path d="M525.9 62.6L519.9 64.4" stroke="#a0a0a0" stroke-width="3.7" stroke-linecap="round" fill="none"/><path d="M526.0 63.1Q519.6 57.7 517.8 63.5" stroke="#a0a0a0" stroke-width="3.7" stroke-linecap="round" fill="none"/><path d="M526.7 66.7L518.8 67.7" stroke="#a0a0a0" stroke-width="3.7" stroke-linecap="round" fill="none"/><path d="M526.9 71.5Q520.5 72.2 514.2 71.1" stroke="#a0a0a0" stroke-width="3.7" stroke-linecap="round" fill="none"/><path d="M518.7 71.7L514.0 68.1" stroke="#a0a0a0" stroke-width="3.7" stroke-linecap="round" fill="none"/><path d="M526.8 73.0L519.4 72.3" stroke="#a0a0a0" stroke-width="3.7" stroke-linecap="round" fill="none"/><path d="M526.2 76.9Q520.3 75.6 514.5 74.0" stroke="#a0a0a0" stroke-width="3.7" stroke-linecap="round" fill="none"/><path d="M525.7 78.8L519.1 76.6" stroke="#a0a0a0" stroke-width="3.7" stroke-linecap="round" fill="none"/><path d="M524.9 81.0Q521.1 77.4 516.3 76.9" stroke="#a0a0a0" stroke-width="3.7" stroke-linecap="round" fill="none"/><path d="M520.1 77.8L517.4 73.4" stroke="#a0a0a0" stroke-width="3.7" stroke-linecap="round" fill="none"/><path d="M524.0 83.1L517.2 79.5" stroke="#a0a0a0" stroke-width="3.7" stroke-linecap="round" fill="none"/><path d="M523.3 84.6Q521.0 76.7 515.1 78.1" stroke="#a0a0a0" stroke-width="3.7" stroke-linecap="round" fill="none"/><path d="M522.2 86.4L517.3 82.9" stroke="#a0a0a0" stroke-width="3.7" stroke-linecap="round" fill="none"/><path d="M519.4 90.1Q517.5 84.4 512.6 82.4" stroke="#a0a0a0" stroke-width="3.7" stroke-linecap="round" fill="none"/><path d="M516.8 85.2L516.4 78.6" stroke="#a0a0a0" stroke-width="3.7" stroke-linecap="round" fill="none"/><path d="M517.8 91.8L512.9 85.9" stroke="#a0a0a0" stroke-width="3.7" stroke-linecap="round" fill="none"/><path d="M515.8 93.5Q513.5 89.2 510.5 85.6" stroke="#a0a0a0" stroke-width="3.7" stroke-linecap="round" fill="none"/><path d="M512.3 87.9L513.2 82.1" stroke="#a0a0a0" stroke-width="3.7" stroke-linecap="round" fill="none"/><path d="M514.3 94.6L511.4 89.7" stroke="#a0a0a0" stroke-width="3.7" stroke-linecap="round" fill="none"/><path d="M511.6 96.2Q503.9 90.9 504.4 82.8" stroke="#a0a0a0" stroke-width="3.7" stroke-linecap="round" fill="none"/><path d="M505.3 88.9L501.7 85.1" stroke="#a0a0a0" stroke-width="3.7" stroke-linecap="round" fill="none"/><path d="M509.8 97.1L507.2 90.3" stroke="#a0a0a0" stroke-width="3.7" stroke-linecap="round" fill="none"/><path d="M505.2 98.5Q497.8 94.3 501.8 89.5" stroke="#a0a0a0" stroke-width="3.7" stroke-linecap="round" fill="none"/><path d="M500.4 93.7L496.5 90.0" stroke="#a0a0a0" stroke-width="3.7" stroke-linecap="round" fill="none"/><path d="M502.9 98.9L502.0 90.9" stroke="#a0a0a0" stroke-width="3.7" stroke-linecap="round" fill="none"/><path d="M502.7 98.9Q495.8 94.6 500.2 90.8" stroke="#a0a0a0" stroke-width="3.7" stroke-linecap="round" fill="none"/><path d="M500.1 99.1L500.0 91.5" stroke="#a0a0a0" stroke-width="3.7" stroke-linecap="round" fill="none"/><path d="M498.8 99.1Q495.6 91.6 498.5 84.8" stroke="#a0a0a0" stroke-width="3.7" stroke-linecap="round" fill="none"/><path d="M496.7 98.9L497.3 92.6" stroke="#a0a0a0" stroke-width="3.7" stroke-linecap="round" fill="none"/><path d="M491.1 97.7Q490.7 91.7 493.8 87.3" stroke="#a0a0a0" stroke-width="3.7" stroke-linecap="round" fill="none"/><path d="M489.1 96.9L491.5 90.8" stroke="#a0a0a0" stroke-width="3.7" stroke-linecap="round" fill="none"/><path d="M488.3 96.5Q487.7 89.0 492.5 84.8" stroke="#a0a0a0" stroke-width="3.7" stroke-linecap="round" fill="none"/><path d="M486.6 95.6L489.2 90.4" stroke="#a0a0a0" stroke-width="3.7" stroke-linecap="round" fill="none"/><path d="M482.8 92.9Q491.7 91.7 490.8 84.6" stroke="#a0a0a0" stroke-width="3.7" stroke-linecap="round" fill="none"/><path d="M490.0 89.3L489.4 83.4" stroke="#a0a0a0" stroke-width="3.7" stroke-linecap="round" fill="none"/><path d="M480.6 90.9L484.7 86.3" stroke="#a0a0a0" stroke-width="3.7" stroke-linecap="round" fill="none"/><path d="M479.9 90.2Q481.8 83.8 487.1 81.9" stroke="#a0a0a0" stroke-width="3.7" stroke-linecap="round" fill="none"/><path d="M478.5 88.5L483.1 84.6" stroke="#a0a0a0" stroke-width="3.7" stroke-linecap="round" fill="none"/><path d="M475.7 84.1Q478.0 75.2 484.1 77.5" stroke="#a0a0a0" stroke-width="3.7" stroke-linecap="round" fill="none"/><path d="M474.6 81.6L480.7 78.9" stroke="#a0a0a0" stroke-width="3.7" stroke-linecap="round" fill="none"/><path d="M474.8 82.0Q477.2 74.0 482.5 76.7" stroke="#a0a0a0" stroke-width="3.7" stroke-linecap="round" fill="none"/><path d="M477.9 76.4L481.4 72.1" stroke="#a0a0a0" stroke-width="3.7" stroke-linecap="round" fill="none"/><path d="M473.8 79.3L479.8 77.2" stroke="#a0a0a0" stroke-width="3.7" stroke-linecap="round" fill="none"/><path d="M472.9 75.9Q477.8 71.0 483.3 72.8" stroke="#a0a0a0" stroke-width="3.7" stroke-linecap="round" fill="none"/><path d="M472.5 72.6L480.4 71.9" stroke="#a0a0a0" stroke-width="3.7" stroke-linecap="round" fill="none"/><path d="M472.4 71.7Q478.5 69.4 484.5 70.6" stroke="#a0a0a0" stroke-width="3.7" stroke-linecap="round" fill="none"/><path d="M478.6 70.2L483.8 74.5" stroke="#a0a0a0" stroke-width="3.7" stroke-linecap="round" fill="none"/><path d="M472.4 70.0L478.1 70.1" stroke="#a0a0a0" stroke-width="3.7" stroke-linecap="round" fill="none"/><path d="M472.6 66.6Q476.6 67.4 480.6 67.7" stroke="#a0a0a0" stroke-width="3.7" stroke-linecap="round" fill="none"/><path d="M477.5 67.4L482.0 64.3" stroke="#a0a0a0" stroke-width="3.7" stroke-linecap="round" fill="none"/><path d="M473.1 63.7L480.3 65.5" stroke="#a0a0a0" stroke-width="3.7" stroke-linecap="round" fill="none"/><path d="M474.9 58.2Q481.5 62.7 488.9 65.3" stroke="#a0a0a0" stroke-width="3.7" stroke-linecap="round" fill="none"/><path d="M482.5 62.7L485.0 67.5" stroke="#a0a0a0" stroke-width="3.7" stroke-linecap="round" fill="none"/><path d="M476.7 54.7L482.3 58.5" stroke="#a0a0a0" stroke-width="3.7" stroke-linecap="round" fill="none"/><path d="M476.1 55.8Q481.9 59.2 487.6 62.8" stroke="#a0a0a0" stroke-width="3.7" stroke-linecap="round" fill="none"/><path d="M477.1 54.0L483.0 58.3" stroke="#a0a0a0" stroke-width="3.7" stroke-linecap="round" fill="none"/><path d="M478.5 52.0Q483.9 55.5 488.2 60.2" stroke="#a0a0a0" stroke-width="3.7" stroke-linecap="round" fill="none"/><path d="M484.2 56.3L485.1 61.9" stroke="#a0a0a0" stroke-width="3.7" stroke-linecap="round" fill="none"/><path d="M481.1 49.1L484.9 53.4" stroke="#a0a0a0" stroke-width="3.7" stroke-linecap="round" fill="none"/><path d="M483.6 46.9Q491.6 49.9 492.0 57.3" stroke="#a0a0a0" stroke-width="3.7" stroke-linecap="round" fill="none"/><path d="M490.6 52.3L490.5 58.0" stroke="#a0a0a0" stroke-width="3.7" stroke-linecap="round" fill="none"/><path d="M485.8 45.4L489.3 51.7" stroke="#a0a0a0" stroke-width="3.7" stroke-linecap="round" fill="none"/><path d="M489.3 43.6Q491.2 49.4 493.7 55.1" stroke="#a0a0a0" stroke-width="3.7" stroke-linecap="round" fill="none"/><path d="M491.3 42.8L493.1 48.6" stroke="#a0a0a0" stroke-width="3.7" stroke-linecap="round" fill="none"/><path d="M490.9 42.9Q495.7 47.6 495.1 53.7" stroke="#a0a0a0" stroke-width="3.7" stroke-linecap="round" fill="none"/><path d="M494.8 49.2L493.2 54.9" stroke="#a0a0a0" stroke-width="3.7" stroke-linecap="round" fill="none"/><path d="M493.3 42.2L495.0 49.7" stroke="#a0a0a0" stroke-width="3.7" stroke-linecap="round" fill="none"/><path d="M497.0 41.5Q499.2 49.1 498.7 56.9" stroke="#a0a0a0" stroke-width="3.7" stroke-linecap="round" fill="none"/><path d="M498.7 50.4L495.1 53.8" stroke="#a0a0a0" stroke-width="3.7" stroke-linecap="round" fill="none"/><path d="M499.6 41.4L499.6 49.1" stroke="#a0a0a0" stroke-width="3.7" stroke-linecap="round" fill="none"/><path d="M502.7 41.6Q506.0 47.5 502.5 52.0" stroke="#262626" stroke-width="1.05" stroke-linecap="round" fill="none"/><path d="M505.8 42.1L504.5 48.0" stroke="#262626" stroke-width="1.05" stroke-linecap="round" fill="none"/><path d="M505.3 42.0Q509.4 50.2 504.0 54.7" stroke="#262626" stroke-width="1.05" stroke-linecap="round" fill="none"/><path d="M508.7 43.0L506.2 50.8" stroke="#262626" stroke-width="1.05" stroke-linecap="round" fill="none"/><path d="M511.7 44.3Q509.1 51.1 505.8 57.4" stroke="#262626" stroke-width="1.05" stroke-linecap="round" fill="none"/><path d="M508.1 52.8L504.0 54.4" stroke="#262626" stroke-width="1.05" stroke-linecap="round" fill="none"/><path d="M514.7 46.2L510.8 52.4" stroke="#262626" stroke-width="1.05" stroke-linecap="round" fill="none"/><path d="M516.9 47.9Q513.2 55.0 507.6 60.4" stroke="#262626" stroke-width="1.05" stroke-linecap="round" fill="none"/><path d="M511.7 55.9L507.6 56.7" stroke="#262626" stroke-width="1.05" stroke-linecap="round" fill="none"/><path d="M519.7 50.7L515.4 54.8" stroke="#262626" stroke-width="1.05" stroke-linecap="round" fill="none"/><path d="M519.2 50.1Q516.7 53.5 513.5 56.2" stroke="#262626" stroke-width="1.05" stroke-linecap="round" fill="none"/><path d="M520.4 51.5L516.1 55.3" stroke="#262626" stroke-width="1.05" stroke-linecap="round" fill="none"/><path d="M523.2 55.7Q521.9 63.2 516.9 61.3" stroke="#262626" stroke-width="1.05" stroke-linecap="round" fill="none"/><path d="M520.2 61.4L515.1 58.4" stroke="#262626" stroke-width="1.05" stroke-linecap="round" fill="none"/><path d="M524.2 57.7L518.8 60.4" stroke="#262626" stroke-width="1.05" stroke-linecap="round" fill="none"/><path d="M525.2 60.2Q520.8 64.9 515.1 64.8" stroke="#262626" stroke-width="1.05" stroke-linecap="round" fill="none"/><path d="M519.6 64.1L517.1 68.7" stroke="#262626" stroke-width="1.05" stroke-linecap="round" fill="none"/><path d="M525.9 62.6L519.9 64.4" stroke="#262626" stroke-width="1.05" stroke-linecap="round" fill="none"/><path d="M526.0 63.1Q519.6 57.7 517.8 63.5" stroke="#262626" stroke-width="1.05" stroke-linecap="round" fill="none"/><path d="M526.7 66.7L518.8 67.7" stroke="#262626" stroke-width="1.05" stroke-linecap="round" fill="none"/><path d="M526.9 71.5Q520.5 72.2 514.2 71.1" stroke="#262626" stroke-width="1.05" stroke-linecap="round" fill="none"/><path d="M518.7 71.7L514.0 68.1" stroke="#262626" stroke-width="1.05" stroke-linecap="round" fill="none"/><path d="M526.8 73.0L519.4 72.3" stroke="#262626" stroke-width="1.05" stroke-linecap="round" fill="none"/><path d="M526.2 76.9Q520.3 75.6 514.5 74.0" stroke="#262626" stroke-width="1.05" stroke-linecap="round" fill="none"/><path d="M525.7 78.8L519.1 76.6" stroke="#262626" stroke-width="1.05" stroke-linecap="round" fill="none"/><path d="M524.9 81.0Q521.1 77.4 516.3 76.9" stroke="#262626" stroke-width="1.05" stroke-linecap="round" fill="none"/><path d="M520.1 77.8L517.4 73.4" stroke="#262626" stroke-width="1.05" stroke-linecap="round" fill="none"/><path d="M524.0 83.1L517.2 79.5" stroke="#262626" stroke-width="1.05" stroke-linecap="round" fill="none"/><path d="M523.3 84.6Q521.0 76.7 515.1 78.1" stroke="#262626" stroke-width="1.05" stroke-linecap="round" fill="none"/><path d="M522.2 86.4L517.3 82.9" stroke="#262626" stroke-width="1.05" stroke-linecap="round" fill="none"/><path d="M519.4 90.1Q517.5 84.4 512.6 82.4" stroke="#262626" stroke-width="1.05" stroke-linecap="round" fill="none"/><path d="M516.8 85.2L516.4 78.6" stroke="#262626" stroke-width="1.05" stroke-linecap="round" fill="none"/><path d="M517.8 91.8L512.9 85.9" stroke="#262626" stroke-width="1.05" stroke-linecap="round" fill="none"/><path d="M515.8 93.5Q513.5 89.2 510.5 85.6" stroke="#262626" stroke-width="1.05" stroke-linecap="round" fill="none"/><path d="M512.3 87.9L513.2 82.1" stroke="#262626" stroke-width="1.05" stroke-linecap="round" fill="none"/><path d="M514.3 94.6L511.4 89.7" stroke="#262626" stroke-width="1.05" stroke-linecap="round" fill="none"/><path d="M511.6 96.2Q503.9 90.9 504.4 82.8" stroke="#262626" stroke-width="1.05" stroke-linecap="round" fill="none"/><path d="M505.3 88.9L501.7 85.1" stroke="#262626" stroke-width="1.05" stroke-linecap="round" fill="none"/><path d="M509.8 97.1L507.2 90.3" stroke="#262626" stroke-width="1.05" stroke-linecap="round" fill="none"/><path d="M505.2 98.5Q497.8 94.3 501.8 89.5" stroke="#262626" stroke-width="1.05" stroke-linecap="round" fill="none"/><path d="M500.4 93.7L496.5 90.0" stroke="#262626" stroke-width="1.05" stroke-linecap="round" fill="none"/><path d="M502.9 98.9L502.0 90.9" stroke="#262626" stroke-width="1.05" stroke-linecap="round" fill="none"/><path d="M502.7 98.9Q495.8 94.6 500.2 90.8" stroke="#262626" stroke-width="1.05" stroke-linecap="round" fill="none"/><path d="M500.1 99.1L500.0 91.5" stroke="#262626" stroke-width="1.05" stroke-linecap="round" fill="none"/><path d="M498.8 99.1Q495.6 91.6 498.5 84.8" stroke="#262626" stroke-width="1.05" stroke-linecap="round" fill="none"/><path d="M496.7 98.9L497.3 92.6" stroke="#262626" stroke-width="1.05" stroke-linecap="round" fill="none"/><path d="M491.1 97.7Q490.7 91.7 493.8 87.3" stroke="#262626" stroke-width="1.05" stroke-linecap="round" fill="none"/><path d="M489.1 96.9L491.5 90.8" stroke="#262626" stroke-width="1.05" stroke-linecap="round" fill="none"/><path d="M488.3 96.5Q487.7 89.0 492.5 84.8" stroke="#262626" stroke-width="1.05" stroke-linecap="round" fill="none"/><path d="M486.6 95.6L489.2 90.4" stroke="#262626" stroke-width="1.05" stroke-linecap="round" fill="none"/><path d="M482.8 92.9Q491.7 91.7 490.8 84.6" stroke="#262626" stroke-width="1.05" stroke-linecap="round" fill="none"/><path d="M490.0 89.3L489.4 83.4" stroke="#262626" stroke-width="1.05" stroke-linecap="round" fill="none"/><path d="M480.6 90.9L484.7 86.3" stroke="#262626" stroke-width="1.05" stroke-linecap="round" fill="none"/><path d="M479.9 90.2Q481.8 83.8 487.1 81.9" stroke="#262626" stroke-width="1.05" stroke-linecap="round" fill="none"/><path d="M478.5 88.5L483.1 84.6" stroke="#262626" stroke-width="1.05" stroke-linecap="round" fill="none"/><path d="M475.7 84.1Q478.0 75.2 484.1 77.5" stroke="#262626" stroke-width="1.05" stroke-linecap="round" fill="none"/><path d="M474.6 81.6L480.7 78.9" stroke="#262626" stroke-width="1.05" stroke-linecap="round" fill="none"/><path d="M474.8 82.0Q477.2 74.0 482.5 76.7" stroke="#262626" stroke-width="1.05" stroke-linecap="round" fill="none"/><path d="M477.9 76.4L481.4 72.1" stroke="#262626" stroke-width="1.05" stroke-linecap="round" fill="none"/><path d="M473.8 79.3L479.8 77.2" stroke="#262626" stroke-width="1.05" stroke-linecap="round" fill="none"/><path d="M472.9 75.9Q477.8 71.0 483.3 72.8" stroke="#262626" stroke-width="1.05" stroke-linecap="round" fill="none"/><path d="M472.5 72.6L480.4 71.9" stroke="#262626" stroke-width="1.05" stroke-linecap="round" fill="none"/><path d="M472.4 71.7Q478.5 69.4 484.5 70.6" stroke="#262626" stroke-width="1.05" stroke-linecap="round" fill="none"/><path d="M478.6 70.2L483.8 74.5" stroke="#262626" stroke-width="1.05" stroke-linecap="round" fill="none"/><path d="M472.4 70.0L478.1 70.1" stroke="#262626" stroke-width="1.05" stroke-linecap="round" fill="none"/><path d="M472.6 66.6Q476.6 67.4 480.6 67.7" stroke="#262626" stroke-width="1.05" stroke-linecap="round" fill="none"/><path d="M477.5 67.4L482.0 64.3" stroke="#262626" stroke-width="1.05" stroke-linecap="round" fill="none"/><path d="M473.1 63.7L480.3 65.5" stroke="#262626" stroke-width="1.05" stroke-linecap="round" fill="none"/><path d="M474.9 58.2Q481.5 62.7 488.9 65.3" stroke="#262626" stroke-width="1.05" stroke-linecap="round" fill="none"/><path d="M482.5 62.7L485.0 67.5" stroke="#262626" stroke-width="1.05" stroke-linecap="round" fill="none"/><path d="M476.7 54.7L482.3 58.5" stroke="#262626" stroke-width="1.05" stroke-linecap="round" fill="none"/><path d="M476.1 55.8Q481.9 59.2 487.6 62.8" stroke="#262626" stroke-width="1.05" stroke-linecap="round" fill="none"/><path d="M477.1 54.0L483.0 58.3" stroke="#262626" stroke-width="1.05" stroke-linecap="round" fill="none"/><path d="M478.5 52.0Q483.9 55.5 488.2 60.2" stroke="#262626" stroke-width="1.05" stroke-linecap="round" fill="none"/><path d="M484.2 56.3L485.1 61.9" stroke="#262626" stroke-width="1.05" stroke-linecap="round" fill="none"/><path d="M481.1 49.1L484.9 53.4" stroke="#262626" stroke-width="1.05" stroke-linecap="round" fill="none"/><path d="M483.6 46.9Q491.6 49.9 492.0 57.3" stroke="#262626" stroke-width="1.05" stroke-linecap="round" fill="none"/><path d="M490.6 52.3L490.5 58.0" stroke="#262626" stroke-width="1.05" stroke-linecap="round" fill="none"/><path d="M485.8 45.4L489.3 51.7" stroke="#262626" stroke-width="1.05" stroke-linecap="round" fill="none"/><path d="M489.3 43.6Q491.2 49.4 493.7 55.1" stroke="#262626" stroke-width="1.05" stroke-linecap="round" fill="none"/><path d="M491.3 42.8L493.1 48.6" stroke="#262626" stroke-width="1.05" stroke-linecap="round" fill="none"/><path d="M490.9 42.9Q495.7 47.6 495.1 53.7" stroke="#262626" stroke-width="1.05" stroke-linecap="round" fill="none"/><path d="M494.8 49.2L493.2 54.9" stroke="#262626" stroke-width="1.05" stroke-linecap="round" fill="none"/><path d="M493.3 42.2L495.0 49.7" stroke="#262626" stroke-width="1.05" stroke-linecap="round" fill="none"/><path d="M497.0 41.5Q499.2 49.1 498.7 56.9" stroke="#262626" stroke-width="1.05" stroke-linecap="round" fill="none"/><path d="M498.7 50.4L495.1 53.8" stroke="#262626" stroke-width="1.05" stroke-linecap="round" fill="none"/><path d="M499.6 41.4L499.6 49.1" stroke="#262626" stroke-width="1.05" stroke-linecap="round" fill="none"/></g>
<line x1="499.65" y1="40.0" x2="499.65" y2="95.0" stroke="#9a9a9a" stroke-width="3.2"/><line x1="499.65" y1="40.0" x2="499.65" y2="95.0" stroke="#1e1e1e" stroke-width="1.3"/>
<rect x="472.7" y="39.0" width="53.9" height="57.0" filter="url(#gyA)" opacity="0.15" style="mix-blend-mode:multiply"/>
</g>
<g filter="url(#bl05)"><path d="M491.8 43.5C492.5 42.7 495.5 41.1 496.8 40.7C498.1 40.3 499.2 40.6 499.6 41.2C500.1 41.9 499.9 43.9 499.6 44.7C499.4 45.4 498.4 44.6 498.0 45.7C497.6 46.9 497.8 50.3 497.4 51.4C497.0 52.5 496.2 51.7 495.8 52.5C495.3 53.3 495.2 55.9 494.6 56.5C494.0 57.0 492.6 56.8 492.3 55.9C492.1 55.1 492.6 52.5 492.9 51.4C493.2 50.3 493.8 50.1 494.0 49.2C494.3 48.2 494.9 46.4 494.6 45.7C494.3 45.1 492.8 45.6 492.3 45.2C491.9 44.8 491.0 44.2 491.8 43.5Z" fill="#e02010" stroke="#a81408" stroke-width="0.9"/><ellipse cx="488.5" cy="48.6" rx="2.2" ry="1.3" fill="#e02010" transform="rotate(0 488.5 48.6)"/><path d="M497.5 54.7C498.3 53.8 501.1 52.9 502.0 53.0C502.8 53.2 501.9 55.0 502.5 55.8C503.1 56.7 504.7 57.2 505.4 58.1C506.0 58.9 506.7 60.1 506.5 60.9C506.2 61.6 504.6 62.2 503.7 62.6C502.7 62.9 501.7 63.3 500.9 63.1C500.0 62.9 499.3 62.2 498.6 61.5C498.0 60.7 497.1 59.7 496.9 58.6C496.7 57.5 496.6 55.7 497.5 54.7Z" fill="#e02010" stroke="#a81408" stroke-width="0.9"/><path d="M510.0 51.0C510.4 49.8 511.7 48.9 512.2 49.3C512.8 49.7 512.5 52.5 513.4 53.3C514.3 54.0 516.7 53.2 517.9 53.8C519.1 54.5 520.4 56.2 520.7 57.2C521.0 58.3 520.6 59.5 519.5 60.0C518.5 60.6 515.9 60.6 514.5 60.6C513.1 60.6 512.0 60.7 511.2 60.0C510.3 59.4 509.6 58.2 509.4 56.7C509.2 55.2 509.5 52.3 510.0 51.0Z" fill="#e02010" stroke="#a81408" stroke-width="0.9"/><path d="M484.1 55.2C484.7 54.4 486.2 53.7 486.9 54.0C487.7 54.3 488.4 55.8 488.6 56.9C488.8 58.0 488.6 60.0 488.1 60.8C487.5 61.5 485.9 61.8 485.2 61.4C484.4 61.0 483.8 59.6 483.6 58.5C483.4 57.5 483.6 55.9 484.1 55.2Z" fill="#e02010" stroke="#a81408" stroke-width="0.9"/><path d="M478.1 63.4C479.1 62.5 482.3 62.6 483.3 62.9C484.2 63.2 483.1 64.7 483.8 65.1C484.6 65.5 487.0 64.7 487.8 65.1C488.5 65.6 488.7 67.0 488.3 67.9C487.9 68.8 486.5 70.1 485.5 70.7C484.5 71.3 483.0 71.6 482.1 71.3C481.1 71.1 480.6 69.6 479.8 69.1C479.1 68.6 477.9 69.4 477.6 68.5C477.3 67.5 477.2 64.3 478.1 63.4Z" fill="#e02010" stroke="#a81408" stroke-width="0.9"/><ellipse cx="477.3" cy="71.5" rx="1.0" ry="1.6" fill="#e02010" transform="rotate(0 477.3 71.5)"/><path d="M511.6 75.1C512.3 74.5 514.0 73.7 515.0 73.9C515.9 74.1 517.0 75.3 517.2 76.2C517.4 77.0 517.0 78.5 516.1 79.1C515.3 79.6 513.1 79.9 512.2 79.6C511.3 79.3 510.9 78.1 510.8 77.3C510.7 76.6 511.0 75.7 511.6 75.1Z" fill="#e02010" stroke="#a81408" stroke-width="0.9"/><ellipse cx="503.5" cy="76.2" rx="2.2" ry="2.4" fill="#e02010" transform="rotate(0 503.5 76.2)"/><ellipse cx="495" cy="78" rx="1.3" ry="1.3" fill="#e02010" transform="rotate(0 495 78)"/><ellipse cx="520.6" cy="82.4" rx="1.4" ry="1.4" fill="#e02010" transform="rotate(0 520.6 82.4)"/><ellipse cx="486.2" cy="57.5" rx="1.3" ry="1.5" fill="#f58a20" transform="rotate(0 486.2 57.5)"/></g>
<clipPath id="bc2"><path d="M565.5999999999999 54.8 C580.16 54.8 586.4 65.66 586.4 76.52 C586.4 87.38 578.0799999999999 91.0 568.9279999999999 91.0 L562.2719999999999 91.0 C553.1199999999999 91.0 544.8 87.38 544.8 76.52 C544.8 65.66 551.0399999999998 54.8 565.5999999999999 54.8Z"/></clipPath>
<path d="M565.5999999999999 54.8 C580.16 54.8 586.4 65.66 586.4 76.52 C586.4 87.38 578.0799999999999 91.0 568.9279999999999 91.0 L562.2719999999999 91.0 C553.1199999999999 91.0 544.8 87.38 544.8 76.52 C544.8 65.66 551.0399999999998 54.8 565.5999999999999 54.8Z" fill="#e8e8e8"/>
<g clip-path="url(#bc2)">
<g filter="url(#bl03)"><path d="M565.5999999999999 54.8 C580.16 54.8 586.4 65.66 586.4 76.52 C586.4 87.38 578.0799999999999 91.0 568.9279999999999 91.0 L562.2719999999999 91.0 C553.1199999999999 91.0 544.8 87.38 544.8 76.52 C544.8 65.66 551.0399999999998 54.8 565.5999999999999 54.8Z" fill="none" stroke="#9a9a9a" stroke-width="5.0"/><path d="M569.5 54.9Q568.5 58.7 567.8 62.6" stroke="#a0a0a0" stroke-width="3.7" stroke-linecap="round" fill="none"/><path d="M568.3 60.1L570.7 63.7" stroke="#a0a0a0" stroke-width="3.7" stroke-linecap="round" fill="none"/><path d="M571.6 55.4L569.9 60.7" stroke="#a0a0a0" stroke-width="3.7" stroke-linecap="round" fill="none"/><path d="M573.3 55.8Q574.3 62.2 569.6 65.9" stroke="#a0a0a0" stroke-width="3.7" stroke-linecap="round" fill="none"/><path d="M575.8 56.8L572.9 61.6" stroke="#a0a0a0" stroke-width="3.7" stroke-linecap="round" fill="none"/><path d="M578.2 58.1Q577.3 62.8 573.1 65.2" stroke="#a0a0a0" stroke-width="3.7" stroke-linecap="round" fill="none"/><path d="M580.5 59.7L576.2 63.7" stroke="#a0a0a0" stroke-width="3.7" stroke-linecap="round" fill="none"/><path d="M581.7 60.8Q577.7 62.3 575.5 65.4" stroke="#a0a0a0" stroke-width="3.7" stroke-linecap="round" fill="none"/><path d="M577.4 63.3L572.7 63.7" stroke="#a0a0a0" stroke-width="3.7" stroke-linecap="round" fill="none"/><path d="M583.8 63.1L578.6 66.1" stroke="#a0a0a0" stroke-width="3.7" stroke-linecap="round" fill="none"/><path d="M584.0 63.3Q581.9 68.0 577.1 68.0" stroke="#a0a0a0" stroke-width="3.7" stroke-linecap="round" fill="none"/><path d="M585.3 65.3L581.0 67.1" stroke="#a0a0a0" stroke-width="3.7" stroke-linecap="round" fill="none"/><path d="M586.5 68.0Q582.3 73.3 576.9 71.5" stroke="#a0a0a0" stroke-width="3.7" stroke-linecap="round" fill="none"/><path d="M587.1 70.2L582.6 70.9" stroke="#a0a0a0" stroke-width="3.7" stroke-linecap="round" fill="none"/><path d="M587.4 74.1Q581.5 73.4 575.6 73.7" stroke="#a0a0a0" stroke-width="3.7" stroke-linecap="round" fill="none"/><path d="M580.2 73.6L576.9 72.0" stroke="#a0a0a0" stroke-width="3.7" stroke-linecap="round" fill="none"/><path d="M587.3 76.0L581.3 75.4" stroke="#a0a0a0" stroke-width="3.7" stroke-linecap="round" fill="none"/><path d="M586.8 78.1Q581.2 74.5 574.9 75.1" stroke="#a0a0a0" stroke-width="3.7" stroke-linecap="round" fill="none"/><path d="M585.9 80.7L579.9 78.6" stroke="#a0a0a0" stroke-width="3.7" stroke-linecap="round" fill="none"/><path d="M584.4 83.3Q579.5 79.3 573.3 77.4" stroke="#a0a0a0" stroke-width="3.7" stroke-linecap="round" fill="none"/><path d="M582.7 85.4L578.2 82.3" stroke="#a0a0a0" stroke-width="3.7" stroke-linecap="round" fill="none"/><path d="M582.3 85.9Q580.0 80.1 574.2 79.1" stroke="#a0a0a0" stroke-width="3.7" stroke-linecap="round" fill="none"/><path d="M581.2 87.0L577.2 83.6" stroke="#a0a0a0" stroke-width="3.7" stroke-linecap="round" fill="none"/><path d="M577.1 89.8Q569.9 87.3 570.5 81.9" stroke="#a0a0a0" stroke-width="3.7" stroke-linecap="round" fill="none"/><path d="M571.9 87.1L568.1 85.0" stroke="#a0a0a0" stroke-width="3.7" stroke-linecap="round" fill="none"/><path d="M574.2 91.1L572.1 86.8" stroke="#a0a0a0" stroke-width="3.7" stroke-linecap="round" fill="none"/><path d="M573.5 91.4Q572.6 87.2 570.2 83.5" stroke="#a0a0a0" stroke-width="3.7" stroke-linecap="round" fill="none"/><path d="M572.2 87.3L568.4 85.3" stroke="#a0a0a0" stroke-width="3.7" stroke-linecap="round" fill="none"/><path d="M570.0 92.2L568.7 86.8" stroke="#a0a0a0" stroke-width="3.7" stroke-linecap="round" fill="none"/><path d="M568.1 92.5Q564.5 87.4 566.2 82.3" stroke="#a0a0a0" stroke-width="3.7" stroke-linecap="round" fill="none"/><path d="M565.7 87.0L562.6 84.5" stroke="#a0a0a0" stroke-width="3.7" stroke-linecap="round" fill="none"/><path d="M565.6 92.6L565.6 88.6" stroke="#a0a0a0" stroke-width="3.7" stroke-linecap="round" fill="none"/><path d="M562.5 92.4Q563.6 87.4 564.2 82.3" stroke="#a0a0a0" stroke-width="3.7" stroke-linecap="round" fill="none"/><path d="M563.6 86.3L561.8 83.1" stroke="#a0a0a0" stroke-width="3.7" stroke-linecap="round" fill="none"/><path d="M560.0 92.0L561.4 87.2" stroke="#a0a0a0" stroke-width="3.7" stroke-linecap="round" fill="none"/><path d="M559.2 91.8Q559.3 87.9 561.4 84.6" stroke="#a0a0a0" stroke-width="3.7" stroke-linecap="round" fill="none"/><path d="M557.2 91.2L559.2 87.1" stroke="#a0a0a0" stroke-width="3.7" stroke-linecap="round" fill="none"/><path d="M551.6 88.2Q557.5 86.8 558.3 82.3" stroke="#a0a0a0" stroke-width="3.7" stroke-linecap="round" fill="none"/><path d="M549.6 86.6L553.4 83.5" stroke="#a0a0a0" stroke-width="3.7" stroke-linecap="round" fill="none"/><path d="M548.0 84.9Q552.3 81.0 557.7 78.5" stroke="#a0a0a0" stroke-width="3.7" stroke-linecap="round" fill="none"/><path d="M552.7 81.2L554.6 77.8" stroke="#a0a0a0" stroke-width="3.7" stroke-linecap="round" fill="none"/><path d="M546.2 82.4L551.8 79.8" stroke="#a0a0a0" stroke-width="3.7" stroke-linecap="round" fill="none"/><path d="M546.9 83.4Q549.9 80.6 553.9 79.5" stroke="#a0a0a0" stroke-width="3.7" stroke-linecap="round" fill="none"/><path d="M550.1 81.0L551.2 78.1" stroke="#a0a0a0" stroke-width="3.7" stroke-linecap="round" fill="none"/><path d="M545.8 81.6L549.8 80.0" stroke="#a0a0a0" stroke-width="3.7" stroke-linecap="round" fill="none"/><path d="M544.2 77.5Q550.5 77.9 555.9 75.7" stroke="#a0a0a0" stroke-width="3.7" stroke-linecap="round" fill="none"/><path d="M550.5 77.3L553.9 78.3" stroke="#a0a0a0" stroke-width="3.7" stroke-linecap="round" fill="none"/><path d="M543.8 74.8L550.1 74.5" stroke="#a0a0a0" stroke-width="3.7" stroke-linecap="round" fill="none"/><path d="M543.8 75.3Q548.9 73.9 554.1 74.3" stroke="#a0a0a0" stroke-width="3.7" stroke-linecap="round" fill="none"/><path d="M543.8 73.7L548.9 73.7" stroke="#a0a0a0" stroke-width="3.7" stroke-linecap="round" fill="none"/><path d="M544.2 69.9Q548.9 69.3 553.0 71.1" stroke="#a0a0a0" stroke-width="3.7" stroke-linecap="round" fill="none"/><path d="M550.2 70.2L552.1 73.4" stroke="#a0a0a0" stroke-width="3.7" stroke-linecap="round" fill="none"/><path d="M545.2 66.9L550.3 68.6" stroke="#a0a0a0" stroke-width="3.7" stroke-linecap="round" fill="none"/><path d="M546.1 65.0Q550.6 67.2 555.3 69.1" stroke="#a0a0a0" stroke-width="3.7" stroke-linecap="round" fill="none"/><path d="M550.5 67.1L554.8 65.5" stroke="#a0a0a0" stroke-width="3.7" stroke-linecap="round" fill="none"/><path d="M548.0 62.3L553.1 65.6" stroke="#a0a0a0" stroke-width="3.7" stroke-linecap="round" fill="none"/><path d="M550.3 60.1Q558.0 61.4 559.1 66.8" stroke="#a0a0a0" stroke-width="3.7" stroke-linecap="round" fill="none"/><path d="M556.3 62.0L555.4 65.5" stroke="#a0a0a0" stroke-width="3.7" stroke-linecap="round" fill="none"/><path d="M552.5 58.4L556.0 62.6" stroke="#a0a0a0" stroke-width="3.7" stroke-linecap="round" fill="none"/><path d="M554.1 57.5Q555.2 61.8 558.7 64.6" stroke="#a0a0a0" stroke-width="3.7" stroke-linecap="round" fill="none"/><path d="M555.5 61.2L554.5 64.9" stroke="#a0a0a0" stroke-width="3.7" stroke-linecap="round" fill="none"/><path d="M555.6 56.8L557.8 60.6" stroke="#a0a0a0" stroke-width="3.7" stroke-linecap="round" fill="none"/><path d="M556.4 56.4Q558.2 60.6 560.7 64.6" stroke="#a0a0a0" stroke-width="3.7" stroke-linecap="round" fill="none"/><path d="M559.0 61.7L558.8 65.5" stroke="#a0a0a0" stroke-width="3.7" stroke-linecap="round" fill="none"/><path d="M558.2 55.8L559.9 59.8" stroke="#a0a0a0" stroke-width="3.7" stroke-linecap="round" fill="none"/><path d="M561.6 54.9Q562.6 58.9 563.4 63.0" stroke="#a0a0a0" stroke-width="3.7" stroke-linecap="round" fill="none"/><path d="M564.9 54.6L565.1 58.5" stroke="#a0a0a0" stroke-width="3.7" stroke-linecap="round" fill="none"/><path d="M569.5 54.9Q568.5 58.7 567.8 62.6" stroke="#262626" stroke-width="1.05" stroke-linecap="round" fill="none"/><path d="M568.3 60.1L570.7 63.7" stroke="#262626" stroke-width="1.05" stroke-linecap="round" fill="none"/><path d="M571.6 55.4L569.9 60.7" stroke="#262626" stroke-width="1.05" stroke-linecap="round" fill="none"/><path d="M573.3 55.8Q574.3 62.2 569.6 65.9" stroke="#262626" stroke-width="1.05" stroke-linecap="round" fill="none"/><path d="M575.8 56.8L572.9 61.6" stroke="#262626" stroke-width="1.05" stroke-linecap="round" fill="none"/><path d="M578.2 58.1Q577.3 62.8 573.1 65.2" stroke="#262626" stroke-width="1.05" stroke-linecap="round" fill="none"/><path d="M580.5 59.7L576.2 63.7" stroke="#262626" stroke-width="1.05" stroke-linecap="round" fill="none"/><path d="M581.7 60.8Q577.7 62.3 575.5 65.4" stroke="#262626" stroke-width="1.05" stroke-linecap="round" fill="none"/><path d="M577.4 63.3L572.7 63.7" stroke="#262626" stroke-width="1.05" stroke-linecap="round" fill="none"/><path d="M583.8 63.1L578.6 66.1" stroke="#262626" stroke-width="1.05" stroke-linecap="round" fill="none"/><path d="M584.0 63.3Q581.9 68.0 577.1 68.0" stroke="#262626" stroke-width="1.05" stroke-linecap="round" fill="none"/><path d="M585.3 65.3L581.0 67.1" stroke="#262626" stroke-width="1.05" stroke-linecap="round" fill="none"/><path d="M586.5 68.0Q582.3 73.3 576.9 71.5" stroke="#262626" stroke-width="1.05" stroke-linecap="round" fill="none"/><path d="M587.1 70.2L582.6 70.9" stroke="#262626" stroke-width="1.05" stroke-linecap="round" fill="none"/><path d="M587.4 74.1Q581.5 73.4 575.6 73.7" stroke="#262626" stroke-width="1.05" stroke-linecap="round" fill="none"/><path d="M580.2 73.6L576.9 72.0" stroke="#262626" stroke-width="1.05" stroke-linecap="round" fill="none"/><path d="M587.3 76.0L581.3 75.4" stroke="#262626" stroke-width="1.05" stroke-linecap="round" fill="none"/><path d="M586.8 78.1Q581.2 74.5 574.9 75.1" stroke="#262626" stroke-width="1.05" stroke-linecap="round" fill="none"/><path d="M585.9 80.7L579.9 78.6" stroke="#262626" stroke-width="1.05" stroke-linecap="round" fill="none"/><path d="M584.4 83.3Q579.5 79.3 573.3 77.4" stroke="#262626" stroke-width="1.05" stroke-linecap="round" fill="none"/><path d="M582.7 85.4L578.2 82.3" stroke="#262626" stroke-width="1.05" stroke-linecap="round" fill="none"/><path d="M582.3 85.9Q580.0 80.1 574.2 79.1" stroke="#262626" stroke-width="1.05" stroke-linecap="round" fill="none"/><path d="M581.2 87.0L577.2 83.6" stroke="#262626" stroke-width="1.05" stroke-linecap="round" fill="none"/><path d="M577.1 89.8Q569.9 87.3 570.5 81.9" stroke="#262626" stroke-width="1.05" stroke-linecap="round" fill="none"/><path d="M571.9 87.1L568.1 85.0" stroke="#262626" stroke-width="1.05" stroke-linecap="round" fill="none"/><path d="M574.2 91.1L572.1 86.8" stroke="#262626" stroke-width="1.05" stroke-linecap="round" fill="none"/><path d="M573.5 91.4Q572.6 87.2 570.2 83.5" stroke="#262626" stroke-width="1.05" stroke-linecap="round" fill="none"/><path d="M572.2 87.3L568.4 85.3" stroke="#262626" stroke-width="1.05" stroke-linecap="round" fill="none"/><path d="M570.0 92.2L568.7 86.8" stroke="#262626" stroke-width="1.05" stroke-linecap="round" fill="none"/><path d="M568.1 92.5Q564.5 87.4 566.2 82.3" stroke="#262626" stroke-width="1.05" stroke-linecap="round" fill="none"/><path d="M565.7 87.0L562.6 84.5" stroke="#262626" stroke-width="1.05" stroke-linecap="round" fill="none"/><path d="M565.6 92.6L565.6 88.6" stroke="#262626" stroke-width="1.05" stroke-linecap="round" fill="none"/><path d="M562.5 92.4Q563.6 87.4 564.2 82.3" stroke="#262626" stroke-width="1.05" stroke-linecap="round" fill="none"/><path d="M563.6 86.3L561.8 83.1" stroke="#262626" stroke-width="1.05" stroke-linecap="round" fill="none"/><path d="M560.0 92.0L561.4 87.2" stroke="#262626" stroke-width="1.05" stroke-linecap="round" fill="none"/><path d="M559.2 91.8Q559.3 87.9 561.4 84.6" stroke="#262626" stroke-width="1.05" stroke-linecap="round" fill="none"/><path d="M557.2 91.2L559.2 87.1" stroke="#262626" stroke-width="1.05" stroke-linecap="round" fill="none"/><path d="M551.6 88.2Q557.5 86.8 558.3 82.3" stroke="#262626" stroke-width="1.05" stroke-linecap="round" fill="none"/><path d="M549.6 86.6L553.4 83.5" stroke="#262626" stroke-width="1.05" stroke-linecap="round" fill="none"/><path d="M548.0 84.9Q552.3 81.0 557.7 78.5" stroke="#262626" stroke-width="1.05" stroke-linecap="round" fill="none"/><path d="M552.7 81.2L554.6 77.8" stroke="#262626" stroke-width="1.05" stroke-linecap="round" fill="none"/><path d="M546.2 82.4L551.8 79.8" stroke="#262626" stroke-width="1.05" stroke-linecap="round" fill="none"/><path d="M546.9 83.4Q549.9 80.6 553.9 79.5" stroke="#262626" stroke-width="1.05" stroke-linecap="round" fill="none"/><path d="M550.1 81.0L551.2 78.1" stroke="#262626" stroke-width="1.05" stroke-linecap="round" fill="none"/><path d="M545.8 81.6L549.8 80.0" stroke="#262626" stroke-width="1.05" stroke-linecap="round" fill="none"/><path d="M544.2 77.5Q550.5 77.9 555.9 75.7" stroke="#262626" stroke-width="1.05" stroke-linecap="round" fill="none"/><path d="M550.5 77.3L553.9 78.3" stroke="#262626" stroke-width="1.05" stroke-linecap="round" fill="none"/><path d="M543.8 74.8L550.1 74.5" stroke="#262626" stroke-width="1.05" stroke-linecap="round" fill="none"/><path d="M543.8 75.3Q548.9 73.9 554.1 74.3" stroke="#262626" stroke-width="1.05" stroke-linecap="round" fill="none"/><path d="M543.8 73.7L548.9 73.7" stroke="#262626" stroke-width="1.05" stroke-linecap="round" fill="none"/><path d="M544.2 69.9Q548.9 69.3 553.0 71.1" stroke="#262626" stroke-width="1.05" stroke-linecap="round" fill="none"/><path d="M550.2 70.2L552.1 73.4" stroke="#262626" stroke-width="1.05" stroke-linecap="round" fill="none"/><path d="M545.2 66.9L550.3 68.6" stroke="#262626" stroke-width="1.05" stroke-linecap="round" fill="none"/><path d="M546.1 65.0Q550.6 67.2 555.3 69.1" stroke="#262626" stroke-width="1.05" stroke-linecap="round" fill="none"/><path d="M550.5 67.1L554.8 65.5" stroke="#262626" stroke-width="1.05" stroke-linecap="round" fill="none"/><path d="M548.0 62.3L553.1 65.6" stroke="#262626" stroke-width="1.05" stroke-linecap="round" fill="none"/><path d="M550.3 60.1Q558.0 61.4 559.1 66.8" stroke="#262626" stroke-width="1.05" stroke-linecap="round" fill="none"/><path d="M556.3 62.0L555.4 65.5" stroke="#262626" stroke-width="1.05" stroke-linecap="round" fill="none"/><path d="M552.5 58.4L556.0 62.6" stroke="#262626" stroke-width="1.05" stroke-linecap="round" fill="none"/><path d="M554.1 57.5Q555.2 61.8 558.7 64.6" stroke="#262626" stroke-width="1.05" stroke-linecap="round" fill="none"/><path d="M555.5 61.2L554.5 64.9" stroke="#262626" stroke-width="1.05" stroke-linecap="round" fill="none"/><path d="M555.6 56.8L557.8 60.6" stroke="#262626" stroke-width="1.05" stroke-linecap="round" fill="none"/><path d="M556.4 56.4Q558.2 60.6 560.7 64.6" stroke="#262626" stroke-width="1.05" stroke-linecap="round" fill="none"/><path d="M559.0 61.7L558.8 65.5" stroke="#262626" stroke-width="1.05" stroke-linecap="round" fill="none"/><path d="M558.2 55.8L559.9 59.8" stroke="#262626" stroke-width="1.05" stroke-linecap="round" fill="none"/><path d="M561.6 54.9Q562.6 58.9 563.4 63.0" stroke="#262626" stroke-width="1.05" stroke-linecap="round" fill="none"/><path d="M564.9 54.6L565.1 58.5" stroke="#262626" stroke-width="1.05" stroke-linecap="round" fill="none"/></g>
<line x1="565.5999999999999" y1="54.8" x2="565.5999999999999" y2="91.0" stroke="#9a9a9a" stroke-width="3.2"/><line x1="565.5999999999999" y1="54.8" x2="565.5999999999999" y2="91.0" stroke="#1a1a1a" stroke-width="1.5"/>
<rect x="543.8" y="53.8" width="43.6" height="38.2" filter="url(#gyA)" opacity="0.15" style="mix-blend-mode:multiply"/>
</g>
<g filter="url(#bl05)"><path d="M561.6 55.8C562.0 55.3 563.1 54.6 564.0 54.5C564.9 54.4 566.3 54.6 567.1 55.2C567.8 55.7 568.4 56.7 568.7 57.6C569.0 58.5 569.1 59.9 568.7 60.7C568.3 61.6 567.2 62.3 566.4 62.5C565.7 62.7 564.6 62.4 564.0 61.9C563.4 61.4 563.3 60.2 562.8 59.5C562.4 58.8 561.5 58.2 561.3 57.6C561.1 57.0 561.1 56.3 561.6 55.8Z" fill="#e02010" stroke="#a81408" stroke-width="0.9"/><ellipse cx="565.3" cy="59.3" rx="1.8" ry="1.8" fill="#f58a20" transform="rotate(0 565.3 59.3)"/><ellipse cx="565.4" cy="59.2" rx="0.9" ry="0.9" fill="#f4e030" transform="rotate(0 565.4 59.2)"/><path d="M546.4 73.0C547.3 72.1 549.8 71.5 550.8 71.7C551.7 71.9 552.0 73.2 551.9 74.2C551.8 75.1 550.6 76.1 550.1 77.2C549.6 78.3 549.5 80.3 548.9 80.9C548.3 81.5 547.0 81.5 546.4 80.9C545.9 80.3 545.4 78.5 545.4 77.2C545.4 75.9 545.6 73.9 546.4 73.0Z" fill="#e02010" stroke="#a81408" stroke-width="0.9"/><path d="M578.6 76.4C579.1 75.7 581.0 75.9 581.7 76.4C582.4 76.9 582.3 78.7 582.9 79.4C583.5 80.1 585.0 80.1 585.3 80.6C585.6 81.1 585.6 82.2 584.8 82.5C584.0 82.8 581.5 82.8 580.4 82.5C579.4 82.2 578.9 81.6 578.6 80.6C578.2 79.6 578.0 77.1 578.6 76.4Z" fill="#e02010" stroke="#a81408" stroke-width="0.9"/><ellipse cx="575.8" cy="63.6" rx="2.3" ry="1.8" fill="#e02010" transform="rotate(0 575.8 63.6)"/><ellipse cx="562.5" cy="79" rx="2" ry="1.7" fill="#e02010" transform="rotate(0 562.5 79)"/><ellipse cx="569.4" cy="78.3" rx="1.2" ry="3.6" fill="#e02010" transform="rotate(0 569.4 78.3)"/><ellipse cx="559.5" cy="65.5" rx="0.8" ry="0.8" fill="#e02010" transform="rotate(0 559.5 65.5)"/></g>
<clipPath id="bc3"><path d="M602.8 77.4 C601.2 57.1 620.0 43.6 641.0 43.6 C663.5 43.6 677.0 55.9 677.0 71.2 C677.0 80.4 674.8 86.6 669.5 87.8 C662.0 89.0 654.5 89.0 648.5 81.7 L630.5 79.2 C620.8 79.2 611.0 83.5 605.8 82.9 C603.5 81.7 602.8 80.4 602.8 77.4Z"/></clipPath>
<path d="M602.8 77.4 C601.2 57.1 620.0 43.6 641.0 43.6 C663.5 43.6 677.0 55.9 677.0 71.2 C677.0 80.4 674.8 86.6 669.5 87.8 C662.0 89.0 654.5 89.0 648.5 81.7 L630.5 79.2 C620.8 79.2 611.0 83.5 605.8 82.9 C603.5 81.7 602.8 80.4 602.8 77.4Z" fill="#e8e8e8"/>
<g clip-path="url(#bc3)">
<g filter="url(#bl03)"><path d="M602.8 77.4 C601.2 57.1 620.0 43.6 641.0 43.6 C663.5 43.6 677.0 55.9 677.0 71.2 C677.0 80.4 674.8 86.6 669.5 87.8 C662.0 89.0 654.5 89.0 648.5 81.7 L630.5 79.2 C620.8 79.2 611.0 83.5 605.8 82.9 C603.5 81.7 602.8 80.4 602.8 77.4Z" fill="none" stroke="#9a9a9a" stroke-width="5.0"/><path d="M609.8 86.7Q615.3 81.2 623.5 78.5" stroke="#a0a0a0" stroke-width="3.7" stroke-linecap="round" fill="none"/><path d="M616.5 81.5L619.6 75.8" stroke="#a0a0a0" stroke-width="3.7" stroke-linecap="round" fill="none"/><path d="M608.2 85.1L617.6 80.6" stroke="#a0a0a0" stroke-width="3.7" stroke-linecap="round" fill="none"/><path d="M605.4 81.6Q612.8 78.3 620.9 76.1" stroke="#a0a0a0" stroke-width="3.7" stroke-linecap="round" fill="none"/><path d="M613.6 78.3L621.3 79.9" stroke="#a0a0a0" stroke-width="3.7" stroke-linecap="round" fill="none"/><path d="M604.6 80.1L613.3 77.6" stroke="#a0a0a0" stroke-width="3.7" stroke-linecap="round" fill="none"/><path d="M603.4 77.9Q611.4 75.3 619.9 74.0" stroke="#a0a0a0" stroke-width="3.7" stroke-linecap="round" fill="none"/><path d="M612.7 75.3L619.8 77.5" stroke="#a0a0a0" stroke-width="3.7" stroke-linecap="round" fill="none"/><path d="M602.3 74.6L613.4 73.1" stroke="#a0a0a0" stroke-width="3.7" stroke-linecap="round" fill="none"/><path d="M601.6 70.0Q611.5 75.1 619.3 70.9" stroke="#a0a0a0" stroke-width="3.7" stroke-linecap="round" fill="none"/><path d="M601.8 67.0L611.0 67.6" stroke="#a0a0a0" stroke-width="3.7" stroke-linecap="round" fill="none"/><path d="M602.1 64.8Q611.0 62.0 617.5 65.7" stroke="#a0a0a0" stroke-width="3.7" stroke-linecap="round" fill="none"/><path d="M609.8 63.3L617.3 61.3" stroke="#a0a0a0" stroke-width="3.7" stroke-linecap="round" fill="none"/><path d="M603.2 61.5L613.5 63.6" stroke="#a0a0a0" stroke-width="3.7" stroke-linecap="round" fill="none"/><path d="M604.3 59.0Q614.8 56.5 619.3 62.0" stroke="#a0a0a0" stroke-width="3.7" stroke-linecap="round" fill="none"/><path d="M605.6 57.0L612.7 59.5" stroke="#a0a0a0" stroke-width="3.7" stroke-linecap="round" fill="none"/><path d="M606.4 55.8Q616.1 55.7 621.1 60.7" stroke="#a0a0a0" stroke-width="3.7" stroke-linecap="round" fill="none"/><path d="M615.8 57.2L616.2 62.9" stroke="#a0a0a0" stroke-width="3.7" stroke-linecap="round" fill="none"/><path d="M608.6 53.3L615.7 56.8" stroke="#a0a0a0" stroke-width="3.7" stroke-linecap="round" fill="none"/><path d="M613.8 48.9Q617.6 54.6 624.8 57.8" stroke="#a0a0a0" stroke-width="3.7" stroke-linecap="round" fill="none"/><path d="M618.2 54.0L619.6 60.5" stroke="#a0a0a0" stroke-width="3.7" stroke-linecap="round" fill="none"/><path d="M616.7 47.1L622.3 52.3" stroke="#a0a0a0" stroke-width="3.7" stroke-linecap="round" fill="none"/><path d="M616.1 47.4Q622.9 50.2 625.7 55.1" stroke="#a0a0a0" stroke-width="3.7" stroke-linecap="round" fill="none"/><path d="M620.3 45.2L625.9 51.7" stroke="#a0a0a0" stroke-width="3.7" stroke-linecap="round" fill="none"/><path d="M624.4 43.7Q619.8 52.0 628.6 53.8" stroke="#a0a0a0" stroke-width="3.7" stroke-linecap="round" fill="none"/><path d="M623.9 51.7L622.6 56.6" stroke="#a0a0a0" stroke-width="3.7" stroke-linecap="round" fill="none"/><path d="M627.2 42.8L630.3 48.8" stroke="#a0a0a0" stroke-width="3.7" stroke-linecap="round" fill="none"/><path d="M631.8 41.8Q633.3 46.3 634.8 50.8" stroke="#a0a0a0" stroke-width="3.7" stroke-linecap="round" fill="none"/><path d="M633.6 47.2L641.1 51.1" stroke="#a0a0a0" stroke-width="3.7" stroke-linecap="round" fill="none"/><path d="M637.1 41.2L638.1 48.7" stroke="#a0a0a0" stroke-width="3.7" stroke-linecap="round" fill="none"/><path d="M639.7 41.0Q647.1 47.4 641.8 52.9" stroke="#a0a0a0" stroke-width="3.7" stroke-linecap="round" fill="none"/><path d="M642.2 41.0L641.9 48.9" stroke="#a0a0a0" stroke-width="3.7" stroke-linecap="round" fill="none"/><path d="M646.3 41.3Q644.9 47.4 643.9 53.6" stroke="#a0a0a0" stroke-width="3.7" stroke-linecap="round" fill="none"/><path d="M644.7 48.7L640.2 52.4" stroke="#a0a0a0" stroke-width="3.7" stroke-linecap="round" fill="none"/><path d="M650.6 41.9L648.0 49.2" stroke="#a0a0a0" stroke-width="3.7" stroke-linecap="round" fill="none"/><path d="M653.2 42.4Q659.1 49.7 651.1 52.0" stroke="#a0a0a0" stroke-width="3.7" stroke-linecap="round" fill="none"/><path d="M657.7 43.7L653.5 50.2" stroke="#a0a0a0" stroke-width="3.7" stroke-linecap="round" fill="none"/><path d="M664.3 46.5Q663.3 51.8 657.5 54.3" stroke="#a0a0a0" stroke-width="3.7" stroke-linecap="round" fill="none"/><path d="M661.4 51.9L660.7 57.1" stroke="#a0a0a0" stroke-width="3.7" stroke-linecap="round" fill="none"/><path d="M666.0 47.5L658.8 53.8" stroke="#a0a0a0" stroke-width="3.7" stroke-linecap="round" fill="none"/><path d="M667.1 48.2Q659.0 51.6 654.9 57.4" stroke="#a0a0a0" stroke-width="3.7" stroke-linecap="round" fill="none"/><path d="M658.2 53.7L650.5 55.8" stroke="#a0a0a0" stroke-width="3.7" stroke-linecap="round" fill="none"/><path d="M670.2 50.4L661.8 55.9" stroke="#a0a0a0" stroke-width="3.7" stroke-linecap="round" fill="none"/><path d="M672.4 52.3Q667.3 57.3 659.7 59.7" stroke="#a0a0a0" stroke-width="3.7" stroke-linecap="round" fill="none"/><path d="M674.8 54.9L666.4 58.5" stroke="#a0a0a0" stroke-width="3.7" stroke-linecap="round" fill="none"/><path d="M676.2 56.7Q672.1 65.4 663.1 63.1" stroke="#a0a0a0" stroke-width="3.7" stroke-linecap="round" fill="none"/><path d="M669.6 63.2L663.6 61.5" stroke="#a0a0a0" stroke-width="3.7" stroke-linecap="round" fill="none"/><path d="M677.4 58.6L669.6 61.0" stroke="#a0a0a0" stroke-width="3.7" stroke-linecap="round" fill="none"/><path d="M679.1 62.1Q671.1 69.6 661.4 66.7" stroke="#a0a0a0" stroke-width="3.7" stroke-linecap="round" fill="none"/><path d="M668.7 67.5L663.0 64.1" stroke="#a0a0a0" stroke-width="3.7" stroke-linecap="round" fill="none"/><path d="M680.0 65.3L668.8 66.5" stroke="#a0a0a0" stroke-width="3.7" stroke-linecap="round" fill="none"/><path d="M680.3 70.7Q671.3 76.0 664.8 71.5" stroke="#a0a0a0" stroke-width="3.7" stroke-linecap="round" fill="none"/><path d="M670.1 73.5L663.1 76.3" stroke="#a0a0a0" stroke-width="3.7" stroke-linecap="round" fill="none"/><path d="M679.8 74.3L671.1 73.2" stroke="#a0a0a0" stroke-width="3.7" stroke-linecap="round" fill="none"/><path d="M680.0 73.4Q671.7 71.2 663.0 71.4" stroke="#a0a0a0" stroke-width="3.7" stroke-linecap="round" fill="none"/><path d="M679.5 75.4L669.9 73.9" stroke="#a0a0a0" stroke-width="3.7" stroke-linecap="round" fill="none"/><path d="M676.9 81.1Q668.4 82.9 664.9 78.3" stroke="#a0a0a0" stroke-width="3.7" stroke-linecap="round" fill="none"/><path d="M667.8 80.7L659.3 81.1" stroke="#a0a0a0" stroke-width="3.7" stroke-linecap="round" fill="none"/><path d="M674.1 84.8L667.3 81.6" stroke="#a0a0a0" stroke-width="3.7" stroke-linecap="round" fill="none"/><path d="M674.2 84.6Q669.3 78.0 660.2 77.2" stroke="#a0a0a0" stroke-width="3.7" stroke-linecap="round" fill="none"/><path d="M666.6 78.7L663.1 73.8" stroke="#a0a0a0" stroke-width="3.7" stroke-linecap="round" fill="none"/><path d="M671.2 87.6L662.6 82.3" stroke="#a0a0a0" stroke-width="3.7" stroke-linecap="round" fill="none"/><path d="M668.1 90.0Q659.3 89.1 658.2 83.8" stroke="#a0a0a0" stroke-width="3.7" stroke-linecap="round" fill="none"/><path d="M665.2 91.7L658.5 85.5" stroke="#a0a0a0" stroke-width="3.7" stroke-linecap="round" fill="none"/><path d="M609.8 86.7Q615.3 81.2 623.5 78.5" stroke="#262626" stroke-width="1.05" stroke-linecap="round" fill="none"/><path d="M616.5 81.5L619.6 75.8" stroke="#262626" stroke-width="1.05" stroke-linecap="round" fill="none"/><path d="M608.2 85.1L617.6 80.6" stroke="#262626" stroke-width="1.05" stroke-linecap="round" fill="none"/><path d="M605.4 81.6Q612.8 78.3 620.9 76.1" stroke="#262626" stroke-width="1.05" stroke-linecap="round" fill="none"/><path d="M613.6 78.3L621.3 79.9" stroke="#262626" stroke-width="1.05" stroke-linecap="round" fill="none"/><path d="M604.6 80.1L613.3 77.6" stroke="#262626" stroke-width="1.05" stroke-linecap="round" fill="none"/><path d="M603.4 77.9Q611.4 75.3 619.9 74.0" stroke="#262626" stroke-width="1.05" stroke-linecap="round" fill="none"/><path d="M612.7 75.3L619.8 77.5" stroke="#262626" stroke-width="1.05" stroke-linecap="round" fill="none"/><path d="M602.3 74.6L613.4 73.1" stroke="#262626" stroke-width="1.05" stroke-linecap="round" fill="none"/><path d="M601.6 70.0Q611.5 75.1 619.3 70.9" stroke="#262626" stroke-width="1.05" stroke-linecap="round" fill="none"/><path d="M601.8 67.0L611.0 67.6" stroke="#262626" stroke-width="1.05" stroke-linecap="round" fill="none"/><path d="M602.1 64.8Q611.0 62.0 617.5 65.7" stroke="#262626" stroke-width="1.05" stroke-linecap="round" fill="none"/><path d="M609.8 63.3L617.3 61.3" stroke="#262626" stroke-width="1.05" stroke-linecap="round" fill="none"/><path d="M603.2 61.5L613.5 63.6" stroke="#262626" stroke-width="1.05" stroke-linecap="round" fill="none"/><path d="M604.3 59.0Q614.8 56.5 619.3 62.0" stroke="#262626" stroke-width="1.05" stroke-linecap="round" fill="none"/><path d="M605.6 57.0L612.7 59.5" stroke="#262626" stroke-width="1.05" stroke-linecap="round" fill="none"/><path d="M606.4 55.8Q616.1 55.7 621.1 60.7" stroke="#262626" stroke-width="1.05" stroke-linecap="round" fill="none"/><path d="M615.8 57.2L616.2 62.9" stroke="#262626" stroke-width="1.05" stroke-linecap="round" fill="none"/><path d="M608.6 53.3L615.7 56.8" stroke="#262626" stroke-width="1.05" stroke-linecap="round" fill="none"/><path d="M613.8 48.9Q617.6 54.6 624.8 57.8" stroke="#262626" stroke-width="1.05" stroke-linecap="round" fill="none"/><path d="M618.2 54.0L619.6 60.5" stroke="#262626" stroke-width="1.05" stroke-linecap="round" fill="none"/><path d="M616.7 47.1L622.3 52.3" stroke="#262626" stroke-width="1.05" stroke-linecap="round" fill="none"/><path d="M616.1 47.4Q622.9 50.2 625.7 55.1" stroke="#262626" stroke-width="1.05" stroke-linecap="round" fill="none"/><path d="M620.3 45.2L625.9 51.7" stroke="#262626" stroke-width="1.05" stroke-linecap="round" fill="none"/><path d="M624.4 43.7Q619.8 52.0 628.6 53.8" stroke="#262626" stroke-width="1.05" stroke-linecap="round" fill="none"/><path d="M623.9 51.7L622.6 56.6" stroke="#262626" stroke-width="1.05" stroke-linecap="round" fill="none"/><path d="M627.2 42.8L630.3 48.8" stroke="#262626" stroke-width="1.05" stroke-linecap="round" fill="none"/><path d="M631.8 41.8Q633.3 46.3 634.8 50.8" stroke="#262626" stroke-width="1.05" stroke-linecap="round" fill="none"/><path d="M633.6 47.2L641.1 51.1" stroke="#262626" stroke-width="1.05" stroke-linecap="round" fill="none"/><path d="M637.1 41.2L638.1 48.7" stroke="#262626" stroke-width="1.05" stroke-linecap="round" fill="none"/><path d="M639.7 41.0Q647.1 47.4 641.8 52.9" stroke="#262626" stroke-width="1.05" stroke-linecap="round" fill="none"/><path d="M642.2 41.0L641.9 48.9" stroke="#262626" stroke-width="1.05" stroke-linecap="round" fill="none"/><path d="M646.3 41.3Q644.9 47.4 643.9 53.6" stroke="#262626" stroke-width="1.05" stroke-linecap="round" fill="none"/><path d="M644.7 48.7L640.2 52.4" stroke="#262626" stroke-width="1.05" stroke-linecap="round" fill="none"/><path d="M650.6 41.9L648.0 49.2" stroke="#262626" stroke-width="1.05" stroke-linecap="round" fill="none"/><path d="M653.2 42.4Q659.1 49.7 651.1 52.0" stroke="#262626" stroke-width="1.05" stroke-linecap="round" fill="none"/><path d="M657.7 43.7L653.5 50.2" stroke="#262626" stroke-width="1.05" stroke-linecap="round" fill="none"/><path d="M664.3 46.5Q663.3 51.8 657.5 54.3" stroke="#262626" stroke-width="1.05" stroke-linecap="round" fill="none"/><path d="M661.4 51.9L660.7 57.1" stroke="#262626" stroke-width="1.05" stroke-linecap="round" fill="none"/><path d="M666.0 47.5L658.8 53.8" stroke="#262626" stroke-width="1.05" stroke-linecap="round" fill="none"/><path d="M667.1 48.2Q659.0 51.6 654.9 57.4" stroke="#262626" stroke-width="1.05" stroke-linecap="round" fill="none"/><path d="M658.2 53.7L650.5 55.8" stroke="#262626" stroke-width="1.05" stroke-linecap="round" fill="none"/><path d="M670.2 50.4L661.8 55.9" stroke="#262626" stroke-width="1.05" stroke-linecap="round" fill="none"/><path d="M672.4 52.3Q667.3 57.3 659.7 59.7" stroke="#262626" stroke-width="1.05" stroke-linecap="round" fill="none"/><path d="M674.8 54.9L666.4 58.5" stroke="#262626" stroke-width="1.05" stroke-linecap="round" fill="none"/><path d="M676.2 56.7Q672.1 65.4 663.1 63.1" stroke="#262626" stroke-width="1.05" stroke-linecap="round" fill="none"/><path d="M669.6 63.2L663.6 61.5" stroke="#262626" stroke-width="1.05" stroke-linecap="round" fill="none"/><path d="M677.4 58.6L669.6 61.0" stroke="#262626" stroke-width="1.05" stroke-linecap="round" fill="none"/><path d="M679.1 62.1Q671.1 69.6 661.4 66.7" stroke="#262626" stroke-width="1.05" stroke-linecap="round" fill="none"/><path d="M668.7 67.5L663.0 64.1" stroke="#262626" stroke-width="1.05" stroke-linecap="round" fill="none"/><path d="M680.0 65.3L668.8 66.5" stroke="#262626" stroke-width="1.05" stroke-linecap="round" fill="none"/><path d="M680.3 70.7Q671.3 76.0 664.8 71.5" stroke="#262626" stroke-width="1.05" stroke-linecap="round" fill="none"/><path d="M670.1 73.5L663.1 76.3" stroke="#262626" stroke-width="1.05" stroke-linecap="round" fill="none"/><path d="M679.8 74.3L671.1 73.2" stroke="#262626" stroke-width="1.05" stroke-linecap="round" fill="none"/><path d="M680.0 73.4Q671.7 71.2 663.0 71.4" stroke="#262626" stroke-width="1.05" stroke-linecap="round" fill="none"/><path d="M679.5 75.4L669.9 73.9" stroke="#262626" stroke-width="1.05" stroke-linecap="round" fill="none"/><path d="M676.9 81.1Q668.4 82.9 664.9 78.3" stroke="#262626" stroke-width="1.05" stroke-linecap="round" fill="none"/><path d="M667.8 80.7L659.3 81.1" stroke="#262626" stroke-width="1.05" stroke-linecap="round" fill="none"/><path d="M674.1 84.8L667.3 81.6" stroke="#262626" stroke-width="1.05" stroke-linecap="round" fill="none"/><path d="M674.2 84.6Q669.3 78.0 660.2 77.2" stroke="#262626" stroke-width="1.05" stroke-linecap="round" fill="none"/><path d="M666.6 78.7L663.1 73.8" stroke="#262626" stroke-width="1.05" stroke-linecap="round" fill="none"/><path d="M671.2 87.6L662.6 82.3" stroke="#262626" stroke-width="1.05" stroke-linecap="round" fill="none"/><path d="M668.1 90.0Q659.3 89.1 658.2 83.8" stroke="#262626" stroke-width="1.05" stroke-linecap="round" fill="none"/><path d="M665.2 91.7L658.5 85.5" stroke="#262626" stroke-width="1.05" stroke-linecap="round" fill="none"/></g>
<path d="M626.8 78.0 C629.0 58.3 660.5 54.7 668.0 69.4 C669.5 78.0 662.0 81.7 654.5 79.2 L639.5 81.7Z" fill="#a8a8a8"/><path d="M628.2 74.3 C632.0 59.6 659.0 56.5 665.8 69.4 C666.5 75.5 662.0 78.6 657.5 76.1" stroke="#f4f4f4" stroke-width="2.6" fill="none"/><path d="M629.8 75.5 C634.2 62.6 657.5 60.8 662.8 70.6" stroke="#4a4a4a" stroke-width="0.9" fill="none"/><ellipse cx="641.0" cy="74.3" rx="7.5" ry="4.9" fill="#bcbcbc"/>
<rect x="601.0" y="42.6" width="77.0" height="63.4" filter="url(#gyA)" opacity="0.15" style="mix-blend-mode:multiply"/>
</g>
<path d="M609.5 82.9 C615.5 78.0 629.0 78.6 633.5 85.4 C636.5 91.5 632.0 98.9 622.2 98.9 C612.5 98.9 605.8 93.9 606.5 88.4 C606.5 86.0 608.0 84.1 609.5 82.9Z" fill="#a6a6a6"/>
<clipPath id="bc4"><path d="M609.5 82.9 C615.5 78.0 629.0 78.6 633.5 85.4 C636.5 91.5 632.0 98.9 622.2 98.9 C612.5 98.9 605.8 93.9 606.5 88.4 C606.5 86.0 608.0 84.1 609.5 82.9Z"/></clipPath>
<g clip-path="url(#bc4)"><g filter="url(#bl03)"><path d="M629.0 86.6 Q632.4 91.0 635.2 100.6" stroke="#ececec" stroke-width="0.9" fill="none"/><path d="M629.0 86.6 Q630.6 91.4 630.4 101.3" stroke="#ececec" stroke-width="0.9" fill="none"/><path d="M629.0 86.6 Q628.8 91.5 625.5 101.1" stroke="#ececec" stroke-width="0.9" fill="none"/><path d="M629.0 86.6 Q626.9 91.3 620.8 100.0" stroke="#ececec" stroke-width="0.9" fill="none"/><path d="M629.0 86.6 Q625.2 90.8 616.7 98.0" stroke="#ececec" stroke-width="0.9" fill="none"/><path d="M629.0 86.6 Q623.7 90.1 613.3 95.3" stroke="#ececec" stroke-width="0.9" fill="none"/><path d="M629.0 86.6 Q622.5 89.1 610.9 92.1" stroke="#ececec" stroke-width="0.9" fill="none"/><path d="M629.0 86.6 Q621.8 88.0 609.7 88.5" stroke="#ececec" stroke-width="0.9" fill="none"/><path d="M629.0 86.6 Q621.5 86.7 609.6 84.8" stroke="#ececec" stroke-width="0.9" fill="none"/><path d="M629.0 86.6 Q621.7 85.5 610.8 81.3" stroke="#ececec" stroke-width="0.9" fill="none"/><path d="M629.0 86.6 Q622.3 84.3 613.1 78.0" stroke="#ececec" stroke-width="0.9" fill="none"/><path d="M629.0 86.6 Q623.4 83.3 616.5 75.3" stroke="#ececec" stroke-width="0.9" fill="none"/><path d="M629.0 86.6 Q624.8 82.5 620.6 73.3" stroke="#ececec" stroke-width="0.9" fill="none"/><path d="M629.0 86.6 Q626.5 82.0 625.2 72.1" stroke="#ececec" stroke-width="0.9" fill="none"/><path d="M629.0 86.6 Q628.3 81.7 630.1 71.9" stroke="#ececec" stroke-width="0.9" fill="none"/><path d="M629.0 86.6 Q630.2 81.7 634.9 72.5" stroke="#ececec" stroke-width="0.9" fill="none"/><path d="M629.0 86.6 Q632.0 82.1 639.3 74.1" stroke="#ececec" stroke-width="0.9" fill="none"/><path d="M629.0 86.6 L635.6 100.4" stroke="#5a5a5a" stroke-width="0.5" fill="none"/><path d="M629.0 86.6 L630.8 101.3" stroke="#5a5a5a" stroke-width="0.5" fill="none"/><path d="M629.0 86.6 L625.9 101.1" stroke="#5a5a5a" stroke-width="0.5" fill="none"/><path d="M629.0 86.6 L621.3 100.1" stroke="#5a5a5a" stroke-width="0.5" fill="none"/><path d="M629.0 86.6 L617.0 98.2" stroke="#5a5a5a" stroke-width="0.5" fill="none"/><path d="M629.0 86.6 L613.6 95.6" stroke="#5a5a5a" stroke-width="0.5" fill="none"/><path d="M629.0 86.6 L611.1 92.4" stroke="#5a5a5a" stroke-width="0.5" fill="none"/><path d="M629.0 86.6 L609.7 88.9" stroke="#5a5a5a" stroke-width="0.5" fill="none"/><path d="M629.0 86.6 L609.6 85.2" stroke="#5a5a5a" stroke-width="0.5" fill="none"/><path d="M629.0 86.6 L610.7 81.6" stroke="#5a5a5a" stroke-width="0.5" fill="none"/><path d="M629.0 86.6 L612.9 78.3" stroke="#5a5a5a" stroke-width="0.5" fill="none"/><path d="M629.0 86.6 L616.1 75.5" stroke="#5a5a5a" stroke-width="0.5" fill="none"/><path d="M629.0 86.6 L620.1 73.5" stroke="#5a5a5a" stroke-width="0.5" fill="none"/><path d="M629.0 86.6 L624.7 72.2" stroke="#5a5a5a" stroke-width="0.5" fill="none"/><path d="M629.0 86.6 L629.6 71.9" stroke="#5a5a5a" stroke-width="0.5" fill="none"/><path d="M629.0 86.6 L634.4 72.4" stroke="#5a5a5a" stroke-width="0.5" fill="none"/></g><rect x="602.0" y="74.3" width="37.5" height="30.7" filter="url(#gyA)" opacity="0.15" style="mix-blend-mode:multiply"/></g>
<path d="M609.5 82.9 C615.5 78.0 629.0 78.6 633.5 85.4 C636.5 91.5 632.0 98.9 622.2 98.9 C612.5 98.9 605.8 93.9 606.5 88.4 C606.5 86.0 608.0 84.1 609.5 82.9Z" fill="none" stroke="#555" stroke-width="0.7"/>
<path d="M632.0 73.1 C643.2 70.6 653.0 76.1 650.8 84.1 C649.2 89.7 643.2 91.5 639.5 95.2 L637.2 105.0 L629.8 105.0 C630.5 98.9 631.2 92.7 630.5 86.6 C629.8 80.4 629.8 75.5 632.0 73.1Z" fill="#c4c4c4"/>
<g filter="url(#bl05)"><path d="M637.2 75.5 C642.5 80.4 641.0 87.8 635.8 96.4" stroke="#a4a4a4" stroke-width="1.5" fill="none"/><ellipse cx="644.0" cy="80.4" rx="3.8" ry="3.1" fill="#d4d4d4"/></g>
<g filter="url(#bl05)"><path d="M606.6 67.7C607.8 66.5 610.9 66.5 612.9 65.9C614.8 65.3 616.7 65.0 618.2 64.1C619.7 63.2 620.7 61.5 621.8 60.5C622.8 59.4 623.3 58.8 624.5 57.8C625.7 56.7 628.4 55.6 629.0 54.2C629.6 52.7 627.3 49.9 628.1 48.8C628.8 47.8 632.4 47.2 633.5 47.9C634.5 48.7 634.8 51.6 634.4 53.3C633.9 54.9 631.8 56.3 630.8 57.8C629.7 59.3 629.1 60.9 628.1 62.3C627.0 63.6 625.5 64.7 624.5 65.9C623.4 67.1 622.4 67.8 621.8 69.5C621.2 71.1 621.5 74.0 620.9 75.7C620.3 77.3 619.1 78.2 618.2 79.3C617.3 80.3 616.7 81.7 615.5 82.0C614.3 82.3 612.3 82.0 611.1 81.1C609.9 80.2 609.3 77.9 608.4 76.6C607.5 75.2 606.0 74.5 605.7 73.1C605.4 71.6 605.4 68.9 606.6 67.7Z" fill="#e02010" stroke="#a81408" stroke-width="0.9"/><ellipse cx="617" cy="74" rx="3" ry="2.5" fill="#f58a20" transform="rotate(0 617 74)"/><path d="M654.6 57.2C655.0 56.0 658.0 55.2 660.0 55.4C661.9 55.5 665.0 57.0 666.2 58.1C667.4 59.1 667.5 60.8 667.1 61.7C666.6 62.6 665.1 63.3 663.5 63.5C661.8 63.6 658.7 63.6 657.3 62.6C655.8 61.5 654.1 58.4 654.6 57.2Z" fill="#e02010" stroke="#a81408" stroke-width="0.9"/><ellipse cx="647.3" cy="53.5" rx="2.5" ry="2.4" fill="#e02010" transform="rotate(0 647.3 53.5)"/><path d="M664.1 73.2C665.0 72.2 667.4 71.1 668.6 71.4C669.8 71.7 671.0 73.6 671.2 74.9C671.5 76.3 671.2 78.5 670.4 79.4C669.5 80.3 667.0 80.6 665.9 80.3C664.7 80.1 663.5 78.9 663.2 77.7C662.9 76.5 663.2 74.3 664.1 73.2Z" fill="#e02010" stroke="#a81408" stroke-width="0.9"/><ellipse cx="629.9" cy="78.3" rx="3" ry="2.5" fill="#e02010" transform="rotate(0 629.9 78.3)"/><ellipse cx="619.9" cy="95.3" rx="2" ry="2.5" fill="#e02010" transform="rotate(0 619.9 95.3)"/><ellipse cx="673.5" cy="61" rx="1" ry="1" fill="#e02010" transform="rotate(0 673.5 61)"/></g>
<clipPath id="bc5"><path d="M500.0 132.5 C513.676 132.5 525.2479999999999 146.382 526.3 165.312 C526.8259999999999 185.504 515.78 195.6 500.0 195.6 C484.22 195.6 473.174 185.504 473.7 165.312 C474.752 146.382 486.324 132.5 500.0 132.5Z"/></clipPath>
<path d="M500.0 132.5 C513.676 132.5 525.2479999999999 146.382 526.3 165.312 C526.8259999999999 185.504 515.78 195.6 500.0 195.6 C484.22 195.6 473.174 185.504 473.7 165.312 C474.752 146.382 486.324 132.5 500.0 132.5Z" fill="#e8e8e8"/>
<g clip-path="url(#bc5)">
<g filter="url(#bl03)"><path d="M500.0 132.5 C513.676 132.5 525.2479999999999 146.382 526.3 165.312 C526.8259999999999 185.504 515.78 195.6 500.0 195.6 C484.22 195.6 473.174 185.504 473.7 165.312 C474.752 146.382 486.324 132.5 500.0 132.5Z" fill="none" stroke="#9a9a9a" stroke-width="5.0"/><path d="M501.4 134.1Q496.0 139.4 499.7 143.9" stroke="#a0a0a0" stroke-width="3.7" stroke-linecap="round" fill="none"/><path d="M502.8 134.3L502.1 143.2" stroke="#a0a0a0" stroke-width="3.7" stroke-linecap="round" fill="none"/><path d="M509.5 136.1Q508.7 144.9 505.0 152.2" stroke="#a0a0a0" stroke-width="3.7" stroke-linecap="round" fill="none"/><path d="M507.7 145.4L508.7 152.2" stroke="#a0a0a0" stroke-width="3.7" stroke-linecap="round" fill="none"/><path d="M511.6 137.1L508.7 144.6" stroke="#a0a0a0" stroke-width="3.7" stroke-linecap="round" fill="none"/><path d="M513.2 138.1Q511.0 143.7 508.4 149.0" stroke="#a0a0a0" stroke-width="3.7" stroke-linecap="round" fill="none"/><path d="M511.1 143.2L505.8 144.1" stroke="#a0a0a0" stroke-width="3.7" stroke-linecap="round" fill="none"/><path d="M516.1 140.3L512.0 147.3" stroke="#a0a0a0" stroke-width="3.7" stroke-linecap="round" fill="none"/><path d="M517.7 141.8Q508.4 145.2 507.3 154.8" stroke="#a0a0a0" stroke-width="3.7" stroke-linecap="round" fill="none"/><path d="M509.4 148.2L505.0 149.6" stroke="#a0a0a0" stroke-width="3.7" stroke-linecap="round" fill="none"/><path d="M518.7 142.8L514.9 147.8" stroke="#a0a0a0" stroke-width="3.7" stroke-linecap="round" fill="none"/><path d="M520.4 144.8Q518.2 156.0 510.6 157.4" stroke="#a0a0a0" stroke-width="3.7" stroke-linecap="round" fill="none"/><path d="M517.1 153.8L515.7 159.2" stroke="#a0a0a0" stroke-width="3.7" stroke-linecap="round" fill="none"/><path d="M522.6 148.2L516.2 153.6" stroke="#a0a0a0" stroke-width="3.7" stroke-linecap="round" fill="none"/><path d="M524.0 150.9Q518.5 157.8 511.2 160.2" stroke="#a0a0a0" stroke-width="3.7" stroke-linecap="round" fill="none"/><path d="M525.7 155.0L520.2 157.6" stroke="#a0a0a0" stroke-width="3.7" stroke-linecap="round" fill="none"/><path d="M525.8 155.3Q517.2 153.7 512.2 160.5" stroke="#a0a0a0" stroke-width="3.7" stroke-linecap="round" fill="none"/><path d="M517.5 155.9L511.5 154.9" stroke="#a0a0a0" stroke-width="3.7" stroke-linecap="round" fill="none"/><path d="M526.9 159.5L520.3 161.4" stroke="#a0a0a0" stroke-width="3.7" stroke-linecap="round" fill="none"/><path d="M527.0 160.4Q522.0 158.1 518.4 161.7" stroke="#a0a0a0" stroke-width="3.7" stroke-linecap="round" fill="none"/><path d="M520.6 160.1L517.0 165.3" stroke="#a0a0a0" stroke-width="3.7" stroke-linecap="round" fill="none"/><path d="M527.5 164.7L519.9 165.4" stroke="#a0a0a0" stroke-width="3.7" stroke-linecap="round" fill="none"/><path d="M527.6 166.7Q520.3 169.2 513.1 167.4" stroke="#a0a0a0" stroke-width="3.7" stroke-linecap="round" fill="none"/><path d="M527.6 168.8L521.5 168.4" stroke="#a0a0a0" stroke-width="3.7" stroke-linecap="round" fill="none"/><path d="M527.3 172.3Q518.8 174.5 511.7 170.1" stroke="#a0a0a0" stroke-width="3.7" stroke-linecap="round" fill="none"/><path d="M517.7 172.6L513.5 175.9" stroke="#a0a0a0" stroke-width="3.7" stroke-linecap="round" fill="none"/><path d="M526.7 175.5L519.9 173.4" stroke="#a0a0a0" stroke-width="3.7" stroke-linecap="round" fill="none"/><path d="M526.3 177.2Q518.1 177.4 511.7 172.3" stroke="#a0a0a0" stroke-width="3.7" stroke-linecap="round" fill="none"/><path d="M518.3 176.1L512.9 176.7" stroke="#a0a0a0" stroke-width="3.7" stroke-linecap="round" fill="none"/><path d="M525.4 180.1L518.3 176.5" stroke="#a0a0a0" stroke-width="3.7" stroke-linecap="round" fill="none"/><path d="M523.3 185.1Q514.0 185.1 510.7 176.8" stroke="#a0a0a0" stroke-width="3.7" stroke-linecap="round" fill="none"/><path d="M515.2 183.2L514.8 176.8" stroke="#a0a0a0" stroke-width="3.7" stroke-linecap="round" fill="none"/><path d="M521.0 188.8L514.8 182.4" stroke="#a0a0a0" stroke-width="3.7" stroke-linecap="round" fill="none"/><path d="M519.5 190.7Q510.9 188.1 508.8 179.4" stroke="#a0a0a0" stroke-width="3.7" stroke-linecap="round" fill="none"/><path d="M512.7 187.4L512.0 180.7" stroke="#a0a0a0" stroke-width="3.7" stroke-linecap="round" fill="none"/><path d="M517.7 192.6L512.6 185.3" stroke="#a0a0a0" stroke-width="3.7" stroke-linecap="round" fill="none"/><path d="M516.3 193.9Q513.1 188.0 509.4 182.4" stroke="#a0a0a0" stroke-width="3.7" stroke-linecap="round" fill="none"/><path d="M512.0 186.5L506.6 184.6" stroke="#a0a0a0" stroke-width="3.7" stroke-linecap="round" fill="none"/><path d="M514.1 195.7L510.1 187.5" stroke="#a0a0a0" stroke-width="3.7" stroke-linecap="round" fill="none"/><path d="M510.7 197.7Q504.5 193.0 505.5 185.6" stroke="#a0a0a0" stroke-width="3.7" stroke-linecap="round" fill="none"/><path d="M505.6 190.4L508.0 185.6" stroke="#a0a0a0" stroke-width="3.7" stroke-linecap="round" fill="none"/><path d="M507.7 199.0L506.0 191.8" stroke="#a0a0a0" stroke-width="3.7" stroke-linecap="round" fill="none"/><path d="M507.1 199.2Q506.6 189.6 503.4 181.0" stroke="#a0a0a0" stroke-width="3.7" stroke-linecap="round" fill="none"/><path d="M505.5 187.9L507.2 182.7" stroke="#a0a0a0" stroke-width="3.7" stroke-linecap="round" fill="none"/><path d="M504.9 199.8L503.7 191.8" stroke="#a0a0a0" stroke-width="3.7" stroke-linecap="round" fill="none"/><path d="M503.8 200.0Q505.4 191.4 502.4 183.9" stroke="#a0a0a0" stroke-width="3.7" stroke-linecap="round" fill="none"/><path d="M504.1 190.4L500.6 187.0" stroke="#a0a0a0" stroke-width="3.7" stroke-linecap="round" fill="none"/><path d="M501.1 200.3L500.9 193.6" stroke="#a0a0a0" stroke-width="3.7" stroke-linecap="round" fill="none"/><path d="M498.0 200.2Q493.4 194.2 497.4 190.1" stroke="#a0a0a0" stroke-width="3.7" stroke-linecap="round" fill="none"/><path d="M495.4 194.4L491.8 188.9" stroke="#a0a0a0" stroke-width="3.7" stroke-linecap="round" fill="none"/><path d="M494.5 199.7L496.0 190.7" stroke="#a0a0a0" stroke-width="3.7" stroke-linecap="round" fill="none"/><path d="M493.0 199.2Q489.4 192.4 493.9 189.3" stroke="#a0a0a0" stroke-width="3.7" stroke-linecap="round" fill="none"/><path d="M491.7 192.0L489.5 185.0" stroke="#a0a0a0" stroke-width="3.7" stroke-linecap="round" fill="none"/><path d="M489.4 197.8L491.8 190.9" stroke="#a0a0a0" stroke-width="3.7" stroke-linecap="round" fill="none"/><path d="M486.5 196.1Q490.8 191.4 492.3 184.8" stroke="#a0a0a0" stroke-width="3.7" stroke-linecap="round" fill="none"/><path d="M490.5 190.2L494.8 188.7" stroke="#a0a0a0" stroke-width="3.7" stroke-linecap="round" fill="none"/><path d="M483.8 194.1L488.2 186.8" stroke="#a0a0a0" stroke-width="3.7" stroke-linecap="round" fill="none"/><path d="M483.6 193.9Q485.1 183.5 491.8 179.0" stroke="#a0a0a0" stroke-width="3.7" stroke-linecap="round" fill="none"/><path d="M487.0 183.8L488.4 177.6" stroke="#a0a0a0" stroke-width="3.7" stroke-linecap="round" fill="none"/><path d="M481.8 192.1L486.6 185.6" stroke="#a0a0a0" stroke-width="3.7" stroke-linecap="round" fill="none"/><path d="M478.4 187.8Q480.2 180.9 485.4 179.9" stroke="#a0a0a0" stroke-width="3.7" stroke-linecap="round" fill="none"/><path d="M480.8 182.4L486.5 182.8" stroke="#a0a0a0" stroke-width="3.7" stroke-linecap="round" fill="none"/><path d="M476.4 184.5L482.5 180.0" stroke="#a0a0a0" stroke-width="3.7" stroke-linecap="round" fill="none"/><path d="M476.2 184.0Q477.8 173.6 483.7 176.5" stroke="#a0a0a0" stroke-width="3.7" stroke-linecap="round" fill="none"/><path d="M474.7 180.4L481.8 176.7" stroke="#a0a0a0" stroke-width="3.7" stroke-linecap="round" fill="none"/><path d="M474.1 178.7Q481.5 182.4 484.3 175.8" stroke="#a0a0a0" stroke-width="3.7" stroke-linecap="round" fill="none"/><path d="M480.1 180.3L480.8 173.3" stroke="#a0a0a0" stroke-width="3.7" stroke-linecap="round" fill="none"/><path d="M473.2 175.4L478.9 173.7" stroke="#a0a0a0" stroke-width="3.7" stroke-linecap="round" fill="none"/><path d="M472.7 172.6Q481.0 177.9 486.1 171.4" stroke="#a0a0a0" stroke-width="3.7" stroke-linecap="round" fill="none"/><path d="M472.4 168.3L478.8 168.1" stroke="#a0a0a0" stroke-width="3.7" stroke-linecap="round" fill="none"/><path d="M472.4 167.9Q477.3 162.6 481.6 166.4" stroke="#a0a0a0" stroke-width="3.7" stroke-linecap="round" fill="none"/><path d="M472.5 164.5L479.8 165.2" stroke="#a0a0a0" stroke-width="3.7" stroke-linecap="round" fill="none"/><path d="M472.7 162.1Q478.9 165.9 485.5 165.0" stroke="#a0a0a0" stroke-width="3.7" stroke-linecap="round" fill="none"/><path d="M480.6 165.1L484.2 161.6" stroke="#a0a0a0" stroke-width="3.7" stroke-linecap="round" fill="none"/><path d="M473.5 157.8L481.0 160.5" stroke="#a0a0a0" stroke-width="3.7" stroke-linecap="round" fill="none"/><path d="M474.6 154.2Q481.8 157.3 488.7 161.3" stroke="#a0a0a0" stroke-width="3.7" stroke-linecap="round" fill="none"/><path d="M481.3 157.3L485.9 154.6" stroke="#a0a0a0" stroke-width="3.7" stroke-linecap="round" fill="none"/><path d="M475.1 152.8L481.2 156.3" stroke="#a0a0a0" stroke-width="3.7" stroke-linecap="round" fill="none"/><path d="M477.0 148.8Q481.4 151.1 484.9 154.8" stroke="#a0a0a0" stroke-width="3.7" stroke-linecap="round" fill="none"/><path d="M480.9 151.2L486.3 151.2" stroke="#a0a0a0" stroke-width="3.7" stroke-linecap="round" fill="none"/><path d="M477.9 147.4L484.1 153.0" stroke="#a0a0a0" stroke-width="3.7" stroke-linecap="round" fill="none"/><path d="M480.3 144.0Q483.1 153.1 489.8 156.4" stroke="#a0a0a0" stroke-width="3.7" stroke-linecap="round" fill="none"/><path d="M485.2 153.0L490.2 154.4" stroke="#a0a0a0" stroke-width="3.7" stroke-linecap="round" fill="none"/><path d="M482.3 141.7L486.5 147.8" stroke="#a0a0a0" stroke-width="3.7" stroke-linecap="round" fill="none"/><path d="M483.1 141.0Q486.5 144.2 488.4 148.8" stroke="#a0a0a0" stroke-width="3.7" stroke-linecap="round" fill="none"/><path d="M486.2 138.5L489.3 145.1" stroke="#a0a0a0" stroke-width="3.7" stroke-linecap="round" fill="none"/><path d="M489.5 136.6Q490.2 144.0 493.7 150.0" stroke="#a0a0a0" stroke-width="3.7" stroke-linecap="round" fill="none"/><path d="M492.0 135.5L494.1 143.9" stroke="#a0a0a0" stroke-width="3.7" stroke-linecap="round" fill="none"/><path d="M493.2 135.1Q490.1 144.1 495.1 149.4" stroke="#a0a0a0" stroke-width="3.7" stroke-linecap="round" fill="none"/><path d="M495.7 134.5L496.5 141.1" stroke="#a0a0a0" stroke-width="3.7" stroke-linecap="round" fill="none"/><path d="M497.6 134.2Q495.0 139.7 497.6 144.3" stroke="#a0a0a0" stroke-width="3.7" stroke-linecap="round" fill="none"/><path d="M496.3 140.2L492.7 146.4" stroke="#a0a0a0" stroke-width="3.7" stroke-linecap="round" fill="none"/><path d="M499.1 134.1L499.3 142.6" stroke="#a0a0a0" stroke-width="3.7" stroke-linecap="round" fill="none"/><path d="M501.4 134.1Q496.0 139.4 499.7 143.9" stroke="#262626" stroke-width="1.05" stroke-linecap="round" fill="none"/><path d="M502.8 134.3L502.1 143.2" stroke="#262626" stroke-width="1.05" stroke-linecap="round" fill="none"/><path d="M509.5 136.1Q508.7 144.9 505.0 152.2" stroke="#262626" stroke-width="1.05" stroke-linecap="round" fill="none"/><path d="M507.7 145.4L508.7 152.2" stroke="#262626" stroke-width="1.05" stroke-linecap="round" fill="none"/><path d="M511.6 137.1L508.7 144.6" stroke="#262626" stroke-width="1.05" stroke-linecap="round" fill="none"/><path d="M513.2 138.1Q511.0 143.7 508.4 149.0" stroke="#262626" stroke-width="1.05" stroke-linecap="round" fill="none"/><path d="M511.1 143.2L505.8 144.1" stroke="#262626" stroke-width="1.05" stroke-linecap="round" fill="none"/><path d="M516.1 140.3L512.0 147.3" stroke="#262626" stroke-width="1.05" stroke-linecap="round" fill="none"/><path d="M517.7 141.8Q508.4 145.2 507.3 154.8" stroke="#262626" stroke-width="1.05" stroke-linecap="round" fill="none"/><path d="M509.4 148.2L505.0 149.6" stroke="#262626" stroke-width="1.05" stroke-linecap="round" fill="none"/><path d="M518.7 142.8L514.9 147.8" stroke="#262626" stroke-width="1.05" stroke-linecap="round" fill="none"/><path d="M520.4 144.8Q518.2 156.0 510.6 157.4" stroke="#262626" stroke-width="1.05" stroke-linecap="round" fill="none"/><path d="M517.1 153.8L515.7 159.2" stroke="#262626" stroke-width="1.05" stroke-linecap="round" fill="none"/><path d="M522.6 148.2L516.2 153.6" stroke="#262626" stroke-width="1.05" stroke-linecap="round" fill="none"/><path d="M524.0 150.9Q518.5 157.8 511.2 160.2" stroke="#262626" stroke-width="1.05" stroke-linecap="round" fill="none"/><path d="M525.7 155.0L520.2 157.6" stroke="#262626" stroke-width="1.05" stroke-linecap="round" fill="none"/><path d="M525.8 155.3Q517.2 153.7 512.2 160.5" stroke="#262626" stroke-width="1.05" stroke-linecap="round" fill="none"/><path d="M517.5 155.9L511.5 154.9" stroke="#262626" stroke-width="1.05" stroke-linecap="round" fill="none"/><path d="M526.9 159.5L520.3 161.4" stroke="#262626" stroke-width="1.05" stroke-linecap="round" fill="none"/><path d="M527.0 160.4Q522.0 158.1 518.4 161.7" stroke="#262626" stroke-width="1.05" stroke-linecap="round" fill="none"/><path d="M520.6 160.1L517.0 165.3" stroke="#262626" stroke-width="1.05" stroke-linecap="round" fill="none"/><path d="M527.5 164.7L519.9 165.4" stroke="#262626" stroke-width="1.05" stroke-linecap="round" fill="none"/><path d="M527.6 166.7Q520.3 169.2 513.1 167.4" stroke="#262626" stroke-width="1.05" stroke-linecap="round" fill="none"/><path d="M527.6 168.8L521.5 168.4" stroke="#262626" stroke-width="1.05" stroke-linecap="round" fill="none"/><path d="M527.3 172.3Q518.8 174.5 511.7 170.1" stroke="#262626" stroke-width="1.05" stroke-linecap="round" fill="none"/><path d="M517.7 172.6L513.5 175.9" stroke="#262626" stroke-width="1.05" stroke-linecap="round" fill="none"/><path d="M526.7 175.5L519.9 173.4" stroke="#262626" stroke-width="1.05" stroke-linecap="round" fill="none"/><path d="M526.3 177.2Q518.1 177.4 511.7 172.3" stroke="#262626" stroke-width="1.05" stroke-linecap="round" fill="none"/><path d="M518.3 176.1L512.9 176.7" stroke="#262626" stroke-width="1.05" stroke-linecap="round" fill="none"/><path d="M525.4 180.1L518.3 176.5" stroke="#262626" stroke-width="1.05" stroke-linecap="round" fill="none"/><path d="M523.3 185.1Q514.0 185.1 510.7 176.8" stroke="#262626" stroke-width="1.05" stroke-linecap="round" fill="none"/><path d="M515.2 183.2L514.8 176.8" stroke="#262626" stroke-width="1.05" stroke-linecap="round" fill="none"/><path d="M521.0 188.8L514.8 182.4" stroke="#262626" stroke-width="1.05" stroke-linecap="round" fill="none"/><path d="M519.5 190.7Q510.9 188.1 508.8 179.4" stroke="#262626" stroke-width="1.05" stroke-linecap="round" fill="none"/><path d="M512.7 187.4L512.0 180.7" stroke="#262626" stroke-width="1.05" stroke-linecap="round" fill="none"/><path d="M517.7 192.6L512.6 185.3" stroke="#262626" stroke-width="1.05" stroke-linecap="round" fill="none"/><path d="M516.3 193.9Q513.1 188.0 509.4 182.4" stroke="#262626" stroke-width="1.05" stroke-linecap="round" fill="none"/><path d="M512.0 186.5L506.6 184.6" stroke="#262626" stroke-width="1.05" stroke-linecap="round" fill="none"/><path d="M514.1 195.7L510.1 187.5" stroke="#262626" stroke-width="1.05" stroke-linecap="round" fill="none"/><path d="M510.7 197.7Q504.5 193.0 505.5 185.6" stroke="#262626" stroke-width="1.05" stroke-linecap="round" fill="none"/><path d="M505.6 190.4L508.0 185.6" stroke="#262626" stroke-width="1.05" stroke-linecap="round" fill="none"/><path d="M507.7 199.0L506.0 191.8" stroke="#262626" stroke-width="1.05" stroke-linecap="round" fill="none"/><path d="M507.1 199.2Q506.6 189.6 503.4 181.0" stroke="#262626" stroke-width="1.05" stroke-linecap="round" fill="none"/><path d="M505.5 187.9L507.2 182.7" stroke="#262626" stroke-width="1.05" stroke-linecap="round" fill="none"/><path d="M504.9 199.8L503.7 191.8" stroke="#262626" stroke-width="1.05" stroke-linecap="round" fill="none"/><path d="M503.8 200.0Q505.4 191.4 502.4 183.9" stroke="#262626" stroke-width="1.05" stroke-linecap="round" fill="none"/><path d="M504.1 190.4L500.6 187.0" stroke="#262626" stroke-width="1.05" stroke-linecap="round" fill="none"/><path d="M501.1 200.3L500.9 193.6" stroke="#262626" stroke-width="1.05" stroke-linecap="round" fill="none"/><path d="M498.0 200.2Q493.4 194.2 497.4 190.1" stroke="#262626" stroke-width="1.05" stroke-linecap="round" fill="none"/><path d="M495.4 194.4L491.8 188.9" stroke="#262626" stroke-width="1.05" stroke-linecap="round" fill="none"/><path d="M494.5 199.7L496.0 190.7" stroke="#262626" stroke-width="1.05" stroke-linecap="round" fill="none"/><path d="M493.0 199.2Q489.4 192.4 493.9 189.3" stroke="#262626" stroke-width="1.05" stroke-linecap="round" fill="none"/><path d="M491.7 192.0L489.5 185.0" stroke="#262626" stroke-width="1.05" stroke-linecap="round" fill="none"/><path d="M489.4 197.8L491.8 190.9" stroke="#262626" stroke-width="1.05" stroke-linecap="round" fill="none"/><path d="M486.5 196.1Q490.8 191.4 492.3 184.8" stroke="#262626" stroke-width="1.05" stroke-linecap="round" fill="none"/><path d="M490.5 190.2L494.8 188.7" stroke="#262626" stroke-width="1.05" stroke-linecap="round" fill="none"/><path d="M483.8 194.1L488.2 186.8" stroke="#262626" stroke-width="1.05" stroke-linecap="round" fill="none"/><path d="M483.6 193.9Q485.1 183.5 491.8 179.0" stroke="#262626" stroke-width="1.05" stroke-linecap="round" fill="none"/><path d="M487.0 183.8L488.4 177.6" stroke="#262626" stroke-width="1.05" stroke-linecap="round" fill="none"/><path d="M481.8 192.1L486.6 185.6" stroke="#262626" stroke-width="1.05" stroke-linecap="round" fill="none"/><path d="M478.4 187.8Q480.2 180.9 485.4 179.9" stroke="#262626" stroke-width="1.05" stroke-linecap="round" fill="none"/><path d="M480.8 182.4L486.5 182.8" stroke="#262626" stroke-width="1.05" stroke-linecap="round" fill="none"/><path d="M476.4 184.5L482.5 180.0" stroke="#262626" stroke-width="1.05" stroke-linecap="round" fill="none"/><path d="M476.2 184.0Q477.8 173.6 483.7 176.5" stroke="#262626" stroke-width="1.05" stroke-linecap="round" fill="none"/><path d="M474.7 180.4L481.8 176.7" stroke="#262626" stroke-width="1.05" stroke-linecap="round" fill="none"/><path d="M474.1 178.7Q481.5 182.4 484.3 175.8" stroke="#262626" stroke-width="1.05" stroke-linecap="round" fill="none"/><path d="M480.1 180.3L480.8 173.3" stroke="#262626" stroke-width="1.05" stroke-linecap="round" fill="none"/><path d="M473.2 175.4L478.9 173.7" stroke="#262626" stroke-width="1.05" stroke-linecap="round" fill="none"/><path d="M472.7 172.6Q481.0 177.9 486.1 171.4" stroke="#262626" stroke-width="1.05" stroke-linecap="round" fill="none"/><path d="M472.4 168.3L478.8 168.1" stroke="#262626" stroke-width="1.05" stroke-linecap="round" fill="none"/><path d="M472.4 167.9Q477.3 162.6 481.6 166.4" stroke="#262626" stroke-width="1.05" stroke-linecap="round" fill="none"/><path d="M472.5 164.5L479.8 165.2" stroke="#262626" stroke-width="1.05" stroke-linecap="round" fill="none"/><path d="M472.7 162.1Q478.9 165.9 485.5 165.0" stroke="#262626" stroke-width="1.05" stroke-linecap="round" fill="none"/><path d="M480.6 165.1L484.2 161.6" stroke="#262626" stroke-width="1.05" stroke-linecap="round" fill="none"/><path d="M473.5 157.8L481.0 160.5" stroke="#262626" stroke-width="1.05" stroke-linecap="round" fill="none"/><path d="M474.6 154.2Q481.8 157.3 488.7 161.3" stroke="#262626" stroke-width="1.05" stroke-linecap="round" fill="none"/><path d="M481.3 157.3L485.9 154.6" stroke="#262626" stroke-width="1.05" stroke-linecap="round" fill="none"/><path d="M475.1 152.8L481.2 156.3" stroke="#262626" stroke-width="1.05" stroke-linecap="round" fill="none"/><path d="M477.0 148.8Q481.4 151.1 484.9 154.8" stroke="#262626" stroke-width="1.05" stroke-linecap="round" fill="none"/><path d="M480.9 151.2L486.3 151.2" stroke="#262626" stroke-width="1.05" stroke-linecap="round" fill="none"/><path d="M477.9 147.4L484.1 153.0" stroke="#262626" stroke-width="1.05" stroke-linecap="round" fill="none"/><path d="M480.3 144.0Q483.1 153.1 489.8 156.4" stroke="#262626" stroke-width="1.05" stroke-linecap="round" fill="none"/><path d="M485.2 153.0L490.2 154.4" stroke="#262626" stroke-width="1.05" stroke-linecap="round" fill="none"/><path d="M482.3 141.7L486.5 147.8" stroke="#262626" stroke-width="1.05" stroke-linecap="round" fill="none"/><path d="M483.1 141.0Q486.5 144.2 488.4 148.8" stroke="#262626" stroke-width="1.05" stroke-linecap="round" fill="none"/><path d="M486.2 138.5L489.3 145.1" stroke="#262626" stroke-width="1.05" stroke-linecap="round" fill="none"/><path d="M489.5 136.6Q490.2 144.0 493.7 150.0" stroke="#262626" stroke-width="1.05" stroke-linecap="round" fill="none"/><path d="M492.0 135.5L494.1 143.9" stroke="#262626" stroke-width="1.05" stroke-linecap="round" fill="none"/><path d="M493.2 135.1Q490.1 144.1 495.1 149.4" stroke="#262626" stroke-width="1.05" stroke-linecap="round" fill="none"/><path d="M495.7 134.5L496.5 141.1" stroke="#262626" stroke-width="1.05" stroke-linecap="round" fill="none"/><path d="M497.6 134.2Q495.0 139.7 497.6 144.3" stroke="#262626" stroke-width="1.05" stroke-linecap="round" fill="none"/><path d="M496.3 140.2L492.7 146.4" stroke="#262626" stroke-width="1.05" stroke-linecap="round" fill="none"/><path d="M499.1 134.1L499.3 142.6" stroke="#262626" stroke-width="1.05" stroke-linecap="round" fill="none"/></g>
<line x1="500.0" y1="132.5" x2="500.0" y2="195.6" stroke="#9a9a9a" stroke-width="3.2"/><line x1="500.0" y1="132.5" x2="500.0" y2="195.6" stroke="#1e1e1e" stroke-width="1.3"/>
<rect x="472.7" y="131.5" width="54.6" height="65.1" filter="url(#gyA)" opacity="0.15" style="mix-blend-mode:multiply"/>
</g>
<g filter="url(#bl05)"><path d="M488.2 141.1C488.7 140.2 490.1 139.3 491.3 138.6C492.4 137.9 494.4 137.7 495.3 137.0C496.2 136.4 496.2 134.9 496.8 134.4C497.5 134.0 498.5 134.3 499.5 134.4C500.4 134.6 501.5 135.3 502.5 135.5C503.5 135.8 504.6 135.5 505.6 136.0C506.6 136.4 507.9 137.3 508.6 138.0C509.4 138.7 509.7 139.6 510.2 140.1C510.7 140.6 511.3 140.5 511.7 141.1C512.0 141.7 512.5 143.1 512.2 143.6C512.0 144.1 510.9 144.2 510.2 144.2C509.4 144.1 508.4 142.8 507.6 143.2C506.9 143.5 506.4 145.5 505.6 146.2C504.7 147.0 503.4 147.2 502.5 147.8C501.7 148.3 500.6 148.6 500.4 149.3C500.3 150.0 501.1 151.0 501.4 151.8C501.8 152.7 502.0 153.7 502.5 154.4C503.0 155.2 504.1 155.5 504.6 156.4C505.1 157.3 505.8 158.9 505.6 159.5C505.4 160.2 504.3 160.5 503.5 160.5C502.7 160.5 501.8 159.9 501.0 159.5C500.1 159.2 499.1 159.0 498.4 158.5C497.7 157.9 497.3 157.3 496.8 156.4C496.4 155.5 496.2 153.9 495.9 152.9C495.5 151.9 495.3 151.2 494.9 150.3C494.4 149.3 494.1 148.1 493.3 147.2C492.6 146.4 491.0 145.7 490.2 145.1C489.3 144.6 488.5 144.8 488.2 144.2C487.9 143.5 487.7 142.0 488.2 141.1Z" fill="rgba(48,148,140,0.75)"/><path d="M480.3 151.0C480.8 149.9 482.5 148.7 483.3 148.4C484.2 148.2 484.9 148.8 485.3 149.4C485.7 150.1 486.0 151.6 485.9 152.5C485.7 153.4 484.8 154.2 484.3 155.1C483.8 156.1 483.4 157.7 482.8 158.2C482.2 158.6 481.2 158.2 480.7 157.6C480.3 157.0 480.4 155.7 480.3 154.6C480.2 153.5 479.8 152.0 480.3 151.0Z" fill="rgba(48,148,140,0.75)"/><path d="M515.4 149.4C515.8 148.8 517.3 148.7 517.9 148.9C518.5 149.2 518.9 149.9 519.0 150.9C519.1 151.9 518.7 154.0 518.4 155.1C518.2 156.1 517.9 156.9 517.5 157.0C517.0 157.2 516.3 156.8 515.9 156.0C515.6 155.3 515.5 153.6 515.4 152.4C515.3 151.3 515.0 150.0 515.4 149.4Z" fill="rgba(48,148,140,0.75)"/><ellipse cx="490.5" cy="141.8" rx="3.0" ry="2.8" fill="rgba(92,212,100,0.85)" transform="rotate(0 490.5 141.8)"/><ellipse cx="490.2" cy="142.2" rx="2.0" ry="1.9" fill="#58e858" transform="rotate(0 490.2 142.2)"/><ellipse cx="498.7" cy="136.8" rx="2.4" ry="2.2" fill="rgba(92,212,100,0.85)" transform="rotate(0 498.7 136.8)"/><ellipse cx="498.7" cy="136.5" rx="1.4" ry="1.4" fill="#58e858" transform="rotate(0 498.7 136.5)"/><ellipse cx="498.1" cy="145.6" rx="2.2" ry="1.6" fill="rgba(92,212,100,0.85)" transform="rotate(0 498.1 145.6)"/><ellipse cx="501" cy="154.1" rx="1.8" ry="2.4" fill="rgba(92,212,100,0.85)" transform="rotate(0 501 154.1)"/><ellipse cx="504" cy="158.5" rx="1.5" ry="1.8" fill="rgba(92,212,100,0.85)" transform="rotate(0 504 158.5)"/><ellipse cx="482.5" cy="153" rx="1.5" ry="2.5" fill="rgba(92,212,100,0.85)" transform="rotate(0 482.5 153)"/><ellipse cx="517.2" cy="152" rx="1.2" ry="2" fill="rgba(92,212,100,0.85)" transform="rotate(0 517.2 152)"/><ellipse cx="487.3" cy="165.2" rx="0.9" ry="0.9" fill="rgba(48,148,140,0.75)" transform="rotate(0 487.3 165.2)"/><ellipse cx="518.3" cy="169.5" rx="0.8" ry="0.8" fill="rgba(48,148,140,0.75)" transform="rotate(0 518.3 169.5)"/></g>
<clipPath id="bc6"><path d="M567.8499999999999 137.4 C589.4719999999999 137.4 596.3 150.666 596.3 168.756 C596.3 185.64 591.7479999999999 197.7 584.9199999999998 197.7 C579.2299999999999 197.7 576.954 186.846 573.54 184.434 L562.1599999999999 184.434 C558.7459999999999 186.846 556.4699999999999 197.7 550.78 197.7 C543.9519999999999 197.7 539.4 185.64 539.4 168.756 C539.4 150.666 546.228 137.4 567.8499999999999 137.4Z"/></clipPath>
<path d="M567.8499999999999 137.4 C589.4719999999999 137.4 596.3 150.666 596.3 168.756 C596.3 185.64 591.7479999999999 197.7 584.9199999999998 197.7 C579.2299999999999 197.7 576.954 186.846 573.54 184.434 L562.1599999999999 184.434 C558.7459999999999 186.846 556.4699999999999 197.7 550.78 197.7 C543.9519999999999 197.7 539.4 185.64 539.4 168.756 C539.4 150.666 546.228 137.4 567.8499999999999 137.4Z" fill="#e8e8e8"/>
<g clip-path="url(#bc6)">
<g filter="url(#bl03)"><path d="M567.8499999999999 137.4 C589.4719999999999 137.4 596.3 150.666 596.3 168.756 C596.3 185.64 591.7479999999999 197.7 584.9199999999998 197.7 C579.2299999999999 197.7 576.954 186.846 573.54 184.434 L562.1599999999999 184.434 C558.7459999999999 186.846 556.4699999999999 197.7 550.78 197.7 C543.9519999999999 197.7 539.4 185.64 539.4 168.756 C539.4 150.666 546.228 137.4 567.8499999999999 137.4Z" fill="none" stroke="#9a9a9a" stroke-width="5.0"/><path d="M571.2 137.3Q565.6 145.4 568.6 153.4" stroke="#a0a0a0" stroke-width="3.7" stroke-linecap="round" fill="none"/><path d="M573.3 137.6L572.0 145.3" stroke="#a0a0a0" stroke-width="3.7" stroke-linecap="round" fill="none"/><path d="M580.6 140.1Q577.5 148.8 573.3 156.8" stroke="#a0a0a0" stroke-width="3.7" stroke-linecap="round" fill="none"/><path d="M582.5 141.2L578.7 148.3" stroke="#a0a0a0" stroke-width="3.7" stroke-linecap="round" fill="none"/><path d="M585.8 143.4Q583.6 151.8 577.4 156.4" stroke="#a0a0a0" stroke-width="3.7" stroke-linecap="round" fill="none"/><path d="M581.8 152.1L576.5 154.3" stroke="#a0a0a0" stroke-width="3.7" stroke-linecap="round" fill="none"/><path d="M589.6 147.0L583.3 153.3" stroke="#a0a0a0" stroke-width="3.7" stroke-linecap="round" fill="none"/><path d="M590.9 148.6Q589.0 157.7 582.0 158.1" stroke="#a0a0a0" stroke-width="3.7" stroke-linecap="round" fill="none"/><path d="M592.6 151.0L585.8 155.8" stroke="#a0a0a0" stroke-width="3.7" stroke-linecap="round" fill="none"/><path d="M595.0 155.7Q591.0 162.2 584.6 161.7" stroke="#a0a0a0" stroke-width="3.7" stroke-linecap="round" fill="none"/><path d="M596.2 158.9L588.8 161.5" stroke="#a0a0a0" stroke-width="3.7" stroke-linecap="round" fill="none"/><path d="M596.1 158.5Q586.7 154.3 583.2 161.5" stroke="#a0a0a0" stroke-width="3.7" stroke-linecap="round" fill="none"/><path d="M588.6 156.5L587.0 161.5" stroke="#a0a0a0" stroke-width="3.7" stroke-linecap="round" fill="none"/><path d="M597.2 162.9L590.9 164.2" stroke="#a0a0a0" stroke-width="3.7" stroke-linecap="round" fill="none"/><path d="M597.6 171.6Q588.1 174.2 579.7 170.5" stroke="#a0a0a0" stroke-width="3.7" stroke-linecap="round" fill="none"/><path d="M588.7 172.9L585.0 175.1" stroke="#a0a0a0" stroke-width="3.7" stroke-linecap="round" fill="none"/><path d="M597.0 175.5L588.5 173.5" stroke="#a0a0a0" stroke-width="3.7" stroke-linecap="round" fill="none"/><path d="M597.3 173.8Q588.5 178.4 582.8 172.6" stroke="#a0a0a0" stroke-width="3.7" stroke-linecap="round" fill="none"/><path d="M588.4 175.8L586.2 170.6" stroke="#a0a0a0" stroke-width="3.7" stroke-linecap="round" fill="none"/><path d="M596.1 178.9L589.7 176.6" stroke="#a0a0a0" stroke-width="3.7" stroke-linecap="round" fill="none"/><path d="M595.4 180.9Q587.0 179.9 580.4 174.8" stroke="#a0a0a0" stroke-width="3.7" stroke-linecap="round" fill="none"/><path d="M593.5 185.0L587.7 181.4" stroke="#a0a0a0" stroke-width="3.7" stroke-linecap="round" fill="none"/><path d="M589.9 190.1Q579.9 187.0 576.3 178.1" stroke="#a0a0a0" stroke-width="3.7" stroke-linecap="round" fill="none"/><path d="M581.7 186.2L582.5 180.8" stroke="#a0a0a0" stroke-width="3.7" stroke-linecap="round" fill="none"/><path d="M587.6 192.5L583.1 187.0" stroke="#a0a0a0" stroke-width="3.7" stroke-linecap="round" fill="none"/><path d="M584.4 195.1Q585.3 185.5 578.4 183.2" stroke="#a0a0a0" stroke-width="3.7" stroke-linecap="round" fill="none"/><path d="M583.9 187.5L578.2 187.0" stroke="#a0a0a0" stroke-width="3.7" stroke-linecap="round" fill="none"/><path d="M580.0 197.7L577.0 190.7" stroke="#a0a0a0" stroke-width="3.7" stroke-linecap="round" fill="none"/><path d="M581.0 197.2Q580.4 190.0 576.0 185.1" stroke="#a0a0a0" stroke-width="3.7" stroke-linecap="round" fill="none"/><path d="M578.8 189.1L573.7 186.2" stroke="#a0a0a0" stroke-width="3.7" stroke-linecap="round" fill="none"/><path d="M578.2 198.4L575.4 190.5" stroke="#a0a0a0" stroke-width="3.7" stroke-linecap="round" fill="none"/><path d="M571.4 200.2Q571.8 190.7 569.6 181.7" stroke="#a0a0a0" stroke-width="3.7" stroke-linecap="round" fill="none"/><path d="M571.1 189.9L566.8 186.5" stroke="#a0a0a0" stroke-width="3.7" stroke-linecap="round" fill="none"/><path d="M567.0 200.4L567.2 192.3" stroke="#a0a0a0" stroke-width="3.7" stroke-linecap="round" fill="none"/><path d="M565.8 200.3Q567.6 194.4 566.9 188.4" stroke="#a0a0a0" stroke-width="3.7" stroke-linecap="round" fill="none"/><path d="M567.0 194.7L563.7 190.6" stroke="#a0a0a0" stroke-width="3.7" stroke-linecap="round" fill="none"/><path d="M561.7 199.7L563.0 193.2" stroke="#a0a0a0" stroke-width="3.7" stroke-linecap="round" fill="none"/><path d="M559.8 199.3Q557.2 191.7 561.9 187.2" stroke="#a0a0a0" stroke-width="3.7" stroke-linecap="round" fill="none"/><path d="M559.5 190.8L564.5 189.2" stroke="#a0a0a0" stroke-width="3.7" stroke-linecap="round" fill="none"/><path d="M557.7 198.5L560.5 190.3" stroke="#a0a0a0" stroke-width="3.7" stroke-linecap="round" fill="none"/><path d="M551.4 195.2Q550.4 184.6 557.9 182.2" stroke="#a0a0a0" stroke-width="3.7" stroke-linecap="round" fill="none"/><path d="M553.3 185.2L553.4 180.5" stroke="#a0a0a0" stroke-width="3.7" stroke-linecap="round" fill="none"/><path d="M548.4 192.8L552.9 187.3" stroke="#a0a0a0" stroke-width="3.7" stroke-linecap="round" fill="none"/><path d="M547.2 191.7Q550.5 183.8 557.1 179.9" stroke="#a0a0a0" stroke-width="3.7" stroke-linecap="round" fill="none"/><path d="M545.0 189.1L549.8 184.8" stroke="#a0a0a0" stroke-width="3.7" stroke-linecap="round" fill="none"/><path d="M542.3 185.2Q546.2 178.0 553.1 177.3" stroke="#a0a0a0" stroke-width="3.7" stroke-linecap="round" fill="none"/><path d="M540.7 181.9L548.4 178.1" stroke="#a0a0a0" stroke-width="3.7" stroke-linecap="round" fill="none"/><path d="M539.6 179.0Q548.2 180.8 553.4 175.0" stroke="#a0a0a0" stroke-width="3.7" stroke-linecap="round" fill="none"/><path d="M538.9 176.6L545.3 174.9" stroke="#a0a0a0" stroke-width="3.7" stroke-linecap="round" fill="none"/><path d="M538.0 170.5Q547.5 174.2 555.9 170.2" stroke="#a0a0a0" stroke-width="3.7" stroke-linecap="round" fill="none"/><path d="M547.7 172.4L551.5 169.0" stroke="#a0a0a0" stroke-width="3.7" stroke-linecap="round" fill="none"/><path d="M538.1 166.3L546.1 167.0" stroke="#a0a0a0" stroke-width="3.7" stroke-linecap="round" fill="none"/><path d="M538.3 163.8Q545.2 163.7 551.7 165.8" stroke="#a0a0a0" stroke-width="3.7" stroke-linecap="round" fill="none"/><path d="M546.0 164.4L551.0 161.4" stroke="#a0a0a0" stroke-width="3.7" stroke-linecap="round" fill="none"/><path d="M539.5 158.8L547.7 161.7" stroke="#a0a0a0" stroke-width="3.7" stroke-linecap="round" fill="none"/><path d="M541.8 153.3Q546.8 159.6 553.9 161.2" stroke="#a0a0a0" stroke-width="3.7" stroke-linecap="round" fill="none"/><path d="M544.1 149.5L550.9 155.0" stroke="#a0a0a0" stroke-width="3.7" stroke-linecap="round" fill="none"/><path d="M546.3 146.9Q551.5 152.4 557.0 157.8" stroke="#a0a0a0" stroke-width="3.7" stroke-linecap="round" fill="none"/><path d="M547.9 145.2L552.6 150.8" stroke="#a0a0a0" stroke-width="3.7" stroke-linecap="round" fill="none"/><path d="M550.3 143.2Q550.9 150.9 556.6 153.9" stroke="#a0a0a0" stroke-width="3.7" stroke-linecap="round" fill="none"/><path d="M553.9 140.7L557.2 147.3" stroke="#a0a0a0" stroke-width="3.7" stroke-linecap="round" fill="none"/><path d="M559.3 138.4Q563.0 147.1 564.6 156.3" stroke="#a0a0a0" stroke-width="3.7" stroke-linecap="round" fill="none"/><path d="M563.4 137.5L564.5 145.5" stroke="#a0a0a0" stroke-width="3.7" stroke-linecap="round" fill="none"/><path d="M561.8 137.8Q564.9 146.1 565.4 155.0" stroke="#a0a0a0" stroke-width="3.7" stroke-linecap="round" fill="none"/><path d="M564.6 148.3L568.6 152.3" stroke="#a0a0a0" stroke-width="3.7" stroke-linecap="round" fill="none"/><path d="M565.3 137.2L565.9 144.4" stroke="#a0a0a0" stroke-width="3.7" stroke-linecap="round" fill="none"/><path d="M571.2 137.3Q565.6 145.4 568.6 153.4" stroke="#262626" stroke-width="1.05" stroke-linecap="round" fill="none"/><path d="M573.3 137.6L572.0 145.3" stroke="#262626" stroke-width="1.05" stroke-linecap="round" fill="none"/><path d="M580.6 140.1Q577.5 148.8 573.3 156.8" stroke="#262626" stroke-width="1.05" stroke-linecap="round" fill="none"/><path d="M582.5 141.2L578.7 148.3" stroke="#262626" stroke-width="1.05" stroke-linecap="round" fill="none"/><path d="M585.8 143.4Q583.6 151.8 577.4 156.4" stroke="#262626" stroke-width="1.05" stroke-linecap="round" fill="none"/><path d="M581.8 152.1L576.5 154.3" stroke="#262626" stroke-width="1.05" stroke-linecap="round" fill="none"/><path d="M589.6 147.0L583.3 153.3" stroke="#262626" stroke-width="1.05" stroke-linecap="round" fill="none"/><path d="M590.9 148.6Q589.0 157.7 582.0 158.1" stroke="#262626" stroke-width="1.05" stroke-linecap="round" fill="none"/><path d="M592.6 151.0L585.8 155.8" stroke="#262626" stroke-width="1.05" stroke-linecap="round" fill="none"/><path d="M595.0 155.7Q591.0 162.2 584.6 161.7" stroke="#262626" stroke-width="1.05" stroke-linecap="round" fill="none"/><path d="M596.2 158.9L588.8 161.5" stroke="#262626" stroke-width="1.05" stroke-linecap="round" fill="none"/><path d="M596.1 158.5Q586.7 154.3 583.2 161.5" stroke="#262626" stroke-width="1.05" stroke-linecap="round" fill="none"/><path d="M588.6 156.5L587.0 161.5" stroke="#262626" stroke-width="1.05" stroke-linecap="round" fill="none"/><path d="M597.2 162.9L590.9 164.2" stroke="#262626" stroke-width="1.05" stroke-linecap="round" fill="none"/><path d="M597.6 171.6Q588.1 174.2 579.7 170.5" stroke="#262626" stroke-width="1.05" stroke-linecap="round" fill="none"/><path d="M588.7 172.9L585.0 175.1" stroke="#262626" stroke-width="1.05" stroke-linecap="round" fill="none"/><path d="M597.0 175.5L588.5 173.5" stroke="#262626" stroke-width="1.05" stroke-linecap="round" fill="none"/><path d="M597.3 173.8Q588.5 178.4 582.8 172.6" stroke="#262626" stroke-width="1.05" stroke-linecap="round" fill="none"/><path d="M588.4 175.8L586.2 170.6" stroke="#262626" stroke-width="1.05" stroke-linecap="round" fill="none"/><path d="M596.1 178.9L589.7 176.6" stroke="#262626" stroke-width="1.05" stroke-linecap="round" fill="none"/><path d="M595.4 180.9Q587.0 179.9 580.4 174.8" stroke="#262626" stroke-width="1.05" stroke-linecap="round" fill="none"/><path d="M593.5 185.0L587.7 181.4" stroke="#262626" stroke-width="1.05" stroke-linecap="round" fill="none"/><path d="M589.9 190.1Q579.9 187.0 576.3 178.1" stroke="#262626" stroke-width="1.05" stroke-linecap="round" fill="none"/><path d="M581.7 186.2L582.5 180.8" stroke="#262626" stroke-width="1.05" stroke-linecap="round" fill="none"/><path d="M587.6 192.5L583.1 187.0" stroke="#262626" stroke-width="1.05" stroke-linecap="round" fill="none"/><path d="M584.4 195.1Q585.3 185.5 578.4 183.2" stroke="#262626" stroke-width="1.05" stroke-linecap="round" fill="none"/><path d="M583.9 187.5L578.2 187.0" stroke="#262626" stroke-width="1.05" stroke-linecap="round" fill="none"/><path d="M580.0 197.7L577.0 190.7" stroke="#262626" stroke-width="1.05" stroke-linecap="round" fill="none"/><path d="M581.0 197.2Q580.4 190.0 576.0 185.1" stroke="#262626" stroke-width="1.05" stroke-linecap="round" fill="none"/><path d="M578.8 189.1L573.7 186.2" stroke="#262626" stroke-width="1.05" stroke-linecap="round" fill="none"/><path d="M578.2 198.4L575.4 190.5" stroke="#262626" stroke-width="1.05" stroke-linecap="round" fill="none"/><path d="M571.4 200.2Q571.8 190.7 569.6 181.7" stroke="#262626" stroke-width="1.05" stroke-linecap="round" fill="none"/><path d="M571.1 189.9L566.8 186.5" stroke="#262626" stroke-width="1.05" stroke-linecap="round" fill="none"/><path d="M567.0 200.4L567.2 192.3" stroke="#262626" stroke-width="1.05" stroke-linecap="round" fill="none"/><path d="M565.8 200.3Q567.6 194.4 566.9 188.4" stroke="#262626" stroke-width="1.05" stroke-linecap="round" fill="none"/><path d="M567.0 194.7L563.7 190.6" stroke="#262626" stroke-width="1.05" stroke-linecap="round" fill="none"/><path d="M561.7 199.7L563.0 193.2" stroke="#262626" stroke-width="1.05" stroke-linecap="round" fill="none"/><path d="M559.8 199.3Q557.2 191.7 561.9 187.2" stroke="#262626" stroke-width="1.05" stroke-linecap="round" fill="none"/><path d="M559.5 190.8L564.5 189.2" stroke="#262626" stroke-width="1.05" stroke-linecap="round" fill="none"/><path d="M557.7 198.5L560.5 190.3" stroke="#262626" stroke-width="1.05" stroke-linecap="round" fill="none"/><path d="M551.4 195.2Q550.4 184.6 557.9 182.2" stroke="#262626" stroke-width="1.05" stroke-linecap="round" fill="none"/><path d="M553.3 185.2L553.4 180.5" stroke="#262626" stroke-width="1.05" stroke-linecap="round" fill="none"/><path d="M548.4 192.8L552.9 187.3" stroke="#262626" stroke-width="1.05" stroke-linecap="round" fill="none"/><path d="M547.2 191.7Q550.5 183.8 557.1 179.9" stroke="#262626" stroke-width="1.05" stroke-linecap="round" fill="none"/><path d="M545.0 189.1L549.8 184.8" stroke="#262626" stroke-width="1.05" stroke-linecap="round" fill="none"/><path d="M542.3 185.2Q546.2 178.0 553.1 177.3" stroke="#262626" stroke-width="1.05" stroke-linecap="round" fill="none"/><path d="M540.7 181.9L548.4 178.1" stroke="#262626" stroke-width="1.05" stroke-linecap="round" fill="none"/><path d="M539.6 179.0Q548.2 180.8 553.4 175.0" stroke="#262626" stroke-width="1.05" stroke-linecap="round" fill="none"/><path d="M538.9 176.6L545.3 174.9" stroke="#262626" stroke-width="1.05" stroke-linecap="round" fill="none"/><path d="M538.0 170.5Q547.5 174.2 555.9 170.2" stroke="#262626" stroke-width="1.05" stroke-linecap="round" fill="none"/><path d="M547.7 172.4L551.5 169.0" stroke="#262626" stroke-width="1.05" stroke-linecap="round" fill="none"/><path d="M538.1 166.3L546.1 167.0" stroke="#262626" stroke-width="1.05" stroke-linecap="round" fill="none"/><path d="M538.3 163.8Q545.2 163.7 551.7 165.8" stroke="#262626" stroke-width="1.05" stroke-linecap="round" fill="none"/><path d="M546.0 164.4L551.0 161.4" stroke="#262626" stroke-width="1.05" stroke-linecap="round" fill="none"/><path d="M539.5 158.8L547.7 161.7" stroke="#262626" stroke-width="1.05" stroke-linecap="round" fill="none"/><path d="M541.8 153.3Q546.8 159.6 553.9 161.2" stroke="#262626" stroke-width="1.05" stroke-linecap="round" fill="none"/><path d="M544.1 149.5L550.9 155.0" stroke="#262626" stroke-width="1.05" stroke-linecap="round" fill="none"/><path d="M546.3 146.9Q551.5 152.4 557.0 157.8" stroke="#262626" stroke-width="1.05" stroke-linecap="round" fill="none"/><path d="M547.9 145.2L552.6 150.8" stroke="#262626" stroke-width="1.05" stroke-linecap="round" fill="none"/><path d="M550.3 143.2Q550.9 150.9 556.6 153.9" stroke="#262626" stroke-width="1.05" stroke-linecap="round" fill="none"/><path d="M553.9 140.7L557.2 147.3" stroke="#262626" stroke-width="1.05" stroke-linecap="round" fill="none"/><path d="M559.3 138.4Q563.0 147.1 564.6 156.3" stroke="#262626" stroke-width="1.05" stroke-linecap="round" fill="none"/><path d="M563.4 137.5L564.5 145.5" stroke="#262626" stroke-width="1.05" stroke-linecap="round" fill="none"/><path d="M561.8 137.8Q564.9 146.1 565.4 155.0" stroke="#262626" stroke-width="1.05" stroke-linecap="round" fill="none"/><path d="M564.6 148.3L568.6 152.3" stroke="#262626" stroke-width="1.05" stroke-linecap="round" fill="none"/><path d="M565.3 137.2L565.9 144.4" stroke="#262626" stroke-width="1.05" stroke-linecap="round" fill="none"/></g>
<line x1="567.8499999999999" y1="137.4" x2="567.8499999999999" y2="155.49" stroke="#9a9a9a" stroke-width="3"/><line x1="567.8499999999999" y1="137.4" x2="567.8499999999999" y2="155.49" stroke="#222" stroke-width="1.2"/><g filter="url(#bl05)"><ellipse cx="567.8499999999999" cy="171.168" rx="11.379999999999995" ry="7.235999999999998" fill="#e4e4e4"/></g><path d="M560.5 162.1 L566.1 158.5 L567.8 160.9 L569.6 158.5 L575.2 162.1 L573.0 165.1 L567.8 163.3 L562.7 165.1Z" fill="#1e1e1e" filter="url(#bl03)"/><g filter="url(#bl05)"><ellipse cx="558.7459999999999" cy="173.57999999999998" rx="3.9829999999999988" ry="7.235999999999998" fill="#a8a8a8"/><ellipse cx="576.954" cy="173.57999999999998" rx="3.9829999999999988" ry="7.235999999999998" fill="#a8a8a8"/><path d="M562.7 184.4 L567.8 177.2 L573.0 184.4Z" fill="#8a8a8a"/><ellipse cx="550.78" cy="189.25799999999998" rx="5.689999999999998" ry="5.426999999999998" fill="#8a8a8a"/><ellipse cx="584.92" cy="189.25799999999998" rx="5.689999999999998" ry="5.426999999999998" fill="#8a8a8a"/></g>
<rect x="538.4" y="136.4" width="58.9" height="62.3" filter="url(#gyA)" opacity="0.15" style="mix-blend-mode:multiply"/>
</g>
<g filter="url(#bl05)"><path d="M565.2 137.6C565.7 136.9 567.1 136.9 567.8 137.6C568.5 138.3 568.9 140.5 569.5 141.8C570.0 143.0 571.0 143.7 571.2 145.1C571.3 146.5 570.9 149.3 570.3 150.2C569.7 151.2 568.6 151.2 567.8 151.1C566.9 150.9 565.8 150.3 565.2 149.3C564.7 148.4 564.4 146.4 564.4 145.1C564.4 143.9 565.1 143.0 565.2 141.8C565.4 140.5 564.8 138.3 565.2 137.6Z" fill="rgba(48,148,140,0.75)"/><ellipse cx="568.6" cy="147" rx="1.6" ry="2.2" fill="rgba(92,212,100,0.85)" transform="rotate(0 568.6 147)"/><path d="M547.5 146.7C547.9 145.9 549.1 145.3 550.0 145.4C550.8 145.5 552.2 146.2 552.6 147.2C553.0 148.2 552.8 150.4 552.2 151.2C551.7 152.1 550.3 152.6 549.5 152.4C548.8 152.3 547.9 151.3 547.6 150.3C547.2 149.4 547.1 147.6 547.5 146.7Z" fill="rgba(48,148,140,0.75)"/><ellipse cx="550" cy="149.5" rx="1.6" ry="1.5" fill="rgba(92,212,100,0.85)" transform="rotate(0 550 149.5)"/><path d="M579.9 142.5C580.5 141.7 583.2 141.2 584.1 141.7C585.1 142.3 585.1 144.5 585.8 145.9C586.4 147.3 587.3 148.7 588.3 150.1C589.3 151.5 590.8 153.1 591.7 154.3C592.6 155.6 593.1 156.5 593.4 157.6C593.7 158.8 593.8 160.5 593.4 161.1C593.0 161.6 591.7 161.6 590.8 161.1C589.9 160.5 589.0 158.9 588.3 157.6C587.6 156.4 587.5 154.9 586.7 153.5C585.8 152.1 584.2 150.4 583.2 149.3C582.2 148.2 581.3 147.9 580.7 146.8C580.2 145.6 579.3 143.4 579.9 142.5Z" fill="rgba(48,148,140,0.75)"/><path d="M590.5 177.9C591.2 176.8 593.8 176.5 594.7 177.0C595.6 177.6 595.9 179.4 595.9 181.3C595.9 183.1 595.3 186.0 594.7 188.0C594.1 190.0 593.0 192.2 592.2 193.0C591.3 193.9 590.4 193.8 589.7 193.0C589.0 192.3 587.8 190.4 588.0 188.8C588.1 187.3 590.0 185.6 590.5 183.8C590.9 182.0 589.8 179.1 590.5 177.9Z" fill="rgba(48,148,140,0.75)"/><ellipse cx="592.5" cy="186" rx="1.3" ry="3" fill="rgba(92,212,100,0.85)" transform="rotate(0 592.5 186)"/><ellipse cx="545.4" cy="190.6" rx="2.8" ry="3.2" fill="rgba(48,148,140,0.75)" transform="rotate(0 545.4 190.6)"/><ellipse cx="545.4" cy="190.6" rx="1.3" ry="1.5" fill="rgba(92,212,100,0.85)" transform="rotate(0 545.4 190.6)"/><path d="M555.8 170.9C556.4 169.8 557.9 170.2 558.3 170.9C558.8 171.6 558.6 173.9 558.3 175.1C558.0 176.4 557.2 178.1 556.6 178.5C556.0 178.9 555.0 178.9 554.9 177.7C554.8 176.4 555.2 172.0 555.8 170.9Z" fill="#e02010" stroke="#a81408" stroke-width="0.9"/><path d="M575.4 172.0C575.8 171.4 577.3 171.2 577.9 172.0C578.5 172.9 579.1 175.5 579.1 177.1C579.1 178.6 578.7 180.6 577.9 181.3C577.2 182.0 575.3 181.8 574.6 181.3C573.9 180.9 573.6 179.6 573.8 178.7C573.9 177.9 575.1 177.3 575.4 176.2C575.7 175.1 575.0 172.7 575.4 172.0Z" fill="#e02010" stroke="#a81408" stroke-width="0.9"/></g>
<clipPath id="bc7"><path d="M604.1 175.0 C602.5 151.2 621.7 135.3 643.1 135.3 C666.0 135.3 679.8 149.7 679.8 167.7 C679.8 178.6 677.5 185.8 672.1 187.2 C664.5 188.7 656.8 188.7 650.7 180.0 L632.4 177.1 C622.4 177.1 612.5 182.2 607.1 181.4 C604.8 180.0 604.1 178.6 604.1 175.0Z"/></clipPath>
<path d="M604.1 175.0 C602.5 151.2 621.7 135.3 643.1 135.3 C666.0 135.3 679.8 149.7 679.8 167.7 C679.8 178.6 677.5 185.8 672.1 187.2 C664.5 188.7 656.8 188.7 650.7 180.0 L632.4 177.1 C622.4 177.1 612.5 182.2 607.1 181.4 C604.8 180.0 604.1 178.6 604.1 175.0Z" fill="#e8e8e8"/>
<g clip-path="url(#bc7)">
<g filter="url(#bl03)"><path d="M604.1 175.0 C602.5 151.2 621.7 135.3 643.1 135.3 C666.0 135.3 679.8 149.7 679.8 167.7 C679.8 178.6 677.5 185.8 672.1 187.2 C664.5 188.7 656.8 188.7 650.7 180.0 L632.4 177.1 C622.4 177.1 612.5 182.2 607.1 181.4 C604.8 180.0 604.1 178.6 604.1 175.0Z" fill="none" stroke="#9a9a9a" stroke-width="5.0"/><path d="M610.3 184.9Q616.1 179.9 623.5 176.8" stroke="#a0a0a0" stroke-width="3.7" stroke-linecap="round" fill="none"/><path d="M616.3 180.4L617.1 174.0" stroke="#a0a0a0" stroke-width="3.7" stroke-linecap="round" fill="none"/><path d="M608.1 182.0L617.4 177.7" stroke="#a0a0a0" stroke-width="3.7" stroke-linecap="round" fill="none"/><path d="M607.3 180.7Q609.9 170.4 617.8 174.0" stroke="#a0a0a0" stroke-width="3.7" stroke-linecap="round" fill="none"/><path d="M610.4 173.7L613.8 168.1" stroke="#a0a0a0" stroke-width="3.7" stroke-linecap="round" fill="none"/><path d="M605.4 177.1L614.9 174.2" stroke="#a0a0a0" stroke-width="3.7" stroke-linecap="round" fill="none"/><path d="M603.7 172.3Q613.2 176.7 618.6 171.2" stroke="#a0a0a0" stroke-width="3.7" stroke-linecap="round" fill="none"/><path d="M603.0 167.4L611.1 167.1" stroke="#a0a0a0" stroke-width="3.7" stroke-linecap="round" fill="none"/><path d="M602.9 166.1Q613.8 173.5 621.9 167.4" stroke="#a0a0a0" stroke-width="3.7" stroke-linecap="round" fill="none"/><path d="M612.2 170.6L617.8 165.4" stroke="#a0a0a0" stroke-width="3.7" stroke-linecap="round" fill="none"/><path d="M603.0 163.7L612.3 164.1" stroke="#a0a0a0" stroke-width="3.7" stroke-linecap="round" fill="none"/><path d="M603.4 160.4Q611.9 159.0 619.4 161.9" stroke="#a0a0a0" stroke-width="3.7" stroke-linecap="round" fill="none"/><path d="M612.6 160.2L616.5 166.4" stroke="#a0a0a0" stroke-width="3.7" stroke-linecap="round" fill="none"/><path d="M603.8 158.7L614.3 160.5" stroke="#a0a0a0" stroke-width="3.7" stroke-linecap="round" fill="none"/><path d="M605.8 153.3Q618.2 150.4 623.8 157.7" stroke="#a0a0a0" stroke-width="3.7" stroke-linecap="round" fill="none"/><path d="M617.7 153.2L625.1 151.0" stroke="#a0a0a0" stroke-width="3.7" stroke-linecap="round" fill="none"/><path d="M608.3 148.9L616.0 152.6" stroke="#a0a0a0" stroke-width="3.7" stroke-linecap="round" fill="none"/><path d="M608.9 148.1Q611.5 155.6 619.0 154.8" stroke="#a0a0a0" stroke-width="3.7" stroke-linecap="round" fill="none"/><path d="M611.7 153.4L618.6 151.3" stroke="#a0a0a0" stroke-width="3.7" stroke-linecap="round" fill="none"/><path d="M611.4 145.1L620.2 150.8" stroke="#a0a0a0" stroke-width="3.7" stroke-linecap="round" fill="none"/><path d="M612.3 144.2Q614.9 152.9 623.8 153.7" stroke="#a0a0a0" stroke-width="3.7" stroke-linecap="round" fill="none"/><path d="M615.9 141.0L621.9 146.5" stroke="#a0a0a0" stroke-width="3.7" stroke-linecap="round" fill="none"/><path d="M619.8 138.4Q623.7 144.7 629.4 150.0" stroke="#a0a0a0" stroke-width="3.7" stroke-linecap="round" fill="none"/><path d="M624.2 144.6L632.5 145.0" stroke="#a0a0a0" stroke-width="3.7" stroke-linecap="round" fill="none"/><path d="M622.3 137.1L627.7 144.4" stroke="#a0a0a0" stroke-width="3.7" stroke-linecap="round" fill="none"/><path d="M624.9 135.9Q627.8 140.8 630.8 145.6" stroke="#a0a0a0" stroke-width="3.7" stroke-linecap="round" fill="none"/><path d="M629.4 134.3L632.1 140.6" stroke="#a0a0a0" stroke-width="3.7" stroke-linecap="round" fill="none"/><path d="M633.0 133.3Q635.0 139.8 637.0 146.2" stroke="#a0a0a0" stroke-width="3.7" stroke-linecap="round" fill="none"/><path d="M635.0 140.0L640.7 143.8" stroke="#a0a0a0" stroke-width="3.7" stroke-linecap="round" fill="none"/><path d="M636.3 132.8L638.0 141.2" stroke="#a0a0a0" stroke-width="3.7" stroke-linecap="round" fill="none"/><path d="M643.5 132.3Q635.7 139.4 641.6 145.2" stroke="#a0a0a0" stroke-width="3.7" stroke-linecap="round" fill="none"/><path d="M648.8 132.6L647.6 139.6" stroke="#a0a0a0" stroke-width="3.7" stroke-linecap="round" fill="none"/><path d="M649.8 132.7Q645.5 140.1 646.1 148.0" stroke="#a0a0a0" stroke-width="3.7" stroke-linecap="round" fill="none"/><path d="M646.5 140.6L649.6 146.6" stroke="#a0a0a0" stroke-width="3.7" stroke-linecap="round" fill="none"/><path d="M654.7 133.7L652.3 140.3" stroke="#a0a0a0" stroke-width="3.7" stroke-linecap="round" fill="none"/><path d="M656.9 134.3Q658.8 143.0 652.0 148.2" stroke="#a0a0a0" stroke-width="3.7" stroke-linecap="round" fill="none"/><path d="M656.2 143.4L648.8 145.4" stroke="#a0a0a0" stroke-width="3.7" stroke-linecap="round" fill="none"/><path d="M658.8 134.9L654.5 143.4" stroke="#a0a0a0" stroke-width="3.7" stroke-linecap="round" fill="none"/><path d="M667.0 138.8Q664.4 145.2 658.3 149.4" stroke="#a0a0a0" stroke-width="3.7" stroke-linecap="round" fill="none"/><path d="M662.1 146.3L661.2 153.1" stroke="#a0a0a0" stroke-width="3.7" stroke-linecap="round" fill="none"/><path d="M670.7 141.4L664.9 146.5" stroke="#a0a0a0" stroke-width="3.7" stroke-linecap="round" fill="none"/><path d="M668.9 140.1Q668.5 147.4 661.4 149.2" stroke="#a0a0a0" stroke-width="3.7" stroke-linecap="round" fill="none"/><path d="M673.2 143.5L665.1 149.4" stroke="#a0a0a0" stroke-width="3.7" stroke-linecap="round" fill="none"/><path d="M676.8 147.5Q670.1 152.8 661.7 156.0" stroke="#a0a0a0" stroke-width="3.7" stroke-linecap="round" fill="none"/><path d="M678.2 149.4L669.0 153.7" stroke="#a0a0a0" stroke-width="3.7" stroke-linecap="round" fill="none"/><path d="M678.9 150.5Q668.0 150.0 662.4 156.4" stroke="#a0a0a0" stroke-width="3.7" stroke-linecap="round" fill="none"/><path d="M670.1 151.1L667.7 158.4" stroke="#a0a0a0" stroke-width="3.7" stroke-linecap="round" fill="none"/><path d="M681.0 154.5L672.4 157.0" stroke="#a0a0a0" stroke-width="3.7" stroke-linecap="round" fill="none"/><path d="M682.3 158.5Q673.6 155.2 668.0 159.9" stroke="#a0a0a0" stroke-width="3.7" stroke-linecap="round" fill="none"/><path d="M672.1 157.6L665.1 155.9" stroke="#a0a0a0" stroke-width="3.7" stroke-linecap="round" fill="none"/><path d="M683.1 163.0L674.6 163.6" stroke="#a0a0a0" stroke-width="3.7" stroke-linecap="round" fill="none"/><path d="M683.2 166.2Q673.9 164.9 664.6 165.6" stroke="#a0a0a0" stroke-width="3.7" stroke-linecap="round" fill="none"/><path d="M671.2 165.3L665.8 168.9" stroke="#a0a0a0" stroke-width="3.7" stroke-linecap="round" fill="none"/><path d="M683.1 168.4L674.1 167.8" stroke="#a0a0a0" stroke-width="3.7" stroke-linecap="round" fill="none"/><path d="M682.6 171.7Q674.1 170.4 665.6 169.1" stroke="#a0a0a0" stroke-width="3.7" stroke-linecap="round" fill="none"/><path d="M681.7 174.6L672.7 172.5" stroke="#a0a0a0" stroke-width="3.7" stroke-linecap="round" fill="none"/><path d="M680.6 177.5Q668.9 180.5 663.8 173.6" stroke="#a0a0a0" stroke-width="3.7" stroke-linecap="round" fill="none"/><path d="M678.8 180.8L668.6 176.4" stroke="#a0a0a0" stroke-width="3.7" stroke-linecap="round" fill="none"/><path d="M676.4 184.2Q666.8 183.1 662.0 177.1" stroke="#a0a0a0" stroke-width="3.7" stroke-linecap="round" fill="none"/><path d="M674.8 186.0L667.3 181.1" stroke="#a0a0a0" stroke-width="3.7" stroke-linecap="round" fill="none"/><path d="M671.9 188.8Q665.0 185.4 660.5 180.1" stroke="#a0a0a0" stroke-width="3.7" stroke-linecap="round" fill="none"/><path d="M669.5 190.6L663.2 184.7" stroke="#a0a0a0" stroke-width="3.7" stroke-linecap="round" fill="none"/><path d="M610.3 184.9Q616.1 179.9 623.5 176.8" stroke="#262626" stroke-width="1.05" stroke-linecap="round" fill="none"/><path d="M616.3 180.4L617.1 174.0" stroke="#262626" stroke-width="1.05" stroke-linecap="round" fill="none"/><path d="M608.1 182.0L617.4 177.7" stroke="#262626" stroke-width="1.05" stroke-linecap="round" fill="none"/><path d="M607.3 180.7Q609.9 170.4 617.8 174.0" stroke="#262626" stroke-width="1.05" stroke-linecap="round" fill="none"/><path d="M610.4 173.7L613.8 168.1" stroke="#262626" stroke-width="1.05" stroke-linecap="round" fill="none"/><path d="M605.4 177.1L614.9 174.2" stroke="#262626" stroke-width="1.05" stroke-linecap="round" fill="none"/><path d="M603.7 172.3Q613.2 176.7 618.6 171.2" stroke="#262626" stroke-width="1.05" stroke-linecap="round" fill="none"/><path d="M603.0 167.4L611.1 167.1" stroke="#262626" stroke-width="1.05" stroke-linecap="round" fill="none"/><path d="M602.9 166.1Q613.8 173.5 621.9 167.4" stroke="#262626" stroke-width="1.05" stroke-linecap="round" fill="none"/><path d="M612.2 170.6L617.8 165.4" stroke="#262626" stroke-width="1.05" stroke-linecap="round" fill="none"/><path d="M603.0 163.7L612.3 164.1" stroke="#262626" stroke-width="1.05" stroke-linecap="round" fill="none"/><path d="M603.4 160.4Q611.9 159.0 619.4 161.9" stroke="#262626" stroke-width="1.05" stroke-linecap="round" fill="none"/><path d="M612.6 160.2L616.5 166.4" stroke="#262626" stroke-width="1.05" stroke-linecap="round" fill="none"/><path d="M603.8 158.7L614.3 160.5" stroke="#262626" stroke-width="1.05" stroke-linecap="round" fill="none"/><path d="M605.8 153.3Q618.2 150.4 623.8 157.7" stroke="#262626" stroke-width="1.05" stroke-linecap="round" fill="none"/><path d="M617.7 153.2L625.1 151.0" stroke="#262626" stroke-width="1.05" stroke-linecap="round" fill="none"/><path d="M608.3 148.9L616.0 152.6" stroke="#262626" stroke-width="1.05" stroke-linecap="round" fill="none"/><path d="M608.9 148.1Q611.5 155.6 619.0 154.8" stroke="#262626" stroke-width="1.05" stroke-linecap="round" fill="none"/><path d="M611.7 153.4L618.6 151.3" stroke="#262626" stroke-width="1.05" stroke-linecap="round" fill="none"/><path d="M611.4 145.1L620.2 150.8" stroke="#262626" stroke-width="1.05" stroke-linecap="round" fill="none"/><path d="M612.3 144.2Q614.9 152.9 623.8 153.7" stroke="#262626" stroke-width="1.05" stroke-linecap="round" fill="none"/><path d="M615.9 141.0L621.9 146.5" stroke="#262626" stroke-width="1.05" stroke-linecap="round" fill="none"/><path d="M619.8 138.4Q623.7 144.7 629.4 150.0" stroke="#262626" stroke-width="1.05" stroke-linecap="round" fill="none"/><path d="M624.2 144.6L632.5 145.0" stroke="#262626" stroke-width="1.05" stroke-linecap="round" fill="none"/><path d="M622.3 137.1L627.7 144.4" stroke="#262626" stroke-width="1.05" stroke-linecap="round" fill="none"/><path d="M624.9 135.9Q627.8 140.8 630.8 145.6" stroke="#262626" stroke-width="1.05" stroke-linecap="round" fill="none"/><path d="M629.4 134.3L632.1 140.6" stroke="#262626" stroke-width="1.05" stroke-linecap="round" fill="none"/><path d="M633.0 133.3Q635.0 139.8 637.0 146.2" stroke="#262626" stroke-width="1.05" stroke-linecap="round" fill="none"/><path d="M635.0 140.0L640.7 143.8" stroke="#262626" stroke-width="1.05" stroke-linecap="round" fill="none"/><path d="M636.3 132.8L638.0 141.2" stroke="#262626" stroke-width="1.05" stroke-linecap="round" fill="none"/><path d="M643.5 132.3Q635.7 139.4 641.6 145.2" stroke="#262626" stroke-width="1.05" stroke-linecap="round" fill="none"/><path d="M648.8 132.6L647.6 139.6" stroke="#262626" stroke-width="1.05" stroke-linecap="round" fill="none"/><path d="M649.8 132.7Q645.5 140.1 646.1 148.0" stroke="#262626" stroke-width="1.05" stroke-linecap="round" fill="none"/><path d="M646.5 140.6L649.6 146.6" stroke="#262626" stroke-width="1.05" stroke-linecap="round" fill="none"/><path d="M654.7 133.7L652.3 140.3" stroke="#262626" stroke-width="1.05" stroke-linecap="round" fill="none"/><path d="M656.9 134.3Q658.8 143.0 652.0 148.2" stroke="#262626" stroke-width="1.05" stroke-linecap="round" fill="none"/><path d="M656.2 143.4L648.8 145.4" stroke="#262626" stroke-width="1.05" stroke-linecap="round" fill="none"/><path d="M658.8 134.9L654.5 143.4" stroke="#262626" stroke-width="1.05" stroke-linecap="round" fill="none"/><path d="M667.0 138.8Q664.4 145.2 658.3 149.4" stroke="#262626" stroke-width="1.05" stroke-linecap="round" fill="none"/><path d="M662.1 146.3L661.2 153.1" stroke="#262626" stroke-width="1.05" stroke-linecap="round" fill="none"/><path d="M670.7 141.4L664.9 146.5" stroke="#262626" stroke-width="1.05" stroke-linecap="round" fill="none"/><path d="M668.9 140.1Q668.5 147.4 661.4 149.2" stroke="#262626" stroke-width="1.05" stroke-linecap="round" fill="none"/><path d="M673.2 143.5L665.1 149.4" stroke="#262626" stroke-width="1.05" stroke-linecap="round" fill="none"/><path d="M676.8 147.5Q670.1 152.8 661.7 156.0" stroke="#262626" stroke-width="1.05" stroke-linecap="round" fill="none"/><path d="M678.2 149.4L669.0 153.7" stroke="#262626" stroke-width="1.05" stroke-linecap="round" fill="none"/><path d="M678.9 150.5Q668.0 150.0 662.4 156.4" stroke="#262626" stroke-width="1.05" stroke-linecap="round" fill="none"/><path d="M670.1 151.1L667.7 158.4" stroke="#262626" stroke-width="1.05" stroke-linecap="round" fill="none"/><path d="M681.0 154.5L672.4 157.0" stroke="#262626" stroke-width="1.05" stroke-linecap="round" fill="none"/><path d="M682.3 158.5Q673.6 155.2 668.0 159.9" stroke="#262626" stroke-width="1.05" stroke-linecap="round" fill="none"/><path d="M672.1 157.6L665.1 155.9" stroke="#262626" stroke-width="1.05" stroke-linecap="round" fill="none"/><path d="M683.1 163.0L674.6 163.6" stroke="#262626" stroke-width="1.05" stroke-linecap="round" fill="none"/><path d="M683.2 166.2Q673.9 164.9 664.6 165.6" stroke="#262626" stroke-width="1.05" stroke-linecap="round" fill="none"/><path d="M671.2 165.3L665.8 168.9" stroke="#262626" stroke-width="1.05" stroke-linecap="round" fill="none"/><path d="M683.1 168.4L674.1 167.8" stroke="#262626" stroke-width="1.05" stroke-linecap="round" fill="none"/><path d="M682.6 171.7Q674.1 170.4 665.6 169.1" stroke="#262626" stroke-width="1.05" stroke-linecap="round" fill="none"/><path d="M681.7 174.6L672.7 172.5" stroke="#262626" stroke-width="1.05" stroke-linecap="round" fill="none"/><path d="M680.6 177.5Q668.9 180.5 663.8 173.6" stroke="#262626" stroke-width="1.05" stroke-linecap="round" fill="none"/><path d="M678.8 180.8L668.6 176.4" stroke="#262626" stroke-width="1.05" stroke-linecap="round" fill="none"/><path d="M676.4 184.2Q666.8 183.1 662.0 177.1" stroke="#262626" stroke-width="1.05" stroke-linecap="round" fill="none"/><path d="M674.8 186.0L667.3 181.1" stroke="#262626" stroke-width="1.05" stroke-linecap="round" fill="none"/><path d="M671.9 188.8Q665.0 185.4 660.5 180.1" stroke="#262626" stroke-width="1.05" stroke-linecap="round" fill="none"/><path d="M669.5 190.6L663.2 184.7" stroke="#262626" stroke-width="1.05" stroke-linecap="round" fill="none"/></g>
<path d="M628.5 175.7 C630.8 152.6 663.0 148.3 670.6 165.6 C672.1 175.7 664.5 180.0 656.8 177.1 L641.5 180.0Z" fill="#a8a8a8"/><path d="M630.1 171.4 C633.9 154.0 661.4 150.4 668.3 165.6 C669.1 172.8 664.5 176.4 659.9 173.5" stroke="#f4f4f4" stroke-width="2.6" fill="none"/><path d="M631.6 172.8 C636.2 157.7 659.9 155.5 665.3 167.0" stroke="#4a4a4a" stroke-width="0.9" fill="none"/><ellipse cx="643.1" cy="171.4" rx="7.7" ry="5.8" fill="#bcbcbc"/>
<rect x="602.3" y="134.3" width="78.5" height="74.1" filter="url(#gyA)" opacity="0.15" style="mix-blend-mode:multiply"/>
</g>
<path d="M610.9 181.4 C617.1 175.7 630.8 176.4 635.4 184.3 C638.5 191.5 633.9 200.2 624.0 200.2 C614.0 200.2 607.1 194.4 607.9 187.9 C607.9 185.0 609.4 182.9 610.9 181.4Z" fill="#a6a6a6"/>
<clipPath id="bc8"><path d="M610.9 181.4 C617.1 175.7 630.8 176.4 635.4 184.3 C638.5 191.5 633.9 200.2 624.0 200.2 C614.0 200.2 607.1 194.4 607.9 187.9 C607.9 185.0 609.4 182.9 610.9 181.4Z"/></clipPath>
<g clip-path="url(#bc8)"><g filter="url(#bl03)"><path d="M630.8 185.8 Q634.3 190.9 637.1 202.2" stroke="#ececec" stroke-width="0.9" fill="none"/><path d="M630.8 185.8 Q632.5 191.4 632.2 203.0" stroke="#ececec" stroke-width="0.9" fill="none"/><path d="M630.8 185.8 Q630.6 191.5 627.3 202.8" stroke="#ececec" stroke-width="0.9" fill="none"/><path d="M630.8 185.8 Q628.7 191.3 622.5 201.5" stroke="#ececec" stroke-width="0.9" fill="none"/><path d="M630.8 185.8 Q626.9 190.7 618.3 199.2" stroke="#ececec" stroke-width="0.9" fill="none"/><path d="M630.8 185.8 Q625.4 189.8 614.8 196.0" stroke="#ececec" stroke-width="0.9" fill="none"/><path d="M630.8 185.8 Q624.3 188.7 612.4 192.3" stroke="#ececec" stroke-width="0.9" fill="none"/><path d="M630.8 185.8 Q623.5 187.4 611.1 188.1" stroke="#ececec" stroke-width="0.9" fill="none"/><path d="M630.8 185.8 Q623.2 186.0 611.1 183.7" stroke="#ececec" stroke-width="0.9" fill="none"/><path d="M630.8 185.8 Q623.4 184.5 612.3 179.5" stroke="#ececec" stroke-width="0.9" fill="none"/><path d="M630.8 185.8 Q624.0 183.2 614.7 175.7" stroke="#ececec" stroke-width="0.9" fill="none"/><path d="M630.8 185.8 Q625.1 182.0 618.1 172.5" stroke="#ececec" stroke-width="0.9" fill="none"/><path d="M630.8 185.8 Q626.5 181.0 622.2 170.2" stroke="#ececec" stroke-width="0.9" fill="none"/><path d="M630.8 185.8 Q628.2 180.3 627.0 168.8" stroke="#ececec" stroke-width="0.9" fill="none"/><path d="M630.8 185.8 Q630.1 180.0 631.9 168.5" stroke="#ececec" stroke-width="0.9" fill="none"/><path d="M630.8 185.8 Q632.0 180.1 636.9 169.3" stroke="#ececec" stroke-width="0.9" fill="none"/><path d="M630.8 185.8 Q633.9 180.5 641.4 171.1" stroke="#ececec" stroke-width="0.9" fill="none"/><path d="M630.8 185.8 L637.6 202.1" stroke="#5a5a5a" stroke-width="0.5" fill="none"/><path d="M630.8 185.8 L632.7 203.0" stroke="#5a5a5a" stroke-width="0.5" fill="none"/><path d="M630.8 185.8 L627.7 202.9" stroke="#5a5a5a" stroke-width="0.5" fill="none"/><path d="M630.8 185.8 L622.9 201.7" stroke="#5a5a5a" stroke-width="0.5" fill="none"/><path d="M630.8 185.8 L618.6 199.4" stroke="#5a5a5a" stroke-width="0.5" fill="none"/><path d="M630.8 185.8 L615.1 196.4" stroke="#5a5a5a" stroke-width="0.5" fill="none"/><path d="M630.8 185.8 L612.6 192.6" stroke="#5a5a5a" stroke-width="0.5" fill="none"/><path d="M630.8 185.8 L611.2 188.5" stroke="#5a5a5a" stroke-width="0.5" fill="none"/><path d="M630.8 185.8 L611.0 184.1" stroke="#5a5a5a" stroke-width="0.5" fill="none"/><path d="M630.8 185.8 L612.1 179.9" stroke="#5a5a5a" stroke-width="0.5" fill="none"/><path d="M630.8 185.8 L614.4 176.0" stroke="#5a5a5a" stroke-width="0.5" fill="none"/><path d="M630.8 185.8 L617.7 172.8" stroke="#5a5a5a" stroke-width="0.5" fill="none"/><path d="M630.8 185.8 L621.8 170.4" stroke="#5a5a5a" stroke-width="0.5" fill="none"/><path d="M630.8 185.8 L626.5 168.9" stroke="#5a5a5a" stroke-width="0.5" fill="none"/><path d="M630.8 185.8 L631.5 168.5" stroke="#5a5a5a" stroke-width="0.5" fill="none"/><path d="M630.8 185.8 L636.4 169.2" stroke="#5a5a5a" stroke-width="0.5" fill="none"/></g><rect x="603.3" y="171.4" width="38.2" height="36.0" filter="url(#gyA)" opacity="0.15" style="mix-blend-mode:multiply"/></g>
<path d="M610.9 181.4 C617.1 175.7 630.8 176.4 635.4 184.3 C638.5 191.5 633.9 200.2 624.0 200.2 C614.0 200.2 607.1 194.4 607.9 187.9 C607.9 185.0 609.4 182.9 610.9 181.4Z" fill="none" stroke="#555" stroke-width="0.7"/>
<path d="M633.9 169.9 C645.4 167.0 655.3 173.5 653.0 182.9 C651.5 189.4 645.4 191.5 641.5 195.9 L639.3 207.4 L631.6 207.4 C632.4 200.2 633.1 193.0 632.4 185.8 C631.6 178.6 631.6 172.8 633.9 169.9Z" fill="#c4c4c4"/>
<g filter="url(#bl05)"><path d="M639.3 172.8 C644.6 178.6 643.1 187.2 637.7 197.3" stroke="#a4a4a4" stroke-width="1.5" fill="none"/><ellipse cx="646.1" cy="178.6" rx="3.8" ry="3.6" fill="#d4d4d4"/></g>
<g filter="url(#bl05)"><path d="M637.2 140.3C638.2 139.3 642.5 138.6 644.1 139.3C645.8 139.9 646.8 142.6 647.2 144.2C647.5 145.9 647.0 148.5 646.2 149.2C645.4 149.8 643.5 148.8 642.1 148.2C640.8 147.5 639.0 146.5 638.2 145.2C637.4 143.9 636.2 141.2 637.2 140.3Z" fill="rgba(48,148,140,0.75)"/><path d="M653.6 143.6C654.6 142.8 658.5 142.2 660.6 142.7C662.8 143.1 664.9 145.3 666.6 146.6C668.2 147.9 669.3 148.9 670.6 150.6C671.9 152.2 673.6 154.6 674.6 156.6C675.6 158.6 676.2 160.4 676.5 162.5C676.9 164.7 676.9 167.4 676.5 169.6C676.2 171.7 675.7 174.4 674.6 175.6C673.4 176.8 670.7 177.1 669.5 176.6C668.4 176.1 667.4 173.9 667.5 172.5C667.7 171.2 670.1 170.2 670.6 168.6C671.1 166.9 671.3 164.5 670.6 162.5C669.9 160.5 667.9 158.2 666.6 156.6C665.2 154.9 664.1 153.8 662.6 152.6C661.1 151.5 658.9 150.4 657.6 149.6C656.2 148.7 655.2 148.6 654.6 147.6C653.9 146.6 652.6 144.5 653.6 143.6Z" fill="rgba(48,148,140,0.75)"/><ellipse cx="672" cy="158.6" rx="2.2" ry="3.5" fill="rgba(92,212,100,0.85)" transform="rotate(0 672 158.6)"/><ellipse cx="672" cy="158.6" rx="1.2" ry="2" fill="#58e858" transform="rotate(0 672 158.6)"/><ellipse cx="661" cy="145.3" rx="3" ry="1.8" fill="rgba(92,212,100,0.85)" transform="rotate(0 661 145.3)"/><ellipse cx="673.2" cy="173" rx="1.8" ry="2" fill="rgba(92,212,100,0.85)" transform="rotate(0 673.2 173)"/><ellipse cx="641.5" cy="143" rx="2" ry="1.6" fill="rgba(92,212,100,0.85)" transform="rotate(0 641.5 143)"/><ellipse cx="657.1" cy="184.6" rx="2.8" ry="1.6" fill="rgba(48,148,140,0.75)" transform="rotate(0 657.1 184.6)"/><ellipse cx="642.6" cy="166.4" rx="1.7" ry="1.2" fill="#e02010" transform="rotate(0 642.6 166.4)"/><ellipse cx="636.6" cy="178.6" rx="1.1" ry="1.1" fill="#e02010" transform="rotate(0 636.6 178.6)"/><path d="M625.7 193.5C626.2 192.4 628.1 193.2 628.7 194.0C629.2 194.8 629.3 197.2 629.1 198.4C628.9 199.6 628.2 201.0 627.7 201.4C627.1 201.7 626.0 201.7 625.7 200.4C625.4 199.1 625.2 194.5 625.7 193.5Z" fill="#e02010" stroke="#a81408" stroke-width="0.9"/></g>
<clipPath id="bc9"><path d="M499.65 239.0 C513.5079999999999 239.0 525.2339999999999 253.43200000000002 526.3 273.112 C526.833 294.10400000000004 515.64 304.6 499.65 304.6 C483.65999999999997 304.6 472.467 294.10400000000004 473.0 273.112 C474.066 253.43200000000002 485.792 239.0 499.65 239.0Z"/></clipPath>
<path d="M499.65 239.0 C513.5079999999999 239.0 525.2339999999999 253.43200000000002 526.3 273.112 C526.833 294.10400000000004 515.64 304.6 499.65 304.6 C483.65999999999997 304.6 472.467 294.10400000000004 473.0 273.112 C474.066 253.43200000000002 485.792 239.0 499.65 239.0Z" fill="#e8e8e8"/>
<g clip-path="url(#bc9)">
<g filter="url(#bl03)"><path d="M499.65 239.0 C513.5079999999999 239.0 525.2339999999999 253.43200000000002 526.3 273.112 C526.833 294.10400000000004 515.64 304.6 499.65 304.6 C483.65999999999997 304.6 472.467 294.10400000000004 473.0 273.112 C474.066 253.43200000000002 485.792 239.0 499.65 239.0Z" fill="none" stroke="#9a9a9a" stroke-width="5.0"/><path d="M502.0 240.8Q507.1 249.3 502.3 255.1" stroke="#a0a0a0" stroke-width="3.7" stroke-linecap="round" fill="none"/><path d="M504.7 249.3L500.9 253.2" stroke="#a0a0a0" stroke-width="3.7" stroke-linecap="round" fill="none"/><path d="M505.0 241.3L503.8 248.7" stroke="#a0a0a0" stroke-width="3.7" stroke-linecap="round" fill="none"/><path d="M505.7 241.4Q499.0 249.0 501.7 257.5" stroke="#a0a0a0" stroke-width="3.7" stroke-linecap="round" fill="none"/><path d="M508.7 242.5L506.1 252.0" stroke="#a0a0a0" stroke-width="3.7" stroke-linecap="round" fill="none"/><path d="M513.9 245.4Q513.6 251.3 510.1 254.5" stroke="#a0a0a0" stroke-width="3.7" stroke-linecap="round" fill="none"/><path d="M515.3 246.5L510.7 254.9" stroke="#a0a0a0" stroke-width="3.7" stroke-linecap="round" fill="none"/><path d="M516.6 247.7Q508.7 252.8 506.6 262.4" stroke="#a0a0a0" stroke-width="3.7" stroke-linecap="round" fill="none"/><path d="M509.1 255.7L509.2 261.8" stroke="#a0a0a0" stroke-width="3.7" stroke-linecap="round" fill="none"/><path d="M518.0 249.0L513.0 256.1" stroke="#a0a0a0" stroke-width="3.7" stroke-linecap="round" fill="none"/><path d="M519.7 251.1Q510.1 254.1 507.6 264.0" stroke="#a0a0a0" stroke-width="3.7" stroke-linecap="round" fill="none"/><path d="M521.3 253.2L516.0 258.5" stroke="#a0a0a0" stroke-width="3.7" stroke-linecap="round" fill="none"/><path d="M524.3 258.9Q516.0 260.2 510.5 267.1" stroke="#a0a0a0" stroke-width="3.7" stroke-linecap="round" fill="none"/><path d="M525.5 261.8L517.9 265.7" stroke="#a0a0a0" stroke-width="3.7" stroke-linecap="round" fill="none"/><path d="M525.8 262.9Q516.6 261.0 511.3 268.5" stroke="#a0a0a0" stroke-width="3.7" stroke-linecap="round" fill="none"/><path d="M516.0 264.1L511.5 261.9" stroke="#a0a0a0" stroke-width="3.7" stroke-linecap="round" fill="none"/><path d="M526.4 265.0L520.8 267.1" stroke="#a0a0a0" stroke-width="3.7" stroke-linecap="round" fill="none"/><path d="M527.1 268.6Q522.8 267.8 519.1 270.0" stroke="#a0a0a0" stroke-width="3.7" stroke-linecap="round" fill="none"/><path d="M522.6 268.6L519.9 274.0" stroke="#a0a0a0" stroke-width="3.7" stroke-linecap="round" fill="none"/><path d="M527.3 270.1L520.2 271.4" stroke="#a0a0a0" stroke-width="3.7" stroke-linecap="round" fill="none"/><path d="M527.6 277.2Q519.8 279.8 512.7 276.7" stroke="#a0a0a0" stroke-width="3.7" stroke-linecap="round" fill="none"/><path d="M519.2 278.4L514.8 281.0" stroke="#a0a0a0" stroke-width="3.7" stroke-linecap="round" fill="none"/><path d="M527.3 280.2L519.7 278.8" stroke="#a0a0a0" stroke-width="3.7" stroke-linecap="round" fill="none"/><path d="M527.0 282.6Q519.2 282.7 512.3 279.0" stroke="#a0a0a0" stroke-width="3.7" stroke-linecap="round" fill="none"/><path d="M518.6 281.5L514.7 277.3" stroke="#a0a0a0" stroke-width="3.7" stroke-linecap="round" fill="none"/><path d="M525.8 287.2L519.6 284.3" stroke="#a0a0a0" stroke-width="3.7" stroke-linecap="round" fill="none"/><path d="M524.9 289.8Q519.1 281.3 510.9 280.7" stroke="#a0a0a0" stroke-width="3.7" stroke-linecap="round" fill="none"/><path d="M523.6 293.0L517.8 288.7" stroke="#a0a0a0" stroke-width="3.7" stroke-linecap="round" fill="none"/><path d="M524.4 291.2Q518.2 286.1 511.3 282.5" stroke="#a0a0a0" stroke-width="3.7" stroke-linecap="round" fill="none"/><path d="M517.7 286.2L513.4 288.1" stroke="#a0a0a0" stroke-width="3.7" stroke-linecap="round" fill="none"/><path d="M523.5 293.1L517.9 288.9" stroke="#a0a0a0" stroke-width="3.7" stroke-linecap="round" fill="none"/><path d="M521.6 296.4Q515.5 292.9 511.2 286.8" stroke="#a0a0a0" stroke-width="3.7" stroke-linecap="round" fill="none"/><path d="M515.6 292.0L515.6 285.2" stroke="#a0a0a0" stroke-width="3.7" stroke-linecap="round" fill="none"/><path d="M520.6 297.9L516.2 293.2" stroke="#a0a0a0" stroke-width="3.7" stroke-linecap="round" fill="none"/><path d="M515.4 303.5Q514.5 293.3 508.2 288.7" stroke="#a0a0a0" stroke-width="3.7" stroke-linecap="round" fill="none"/><path d="M512.2 305.9L508.7 297.4" stroke="#a0a0a0" stroke-width="3.7" stroke-linecap="round" fill="none"/><path d="M510.4 306.9Q507.3 302.4 506.7 296.9" stroke="#a0a0a0" stroke-width="3.7" stroke-linecap="round" fill="none"/><path d="M507.3 300.2L509.5 294.5" stroke="#a0a0a0" stroke-width="3.7" stroke-linecap="round" fill="none"/><path d="M507.4 308.2L505.4 299.6" stroke="#a0a0a0" stroke-width="3.7" stroke-linecap="round" fill="none"/><path d="M507.6 308.1Q506.5 302.9 505.2 297.8" stroke="#a0a0a0" stroke-width="3.7" stroke-linecap="round" fill="none"/><path d="M506.6 303.5L508.6 297.6" stroke="#a0a0a0" stroke-width="3.7" stroke-linecap="round" fill="none"/><path d="M504.7 309.0L503.5 300.9" stroke="#a0a0a0" stroke-width="3.7" stroke-linecap="round" fill="none"/><path d="M504.0 309.1Q497.7 300.6 500.8 291.9" stroke="#a0a0a0" stroke-width="3.7" stroke-linecap="round" fill="none"/><path d="M502.6 309.3L501.9 300.6" stroke="#a0a0a0" stroke-width="3.7" stroke-linecap="round" fill="none"/><path d="M498.1 309.5Q501.2 299.8 499.5 290.3" stroke="#a0a0a0" stroke-width="3.7" stroke-linecap="round" fill="none"/><path d="M500.1 300.6L503.0 294.6" stroke="#a0a0a0" stroke-width="3.7" stroke-linecap="round" fill="none"/><path d="M494.2 308.9L495.5 301.0" stroke="#a0a0a0" stroke-width="3.7" stroke-linecap="round" fill="none"/><path d="M491.2 307.9Q497.7 302.4 495.7 295.0" stroke="#a0a0a0" stroke-width="3.7" stroke-linecap="round" fill="none"/><path d="M496.1 299.8L493.6 292.9" stroke="#a0a0a0" stroke-width="3.7" stroke-linecap="round" fill="none"/><path d="M490.1 307.4L492.3 299.8" stroke="#a0a0a0" stroke-width="3.7" stroke-linecap="round" fill="none"/><path d="M487.2 305.9Q491.8 301.6 492.3 295.1" stroke="#a0a0a0" stroke-width="3.7" stroke-linecap="round" fill="none"/><path d="M486.0 305.1L489.3 297.8" stroke="#a0a0a0" stroke-width="3.7" stroke-linecap="round" fill="none"/><path d="M482.0 301.8Q482.3 294.8 486.9 292.8" stroke="#a0a0a0" stroke-width="3.7" stroke-linecap="round" fill="none"/><path d="M479.5 299.0L483.7 294.0" stroke="#a0a0a0" stroke-width="3.7" stroke-linecap="round" fill="none"/><path d="M479.4 298.8Q479.9 289.0 486.2 288.7" stroke="#a0a0a0" stroke-width="3.7" stroke-linecap="round" fill="none"/><path d="M477.8 296.7L482.6 291.9" stroke="#a0a0a0" stroke-width="3.7" stroke-linecap="round" fill="none"/><path d="M475.1 291.6Q479.4 286.4 484.9 284.5" stroke="#a0a0a0" stroke-width="3.7" stroke-linecap="round" fill="none"/><path d="M480.0 286.9L485.1 287.7" stroke="#a0a0a0" stroke-width="3.7" stroke-linecap="round" fill="none"/><path d="M473.5 287.2L479.0 284.6" stroke="#a0a0a0" stroke-width="3.7" stroke-linecap="round" fill="none"/><path d="M473.2 286.4Q478.5 280.2 485.2 280.5" stroke="#a0a0a0" stroke-width="3.7" stroke-linecap="round" fill="none"/><path d="M479.6 281.4L484.4 284.2" stroke="#a0a0a0" stroke-width="3.7" stroke-linecap="round" fill="none"/><path d="M472.6 284.0L480.4 281.5" stroke="#a0a0a0" stroke-width="3.7" stroke-linecap="round" fill="none"/><path d="M472.6 283.8Q478.6 288.8 481.0 282.8" stroke="#a0a0a0" stroke-width="3.7" stroke-linecap="round" fill="none"/><path d="M472.0 280.1L478.9 278.9" stroke="#a0a0a0" stroke-width="3.7" stroke-linecap="round" fill="none"/><path d="M471.7 273.1Q478.5 279.2 484.7 275.2" stroke="#a0a0a0" stroke-width="3.7" stroke-linecap="round" fill="none"/><path d="M472.0 269.8L478.2 271.0" stroke="#a0a0a0" stroke-width="3.7" stroke-linecap="round" fill="none"/><path d="M472.0 269.5Q476.2 270.4 480.5 271.2" stroke="#a0a0a0" stroke-width="3.7" stroke-linecap="round" fill="none"/><path d="M477.2 270.6L481.5 267.4" stroke="#a0a0a0" stroke-width="3.7" stroke-linecap="round" fill="none"/><path d="M472.8 265.4L478.4 267.4" stroke="#a0a0a0" stroke-width="3.7" stroke-linecap="round" fill="none"/><path d="M474.2 260.9Q480.5 262.9 486.0 267.2" stroke="#a0a0a0" stroke-width="3.7" stroke-linecap="round" fill="none"/><path d="M481.8 264.3L487.4 263.8" stroke="#a0a0a0" stroke-width="3.7" stroke-linecap="round" fill="none"/><path d="M474.7 259.4L481.9 263.9" stroke="#a0a0a0" stroke-width="3.7" stroke-linecap="round" fill="none"/><path d="M477.0 254.9Q478.2 264.1 483.9 263.0" stroke="#a0a0a0" stroke-width="3.7" stroke-linecap="round" fill="none"/><path d="M478.7 261.4L484.1 259.7" stroke="#a0a0a0" stroke-width="3.7" stroke-linecap="round" fill="none"/><path d="M478.9 252.0L483.6 257.2" stroke="#a0a0a0" stroke-width="3.7" stroke-linecap="round" fill="none"/><path d="M479.9 250.6Q482.2 257.6 487.3 260.7" stroke="#a0a0a0" stroke-width="3.7" stroke-linecap="round" fill="none"/><path d="M481.4 249.0L485.7 255.2" stroke="#a0a0a0" stroke-width="3.7" stroke-linecap="round" fill="none"/><path d="M483.4 247.1Q485.9 255.3 491.1 261.1" stroke="#a0a0a0" stroke-width="3.7" stroke-linecap="round" fill="none"/><path d="M485.7 245.2L489.0 252.2" stroke="#a0a0a0" stroke-width="3.7" stroke-linecap="round" fill="none"/><path d="M486.8 244.5Q493.2 250.8 494.0 259.9" stroke="#a0a0a0" stroke-width="3.7" stroke-linecap="round" fill="none"/><path d="M491.9 251.3L489.1 257.2" stroke="#a0a0a0" stroke-width="3.7" stroke-linecap="round" fill="none"/><path d="M488.2 243.7L491.0 251.3" stroke="#a0a0a0" stroke-width="3.7" stroke-linecap="round" fill="none"/><path d="M492.6 241.8Q489.2 252.0 494.8 257.7" stroke="#a0a0a0" stroke-width="3.7" stroke-linecap="round" fill="none"/><path d="M491.0 250.6L495.1 252.4" stroke="#a0a0a0" stroke-width="3.7" stroke-linecap="round" fill="none"/><path d="M495.0 241.1L496.1 248.8" stroke="#a0a0a0" stroke-width="3.7" stroke-linecap="round" fill="none"/><path d="M495.7 241.0Q494.8 249.8 497.3 257.9" stroke="#a0a0a0" stroke-width="3.7" stroke-linecap="round" fill="none"/><path d="M498.4 240.7L498.7 248.8" stroke="#a0a0a0" stroke-width="3.7" stroke-linecap="round" fill="none"/><path d="M502.0 240.8Q507.1 249.3 502.3 255.1" stroke="#262626" stroke-width="1.05" stroke-linecap="round" fill="none"/><path d="M504.7 249.3L500.9 253.2" stroke="#262626" stroke-width="1.05" stroke-linecap="round" fill="none"/><path d="M505.0 241.3L503.8 248.7" stroke="#262626" stroke-width="1.05" stroke-linecap="round" fill="none"/><path d="M505.7 241.4Q499.0 249.0 501.7 257.5" stroke="#262626" stroke-width="1.05" stroke-linecap="round" fill="none"/><path d="M508.7 242.5L506.1 252.0" stroke="#262626" stroke-width="1.05" stroke-linecap="round" fill="none"/><path d="M513.9 245.4Q513.6 251.3 510.1 254.5" stroke="#262626" stroke-width="1.05" stroke-linecap="round" fill="none"/><path d="M515.3 246.5L510.7 254.9" stroke="#262626" stroke-width="1.05" stroke-linecap="round" fill="none"/><path d="M516.6 247.7Q508.7 252.8 506.6 262.4" stroke="#262626" stroke-width="1.05" stroke-linecap="round" fill="none"/><path d="M509.1 255.7L509.2 261.8" stroke="#262626" stroke-width="1.05" stroke-linecap="round" fill="none"/><path d="M518.0 249.0L513.0 256.1" stroke="#262626" stroke-width="1.05" stroke-linecap="round" fill="none"/><path d="M519.7 251.1Q510.1 254.1 507.6 264.0" stroke="#262626" stroke-width="1.05" stroke-linecap="round" fill="none"/><path d="M521.3 253.2L516.0 258.5" stroke="#262626" stroke-width="1.05" stroke-linecap="round" fill="none"/><path d="M524.3 258.9Q516.0 260.2 510.5 267.1" stroke="#262626" stroke-width="1.05" stroke-linecap="round" fill="none"/><path d="M525.5 261.8L517.9 265.7" stroke="#262626" stroke-width="1.05" stroke-linecap="round" fill="none"/><path d="M525.8 262.9Q516.6 261.0 511.3 268.5" stroke="#262626" stroke-width="1.05" stroke-linecap="round" fill="none"/><path d="M516.0 264.1L511.5 261.9" stroke="#262626" stroke-width="1.05" stroke-linecap="round" fill="none"/><path d="M526.4 265.0L520.8 267.1" stroke="#262626" stroke-width="1.05" stroke-linecap="round" fill="none"/><path d="M527.1 268.6Q522.8 267.8 519.1 270.0" stroke="#262626" stroke-width="1.05" stroke-linecap="round" fill="none"/><path d="M522.6 268.6L519.9 274.0" stroke="#262626" stroke-width="1.05" stroke-linecap="round" fill="none"/><path d="M527.3 270.1L520.2 271.4" stroke="#262626" stroke-width="1.05" stroke-linecap="round" fill="none"/><path d="M527.6 277.2Q519.8 279.8 512.7 276.7" stroke="#262626" stroke-width="1.05" stroke-linecap="round" fill="none"/><path d="M519.2 278.4L514.8 281.0" stroke="#262626" stroke-width="1.05" stroke-linecap="round" fill="none"/><path d="M527.3 280.2L519.7 278.8" stroke="#262626" stroke-width="1.05" stroke-linecap="round" fill="none"/><path d="M527.0 282.6Q519.2 282.7 512.3 279.0" stroke="#262626" stroke-width="1.05" stroke-linecap="round" fill="none"/><path d="M518.6 281.5L514.7 277.3" stroke="#262626" stroke-width="1.05" stroke-linecap="round" fill="none"/><path d="M525.8 287.2L519.6 284.3" stroke="#262626" stroke-width="1.05" stroke-linecap="round" fill="none"/><path d="M524.9 289.8Q519.1 281.3 510.9 280.7" stroke="#262626" stroke-width="1.05" stroke-linecap="round" fill="none"/><path d="M523.6 293.0L517.8 288.7" stroke="#262626" stroke-width="1.05" stroke-linecap="round" fill="none"/><path d="M524.4 291.2Q518.2 286.1 511.3 282.5" stroke="#262626" stroke-width="1.05" stroke-linecap="round" fill="none"/><path d="M517.7 286.2L513.4 288.1" stroke="#262626" stroke-width="1.05" stroke-linecap="round" fill="none"/><path d="M523.5 293.1L517.9 288.9" stroke="#262626" stroke-width="1.05" stroke-linecap="round" fill="none"/><path d="M521.6 296.4Q515.5 292.9 511.2 286.8" stroke="#262626" stroke-width="1.05" stroke-linecap="round" fill="none"/><path d="M515.6 292.0L515.6 285.2" stroke="#262626" stroke-width="1.05" stroke-linecap="round" fill="none"/><path d="M520.6 297.9L516.2 293.2" stroke="#262626" stroke-width="1.05" stroke-linecap="round" fill="none"/><path d="M515.4 303.5Q514.5 293.3 508.2 288.7" stroke="#262626" stroke-width="1.05" stroke-linecap="round" fill="none"/><path d="M512.2 305.9L508.7 297.4" stroke="#262626" stroke-width="1.05" stroke-linecap="round" fill="none"/><path d="M510.4 306.9Q507.3 302.4 506.7 296.9" stroke="#262626" stroke-width="1.05" stroke-linecap="round" fill="none"/><path d="M507.3 300.2L509.5 294.5" stroke="#262626" stroke-width="1.05" stroke-linecap="round" fill="none"/><path d="M507.4 308.2L505.4 299.6" stroke="#262626" stroke-width="1.05" stroke-linecap="round" fill="none"/><path d="M507.6 308.1Q506.5 302.9 505.2 297.8" stroke="#262626" stroke-width="1.05" stroke-linecap="round" fill="none"/><path d="M506.6 303.5L508.6 297.6" stroke="#262626" stroke-width="1.05" stroke-linecap="round" fill="none"/><path d="M504.7 309.0L503.5 300.9" stroke="#262626" stroke-width="1.05" stroke-linecap="round" fill="none"/><path d="M504.0 309.1Q497.7 300.6 500.8 291.9" stroke="#262626" stroke-width="1.05" stroke-linecap="round" fill="none"/><path d="M502.6 309.3L501.9 300.6" stroke="#262626" stroke-width="1.05" stroke-linecap="round" fill="none"/><path d="M498.1 309.5Q501.2 299.8 499.5 290.3" stroke="#262626" stroke-width="1.05" stroke-linecap="round" fill="none"/><path d="M500.1 300.6L503.0 294.6" stroke="#262626" stroke-width="1.05" stroke-linecap="round" fill="none"/><path d="M494.2 308.9L495.5 301.0" stroke="#262626" stroke-width="1.05" stroke-linecap="round" fill="none"/><path d="M491.2 307.9Q497.7 302.4 495.7 295.0" stroke="#262626" stroke-width="1.05" stroke-linecap="round" fill="none"/><path d="M496.1 299.8L493.6 292.9" stroke="#262626" stroke-width="1.05" stroke-linecap="round" fill="none"/><path d="M490.1 307.4L492.3 299.8" stroke="#262626" stroke-width="1.05" stroke-linecap="round" fill="none"/><path d="M487.2 305.9Q491.8 301.6 492.3 295.1" stroke="#262626" stroke-width="1.05" stroke-linecap="round" fill="none"/><path d="M486.0 305.1L489.3 297.8" stroke="#262626" stroke-width="1.05" stroke-linecap="round" fill="none"/><path d="M482.0 301.8Q482.3 294.8 486.9 292.8" stroke="#262626" stroke-width="1.05" stroke-linecap="round" fill="none"/><path d="M479.5 299.0L483.7 294.0" stroke="#262626" stroke-width="1.05" stroke-linecap="round" fill="none"/><path d="M479.4 298.8Q479.9 289.0 486.2 288.7" stroke="#262626" stroke-width="1.05" stroke-linecap="round" fill="none"/><path d="M477.8 296.7L482.6 291.9" stroke="#262626" stroke-width="1.05" stroke-linecap="round" fill="none"/><path d="M475.1 291.6Q479.4 286.4 484.9 284.5" stroke="#262626" stroke-width="1.05" stroke-linecap="round" fill="none"/><path d="M480.0 286.9L485.1 287.7" stroke="#262626" stroke-width="1.05" stroke-linecap="round" fill="none"/><path d="M473.5 287.2L479.0 284.6" stroke="#262626" stroke-width="1.05" stroke-linecap="round" fill="none"/><path d="M473.2 286.4Q478.5 280.2 485.2 280.5" stroke="#262626" stroke-width="1.05" stroke-linecap="round" fill="none"/><path d="M479.6 281.4L484.4 284.2" stroke="#262626" stroke-width="1.05" stroke-linecap="round" fill="none"/><path d="M472.6 284.0L480.4 281.5" stroke="#262626" stroke-width="1.05" stroke-linecap="round" fill="none"/><path d="M472.6 283.8Q478.6 288.8 481.0 282.8" stroke="#262626" stroke-width="1.05" stroke-linecap="round" fill="none"/><path d="M472.0 280.1L478.9 278.9" stroke="#262626" stroke-width="1.05" stroke-linecap="round" fill="none"/><path d="M471.7 273.1Q478.5 279.2 484.7 275.2" stroke="#262626" stroke-width="1.05" stroke-linecap="round" fill="none"/><path d="M472.0 269.8L478.2 271.0" stroke="#262626" stroke-width="1.05" stroke-linecap="round" fill="none"/><path d="M472.0 269.5Q476.2 270.4 480.5 271.2" stroke="#262626" stroke-width="1.05" stroke-linecap="round" fill="none"/><path d="M477.2 270.6L481.5 267.4" stroke="#262626" stroke-width="1.05" stroke-linecap="round" fill="none"/><path d="M472.8 265.4L478.4 267.4" stroke="#262626" stroke-width="1.05" stroke-linecap="round" fill="none"/><path d="M474.2 260.9Q480.5 262.9 486.0 267.2" stroke="#262626" stroke-width="1.05" stroke-linecap="round" fill="none"/><path d="M481.8 264.3L487.4 263.8" stroke="#262626" stroke-width="1.05" stroke-linecap="round" fill="none"/><path d="M474.7 259.4L481.9 263.9" stroke="#262626" stroke-width="1.05" stroke-linecap="round" fill="none"/><path d="M477.0 254.9Q478.2 264.1 483.9 263.0" stroke="#262626" stroke-width="1.05" stroke-linecap="round" fill="none"/><path d="M478.7 261.4L484.1 259.7" stroke="#262626" stroke-width="1.05" stroke-linecap="round" fill="none"/><path d="M478.9 252.0L483.6 257.2" stroke="#262626" stroke-width="1.05" stroke-linecap="round" fill="none"/><path d="M479.9 250.6Q482.2 257.6 487.3 260.7" stroke="#262626" stroke-width="1.05" stroke-linecap="round" fill="none"/><path d="M481.4 249.0L485.7 255.2" stroke="#262626" stroke-width="1.05" stroke-linecap="round" fill="none"/><path d="M483.4 247.1Q485.9 255.3 491.1 261.1" stroke="#262626" stroke-width="1.05" stroke-linecap="round" fill="none"/><path d="M485.7 245.2L489.0 252.2" stroke="#262626" stroke-width="1.05" stroke-linecap="round" fill="none"/><path d="M486.8 244.5Q493.2 250.8 494.0 259.9" stroke="#262626" stroke-width="1.05" stroke-linecap="round" fill="none"/><path d="M491.9 251.3L489.1 257.2" stroke="#262626" stroke-width="1.05" stroke-linecap="round" fill="none"/><path d="M488.2 243.7L491.0 251.3" stroke="#262626" stroke-width="1.05" stroke-linecap="round" fill="none"/><path d="M492.6 241.8Q489.2 252.0 494.8 257.7" stroke="#262626" stroke-width="1.05" stroke-linecap="round" fill="none"/><path d="M491.0 250.6L495.1 252.4" stroke="#262626" stroke-width="1.05" stroke-linecap="round" fill="none"/><path d="M495.0 241.1L496.1 248.8" stroke="#262626" stroke-width="1.05" stroke-linecap="round" fill="none"/><path d="M495.7 241.0Q494.8 249.8 497.3 257.9" stroke="#262626" stroke-width="1.05" stroke-linecap="round" fill="none"/><path d="M498.4 240.7L498.7 248.8" stroke="#262626" stroke-width="1.05" stroke-linecap="round" fill="none"/></g>
<line x1="499.65" y1="239.0" x2="499.65" y2="304.6" stroke="#9a9a9a" stroke-width="3.2"/><line x1="499.65" y1="239.0" x2="499.65" y2="304.6" stroke="#1e1e1e" stroke-width="1.3"/>
<rect x="472.0" y="238.0" width="55.3" height="67.6" filter="url(#gyA)" opacity="0.15" style="mix-blend-mode:multiply"/>
</g>
<g filter="url(#bl05)"><path d="M489.9 245.1C490.8 244.3 493.2 243.2 494.5 242.5C495.8 241.7 496.2 240.7 497.6 240.4C498.9 240.0 501.3 240.1 502.7 240.4C504.1 240.6 505.0 241.1 505.8 241.9C506.5 242.7 506.9 244.1 507.3 245.1C507.7 246.0 507.7 246.9 508.3 247.6C508.9 248.3 510.2 248.2 510.8 249.1C511.4 250.1 512.0 252.2 511.9 253.2C511.7 254.1 510.6 254.8 509.8 254.8C509.0 254.8 508.0 254.0 507.3 253.2C506.6 252.4 506.4 250.8 505.8 250.1C505.2 249.4 504.2 248.6 503.7 249.1C503.2 249.6 502.9 251.6 502.7 253.2C502.5 254.7 502.6 256.6 502.7 258.3C502.8 260.0 503.2 261.7 503.2 263.4C503.1 265.1 502.5 267.0 502.2 268.6C501.8 270.1 501.8 271.7 501.2 272.6C500.6 273.5 499.4 273.9 498.6 273.9C497.7 273.9 496.6 273.5 496.0 272.6C495.4 271.7 495.4 270.1 495.0 268.6C494.5 267.0 493.9 264.8 493.4 263.4C493.0 262.1 492.9 261.2 492.4 260.4C492.0 259.5 491.4 259.2 490.9 258.3C490.4 257.4 489.7 256.2 489.4 254.8C489.0 253.4 488.8 251.4 488.8 250.1C488.8 248.8 489.2 247.9 489.4 247.1C489.6 246.2 489.1 245.8 489.9 245.1Z" fill="#e02010" stroke="#a81408" stroke-width="0.9"/><path d="M512.6 255.1C513.2 254.5 514.7 255.2 515.8 255.7C516.8 256.1 518.0 257.0 518.8 257.6C519.6 258.3 520.2 259.2 520.3 259.7C520.5 260.2 520.2 260.5 519.8 260.7C519.4 260.9 518.2 260.3 517.7 260.7C517.2 261.0 516.6 262.3 516.7 262.8C516.9 263.3 518.0 263.4 518.8 263.8C519.7 264.1 520.9 264.5 521.9 264.8C522.9 265.2 524.6 265.1 524.9 265.8C525.3 266.6 524.5 268.5 523.9 269.4C523.2 270.4 521.8 271.1 520.8 271.5C519.8 271.8 518.6 271.8 517.7 271.5C516.9 271.1 516.2 270.5 515.8 269.4C515.3 268.4 515.6 266.3 515.2 265.3C514.9 264.3 514.2 264.3 513.7 263.3C513.2 262.3 512.3 260.5 512.2 259.2C512.0 257.8 512.0 255.7 512.6 255.1Z" fill="#e02010" stroke="#a81408" stroke-width="0.9"/><ellipse cx="499.2" cy="243.6" rx="2.6" ry="2.0" fill="#f58a20" transform="rotate(0 499.2 243.6)"/><ellipse cx="499.2" cy="243.4" rx="1.5" ry="1.1" fill="#f4e030" transform="rotate(0 499.2 243.4)"/><ellipse cx="500.1" cy="263.8" rx="1.8" ry="2.6" fill="#f58a20" transform="rotate(0 500.1 263.8)"/><ellipse cx="500.1" cy="263.8" rx="1.0" ry="1.5" fill="#f4e030" transform="rotate(0 500.1 263.8)"/><ellipse cx="490.6" cy="251.9" rx="1.8" ry="1.8" fill="#f58a20" transform="rotate(0 490.6 251.9)"/><ellipse cx="498.5" cy="256" rx="2.2" ry="7" fill="rgba(255,110,30,0.75)" transform="rotate(0 498.5 256)"/><ellipse cx="518.5" cy="266" rx="2" ry="2.5" fill="rgba(255,110,30,0.7)" transform="rotate(0 518.5 266)"/><ellipse cx="522.8" cy="282.5" rx="0.9" ry="0.9" fill="#e02010" transform="rotate(0 522.8 282.5)"/></g>
<clipPath id="bc10"><path d="M567.0999999999999 245.8 C589.6719999999999 245.8 596.8 259.0 596.8 277.0 C596.8 293.8 592.0479999999999 305.8 584.9199999999998 305.8 C578.9799999999999 305.8 576.6039999999999 295.0 573.04 292.6 L561.1599999999999 292.6 C557.5959999999999 295.0 555.2199999999999 305.8 549.28 305.8 C542.1519999999999 305.8 537.4 293.8 537.4 277.0 C537.4 259.0 544.5279999999999 245.8 567.0999999999999 245.8Z"/></clipPath>
<path d="M567.0999999999999 245.8 C589.6719999999999 245.8 596.8 259.0 596.8 277.0 C596.8 293.8 592.0479999999999 305.8 584.9199999999998 305.8 C578.9799999999999 305.8 576.6039999999999 295.0 573.04 292.6 L561.1599999999999 292.6 C557.5959999999999 295.0 555.2199999999999 305.8 549.28 305.8 C542.1519999999999 305.8 537.4 293.8 537.4 277.0 C537.4 259.0 544.5279999999999 245.8 567.0999999999999 245.8Z" fill="#e8e8e8"/>
<g clip-path="url(#bc10)">
<g filter="url(#bl03)"><path d="M567.0999999999999 245.8 C589.6719999999999 245.8 596.8 259.0 596.8 277.0 C596.8 293.8 592.0479999999999 305.8 584.9199999999998 305.8 C578.9799999999999 305.8 576.6039999999999 295.0 573.04 292.6 L561.1599999999999 292.6 C557.5959999999999 295.0 555.2199999999999 305.8 549.28 305.8 C542.1519999999999 305.8 537.4 293.8 537.4 277.0 C537.4 259.0 544.5279999999999 245.8 567.0999999999999 245.8Z" fill="none" stroke="#9a9a9a" stroke-width="5.0"/><path d="M570.7 245.7Q572.3 253.1 569.6 259.9" stroke="#a0a0a0" stroke-width="3.7" stroke-linecap="round" fill="none"/><path d="M570.9 255.1L573.5 260.6" stroke="#a0a0a0" stroke-width="3.7" stroke-linecap="round" fill="none"/><path d="M574.3 246.3L572.8 252.9" stroke="#a0a0a0" stroke-width="3.7" stroke-linecap="round" fill="none"/><path d="M576.6 247.0Q575.3 256.6 571.2 265.1" stroke="#a0a0a0" stroke-width="3.7" stroke-linecap="round" fill="none"/><path d="M579.7 248.2L576.4 255.8" stroke="#a0a0a0" stroke-width="3.7" stroke-linecap="round" fill="none"/><path d="M583.4 250.1Q575.7 254.5 575.0 262.3" stroke="#a0a0a0" stroke-width="3.7" stroke-linecap="round" fill="none"/><path d="M577.4 255.0L580.1 260.4" stroke="#a0a0a0" stroke-width="3.7" stroke-linecap="round" fill="none"/><path d="M587.4 253.1L583.0 258.3" stroke="#a0a0a0" stroke-width="3.7" stroke-linecap="round" fill="none"/><path d="M591.1 256.9Q587.9 268.1 578.7 268.9" stroke="#a0a0a0" stroke-width="3.7" stroke-linecap="round" fill="none"/><path d="M586.0 266.1L583.9 272.3" stroke="#a0a0a0" stroke-width="3.7" stroke-linecap="round" fill="none"/><path d="M593.9 261.0L587.4 264.8" stroke="#a0a0a0" stroke-width="3.7" stroke-linecap="round" fill="none"/><path d="M595.9 265.0Q590.5 268.2 584.5 269.9" stroke="#a0a0a0" stroke-width="3.7" stroke-linecap="round" fill="none"/><path d="M588.5 268.6L585.8 274.1" stroke="#a0a0a0" stroke-width="3.7" stroke-linecap="round" fill="none"/><path d="M597.2 268.9L589.9 270.9" stroke="#a0a0a0" stroke-width="3.7" stroke-linecap="round" fill="none"/><path d="M597.6 270.3Q587.5 268.3 579.7 273.5" stroke="#a0a0a0" stroke-width="3.7" stroke-linecap="round" fill="none"/><path d="M598.1 273.3L591.7 274.1" stroke="#a0a0a0" stroke-width="3.7" stroke-linecap="round" fill="none"/><path d="M598.2 279.2Q590.3 276.0 582.3 277.6" stroke="#a0a0a0" stroke-width="3.7" stroke-linecap="round" fill="none"/><path d="M589.1 277.1L583.8 280.5" stroke="#a0a0a0" stroke-width="3.7" stroke-linecap="round" fill="none"/><path d="M597.7 283.0L588.8 281.2" stroke="#a0a0a0" stroke-width="3.7" stroke-linecap="round" fill="none"/><path d="M596.9 286.4Q589.3 284.3 581.9 281.8" stroke="#a0a0a0" stroke-width="3.7" stroke-linecap="round" fill="none"/><path d="M588.4 283.9L583.0 285.4" stroke="#a0a0a0" stroke-width="3.7" stroke-linecap="round" fill="none"/><path d="M595.2 290.7L587.5 286.9" stroke="#a0a0a0" stroke-width="3.7" stroke-linecap="round" fill="none"/><path d="M595.8 289.3Q588.4 285.2 580.4 282.5" stroke="#a0a0a0" stroke-width="3.7" stroke-linecap="round" fill="none"/><path d="M587.9 285.3L585.3 280.3" stroke="#a0a0a0" stroke-width="3.7" stroke-linecap="round" fill="none"/><path d="M594.4 292.3L587.5 288.4" stroke="#a0a0a0" stroke-width="3.7" stroke-linecap="round" fill="none"/><path d="M589.6 298.8Q587.5 291.3 581.1 289.3" stroke="#a0a0a0" stroke-width="3.7" stroke-linecap="round" fill="none"/><path d="M587.0 301.3L582.1 295.4" stroke="#a0a0a0" stroke-width="3.7" stroke-linecap="round" fill="none"/><path d="M586.4 301.8Q585.3 293.7 578.9 290.7" stroke="#a0a0a0" stroke-width="3.7" stroke-linecap="round" fill="none"/><path d="M582.1 304.6L578.9 298.9" stroke="#a0a0a0" stroke-width="3.7" stroke-linecap="round" fill="none"/><path d="M576.4 307.1Q570.0 299.5 570.5 290.5" stroke="#a0a0a0" stroke-width="3.7" stroke-linecap="round" fill="none"/><path d="M571.2 297.8L573.9 291.2" stroke="#a0a0a0" stroke-width="3.7" stroke-linecap="round" fill="none"/><path d="M572.8 308.0L571.1 298.9" stroke="#a0a0a0" stroke-width="3.7" stroke-linecap="round" fill="none"/><path d="M571.9 308.1Q566.0 301.9 568.8 295.2" stroke="#a0a0a0" stroke-width="3.7" stroke-linecap="round" fill="none"/><path d="M569.0 308.4L568.5 300.7" stroke="#a0a0a0" stroke-width="3.7" stroke-linecap="round" fill="none"/><path d="M563.5 308.3Q567.7 301.3 565.9 294.1" stroke="#a0a0a0" stroke-width="3.7" stroke-linecap="round" fill="none"/><path d="M558.6 307.3L561.0 298.8" stroke="#a0a0a0" stroke-width="3.7" stroke-linecap="round" fill="none"/><path d="M557.2 306.9Q562.4 301.7 561.9 295.1" stroke="#a0a0a0" stroke-width="3.7" stroke-linecap="round" fill="none"/><path d="M553.7 305.4L556.8 298.9" stroke="#a0a0a0" stroke-width="3.7" stroke-linecap="round" fill="none"/><path d="M548.4 302.2Q556.0 296.9 559.1 288.6" stroke="#a0a0a0" stroke-width="3.7" stroke-linecap="round" fill="none"/><path d="M555.1 296.1L560.3 293.1" stroke="#a0a0a0" stroke-width="3.7" stroke-linecap="round" fill="none"/><path d="M545.7 299.9L551.5 293.7" stroke="#a0a0a0" stroke-width="3.7" stroke-linecap="round" fill="none"/><path d="M544.0 298.2Q547.8 293.5 552.6 290.1" stroke="#a0a0a0" stroke-width="3.7" stroke-linecap="round" fill="none"/><path d="M540.9 294.1L546.3 290.6" stroke="#a0a0a0" stroke-width="3.7" stroke-linecap="round" fill="none"/><path d="M538.8 290.2Q545.4 285.7 553.0 283.3" stroke="#a0a0a0" stroke-width="3.7" stroke-linecap="round" fill="none"/><path d="M537.2 285.8L544.3 283.7" stroke="#a0a0a0" stroke-width="3.7" stroke-linecap="round" fill="none"/><path d="M537.1 285.4Q544.2 280.0 552.4 280.5" stroke="#a0a0a0" stroke-width="3.7" stroke-linecap="round" fill="none"/><path d="M546.5 280.9L552.4 283.7" stroke="#a0a0a0" stroke-width="3.7" stroke-linecap="round" fill="none"/><path d="M536.1 280.5L542.6 279.8" stroke="#a0a0a0" stroke-width="3.7" stroke-linecap="round" fill="none"/><path d="M535.9 276.8Q542.5 278.6 549.0 277.3" stroke="#a0a0a0" stroke-width="3.7" stroke-linecap="round" fill="none"/><path d="M543.7 277.9L548.7 274.4" stroke="#a0a0a0" stroke-width="3.7" stroke-linecap="round" fill="none"/><path d="M536.2 272.4L543.9 273.6" stroke="#a0a0a0" stroke-width="3.7" stroke-linecap="round" fill="none"/><path d="M537.0 268.8Q545.7 269.8 553.7 273.1" stroke="#a0a0a0" stroke-width="3.7" stroke-linecap="round" fill="none"/><path d="M538.3 265.0L546.6 268.4" stroke="#a0a0a0" stroke-width="3.7" stroke-linecap="round" fill="none"/><path d="M539.1 263.1Q546.4 269.2 555.2 271.6" stroke="#a0a0a0" stroke-width="3.7" stroke-linecap="round" fill="none"/><path d="M541.3 259.3L548.2 264.0" stroke="#a0a0a0" stroke-width="3.7" stroke-linecap="round" fill="none"/><path d="M542.5 257.6Q549.3 260.4 553.7 265.9" stroke="#a0a0a0" stroke-width="3.7" stroke-linecap="round" fill="none"/><path d="M550.0 262.1L551.0 267.8" stroke="#a0a0a0" stroke-width="3.7" stroke-linecap="round" fill="none"/><path d="M544.3 255.5L549.6 260.5" stroke="#a0a0a0" stroke-width="3.7" stroke-linecap="round" fill="none"/><path d="M548.6 251.6Q551.8 260.1 558.3 265.7" stroke="#a0a0a0" stroke-width="3.7" stroke-linecap="round" fill="none"/><path d="M550.4 250.4L554.8 257.3" stroke="#a0a0a0" stroke-width="3.7" stroke-linecap="round" fill="none"/><path d="M554.8 248.0Q557.4 256.4 561.5 264.2" stroke="#a0a0a0" stroke-width="3.7" stroke-linecap="round" fill="none"/><path d="M557.5 255.8L562.2 258.5" stroke="#a0a0a0" stroke-width="3.7" stroke-linecap="round" fill="none"/><path d="M558.7 246.7L560.5 253.2" stroke="#a0a0a0" stroke-width="3.7" stroke-linecap="round" fill="none"/><path d="M561.8 245.9Q568.1 253.3 565.4 261.2" stroke="#a0a0a0" stroke-width="3.7" stroke-linecap="round" fill="none"/><path d="M564.7 245.6L565.3 253.3" stroke="#a0a0a0" stroke-width="3.7" stroke-linecap="round" fill="none"/><path d="M570.7 245.7Q572.3 253.1 569.6 259.9" stroke="#262626" stroke-width="1.05" stroke-linecap="round" fill="none"/><path d="M570.9 255.1L573.5 260.6" stroke="#262626" stroke-width="1.05" stroke-linecap="round" fill="none"/><path d="M574.3 246.3L572.8 252.9" stroke="#262626" stroke-width="1.05" stroke-linecap="round" fill="none"/><path d="M576.6 247.0Q575.3 256.6 571.2 265.1" stroke="#262626" stroke-width="1.05" stroke-linecap="round" fill="none"/><path d="M579.7 248.2L576.4 255.8" stroke="#262626" stroke-width="1.05" stroke-linecap="round" fill="none"/><path d="M583.4 250.1Q575.7 254.5 575.0 262.3" stroke="#262626" stroke-width="1.05" stroke-linecap="round" fill="none"/><path d="M577.4 255.0L580.1 260.4" stroke="#262626" stroke-width="1.05" stroke-linecap="round" fill="none"/><path d="M587.4 253.1L583.0 258.3" stroke="#262626" stroke-width="1.05" stroke-linecap="round" fill="none"/><path d="M591.1 256.9Q587.9 268.1 578.7 268.9" stroke="#262626" stroke-width="1.05" stroke-linecap="round" fill="none"/><path d="M586.0 266.1L583.9 272.3" stroke="#262626" stroke-width="1.05" stroke-linecap="round" fill="none"/><path d="M593.9 261.0L587.4 264.8" stroke="#262626" stroke-width="1.05" stroke-linecap="round" fill="none"/><path d="M595.9 265.0Q590.5 268.2 584.5 269.9" stroke="#262626" stroke-width="1.05" stroke-linecap="round" fill="none"/><path d="M588.5 268.6L585.8 274.1" stroke="#262626" stroke-width="1.05" stroke-linecap="round" fill="none"/><path d="M597.2 268.9L589.9 270.9" stroke="#262626" stroke-width="1.05" stroke-linecap="round" fill="none"/><path d="M597.6 270.3Q587.5 268.3 579.7 273.5" stroke="#262626" stroke-width="1.05" stroke-linecap="round" fill="none"/><path d="M598.1 273.3L591.7 274.1" stroke="#262626" stroke-width="1.05" stroke-linecap="round" fill="none"/><path d="M598.2 279.2Q590.3 276.0 582.3 277.6" stroke="#262626" stroke-width="1.05" stroke-linecap="round" fill="none"/><path d="M589.1 277.1L583.8 280.5" stroke="#262626" stroke-width="1.05" stroke-linecap="round" fill="none"/><path d="M597.7 283.0L588.8 281.2" stroke="#262626" stroke-width="1.05" stroke-linecap="round" fill="none"/><path d="M596.9 286.4Q589.3 284.3 581.9 281.8" stroke="#262626" stroke-width="1.05" stroke-linecap="round" fill="none"/><path d="M588.4 283.9L583.0 285.4" stroke="#262626" stroke-width="1.05" stroke-linecap="round" fill="none"/><path d="M595.2 290.7L587.5 286.9" stroke="#262626" stroke-width="1.05" stroke-linecap="round" fill="none"/><path d="M595.8 289.3Q588.4 285.2 580.4 282.5" stroke="#262626" stroke-width="1.05" stroke-linecap="round" fill="none"/><path d="M587.9 285.3L585.3 280.3" stroke="#262626" stroke-width="1.05" stroke-linecap="round" fill="none"/><path d="M594.4 292.3L587.5 288.4" stroke="#262626" stroke-width="1.05" stroke-linecap="round" fill="none"/><path d="M589.6 298.8Q587.5 291.3 581.1 289.3" stroke="#262626" stroke-width="1.05" stroke-linecap="round" fill="none"/><path d="M587.0 301.3L582.1 295.4" stroke="#262626" stroke-width="1.05" stroke-linecap="round" fill="none"/><path d="M586.4 301.8Q585.3 293.7 578.9 290.7" stroke="#262626" stroke-width="1.05" stroke-linecap="round" fill="none"/><path d="M582.1 304.6L578.9 298.9" stroke="#262626" stroke-width="1.05" stroke-linecap="round" fill="none"/><path d="M576.4 307.1Q570.0 299.5 570.5 290.5" stroke="#262626" stroke-width="1.05" stroke-linecap="round" fill="none"/><path d="M571.2 297.8L573.9 291.2" stroke="#262626" stroke-width="1.05" stroke-linecap="round" fill="none"/><path d="M572.8 308.0L571.1 298.9" stroke="#262626" stroke-width="1.05" stroke-linecap="round" fill="none"/><path d="M571.9 308.1Q566.0 301.9 568.8 295.2" stroke="#262626" stroke-width="1.05" stroke-linecap="round" fill="none"/><path d="M569.0 308.4L568.5 300.7" stroke="#262626" stroke-width="1.05" stroke-linecap="round" fill="none"/><path d="M563.5 308.3Q567.7 301.3 565.9 294.1" stroke="#262626" stroke-width="1.05" stroke-linecap="round" fill="none"/><path d="M558.6 307.3L561.0 298.8" stroke="#262626" stroke-width="1.05" stroke-linecap="round" fill="none"/><path d="M557.2 306.9Q562.4 301.7 561.9 295.1" stroke="#262626" stroke-width="1.05" stroke-linecap="round" fill="none"/><path d="M553.7 305.4L556.8 298.9" stroke="#262626" stroke-width="1.05" stroke-linecap="round" fill="none"/><path d="M548.4 302.2Q556.0 296.9 559.1 288.6" stroke="#262626" stroke-width="1.05" stroke-linecap="round" fill="none"/><path d="M555.1 296.1L560.3 293.1" stroke="#262626" stroke-width="1.05" stroke-linecap="round" fill="none"/><path d="M545.7 299.9L551.5 293.7" stroke="#262626" stroke-width="1.05" stroke-linecap="round" fill="none"/><path d="M544.0 298.2Q547.8 293.5 552.6 290.1" stroke="#262626" stroke-width="1.05" stroke-linecap="round" fill="none"/><path d="M540.9 294.1L546.3 290.6" stroke="#262626" stroke-width="1.05" stroke-linecap="round" fill="none"/><path d="M538.8 290.2Q545.4 285.7 553.0 283.3" stroke="#262626" stroke-width="1.05" stroke-linecap="round" fill="none"/><path d="M537.2 285.8L544.3 283.7" stroke="#262626" stroke-width="1.05" stroke-linecap="round" fill="none"/><path d="M537.1 285.4Q544.2 280.0 552.4 280.5" stroke="#262626" stroke-width="1.05" stroke-linecap="round" fill="none"/><path d="M546.5 280.9L552.4 283.7" stroke="#262626" stroke-width="1.05" stroke-linecap="round" fill="none"/><path d="M536.1 280.5L542.6 279.8" stroke="#262626" stroke-width="1.05" stroke-linecap="round" fill="none"/><path d="M535.9 276.8Q542.5 278.6 549.0 277.3" stroke="#262626" stroke-width="1.05" stroke-linecap="round" fill="none"/><path d="M543.7 277.9L548.7 274.4" stroke="#262626" stroke-width="1.05" stroke-linecap="round" fill="none"/><path d="M536.2 272.4L543.9 273.6" stroke="#262626" stroke-width="1.05" stroke-linecap="round" fill="none"/><path d="M537.0 268.8Q545.7 269.8 553.7 273.1" stroke="#262626" stroke-width="1.05" stroke-linecap="round" fill="none"/><path d="M538.3 265.0L546.6 268.4" stroke="#262626" stroke-width="1.05" stroke-linecap="round" fill="none"/><path d="M539.1 263.1Q546.4 269.2 555.2 271.6" stroke="#262626" stroke-width="1.05" stroke-linecap="round" fill="none"/><path d="M541.3 259.3L548.2 264.0" stroke="#262626" stroke-width="1.05" stroke-linecap="round" fill="none"/><path d="M542.5 257.6Q549.3 260.4 553.7 265.9" stroke="#262626" stroke-width="1.05" stroke-linecap="round" fill="none"/><path d="M550.0 262.1L551.0 267.8" stroke="#262626" stroke-width="1.05" stroke-linecap="round" fill="none"/><path d="M544.3 255.5L549.6 260.5" stroke="#262626" stroke-width="1.05" stroke-linecap="round" fill="none"/><path d="M548.6 251.6Q551.8 260.1 558.3 265.7" stroke="#262626" stroke-width="1.05" stroke-linecap="round" fill="none"/><path d="M550.4 250.4L554.8 257.3" stroke="#262626" stroke-width="1.05" stroke-linecap="round" fill="none"/><path d="M554.8 248.0Q557.4 256.4 561.5 264.2" stroke="#262626" stroke-width="1.05" stroke-linecap="round" fill="none"/><path d="M557.5 255.8L562.2 258.5" stroke="#262626" stroke-width="1.05" stroke-linecap="round" fill="none"/><path d="M558.7 246.7L560.5 253.2" stroke="#262626" stroke-width="1.05" stroke-linecap="round" fill="none"/><path d="M561.8 245.9Q568.1 253.3 565.4 261.2" stroke="#262626" stroke-width="1.05" stroke-linecap="round" fill="none"/><path d="M564.7 245.6L565.3 253.3" stroke="#262626" stroke-width="1.05" stroke-linecap="round" fill="none"/></g>
<line x1="567.0999999999999" y1="245.8" x2="567.0999999999999" y2="263.8" stroke="#9a9a9a" stroke-width="3"/><line x1="567.0999999999999" y1="245.8" x2="567.0999999999999" y2="263.8" stroke="#222" stroke-width="1.2"/><g filter="url(#bl05)"><ellipse cx="567.0999999999999" cy="279.40000000000003" rx="11.879999999999995" ry="7.199999999999999" fill="#e4e4e4"/></g><path d="M559.4 270.4 L565.3 266.8 L567.1 269.2 L568.9 266.8 L574.8 270.4 L572.4 273.4 L567.1 271.6 L561.8 273.4Z" fill="#1e1e1e" filter="url(#bl03)"/><g filter="url(#bl05)"><ellipse cx="557.5959999999999" cy="281.8" rx="4.157999999999999" ry="7.199999999999999" fill="#a8a8a8"/><ellipse cx="576.6039999999999" cy="281.8" rx="4.157999999999999" ry="7.199999999999999" fill="#a8a8a8"/><path d="M561.8 292.6 L567.1 285.4 L572.4 292.6Z" fill="#8a8a8a"/><ellipse cx="549.28" cy="297.40000000000003" rx="5.939999999999998" ry="5.3999999999999995" fill="#8a8a8a"/><ellipse cx="584.92" cy="297.40000000000003" rx="5.939999999999998" ry="5.3999999999999995" fill="#8a8a8a"/></g>
<rect x="536.4" y="244.8" width="61.4" height="62.0" filter="url(#gyA)" opacity="0.15" style="mix-blend-mode:multiply"/>
</g>
<g filter="url(#bl05)"><path d="M561.8 256.3C562.6 255.2 565.1 253.3 566.8 252.9C568.5 252.4 570.9 252.8 571.9 253.8C572.9 254.8 573.0 257.4 572.8 258.8C572.5 260.2 571.7 261.6 570.2 262.1C568.8 262.7 565.7 262.6 564.3 262.1C562.9 261.7 562.2 260.6 561.8 259.6C561.4 258.6 560.9 257.4 561.8 256.3Z" fill="#e02010" stroke="#a81408" stroke-width="0.9"/><path d="M575.5 251.4C576.0 250.4 578.5 249.5 580.5 249.8C582.5 250.1 585.4 251.7 587.3 253.1C589.1 254.5 590.4 256.3 591.5 258.1C592.6 260.0 593.6 262.3 594.0 264.1C594.4 265.9 594.4 268.0 594.0 269.1C593.6 270.2 592.6 270.8 591.5 270.8C590.4 270.8 588.0 270.1 587.3 269.1C586.6 268.1 587.7 266.3 587.3 264.9C586.8 263.5 585.7 262.0 584.7 260.8C583.8 259.5 582.7 258.2 581.4 257.3C580.2 256.5 578.2 256.6 577.2 255.6C576.2 254.6 574.9 252.4 575.5 251.4Z" fill="#e02010" stroke="#a81408" stroke-width="0.9"/><ellipse cx="583.5" cy="252.5" rx="1.6" ry="1.3" fill="#f58a20" transform="rotate(0 583.5 252.5)"/><ellipse cx="591.5" cy="262" rx="1.4" ry="1.8" fill="#f58a20" transform="rotate(0 591.5 262)"/><ellipse cx="567" cy="257.5" rx="2.5" ry="2" fill="rgba(255,110,30,0.7)" transform="rotate(0 567 257.5)"/><path d="M587.8 288.5C588.8 286.9 590.7 286.8 592.0 286.9C593.3 287.1 594.9 288.0 595.4 289.5C596.0 291.1 595.8 294.2 595.4 296.2C595.0 298.1 594.0 300.4 592.9 301.2C591.8 302.1 589.8 301.9 588.7 301.2C587.6 300.5 586.3 299.1 586.2 297.0C586.0 294.9 586.8 290.2 587.8 288.5Z" fill="#e02010" stroke="#a81408" stroke-width="0.9"/><ellipse cx="590.5" cy="297" rx="2.2" ry="2.5" fill="#f58a20" transform="rotate(0 590.5 297)"/><ellipse cx="590.5" cy="297.2" rx="1.2" ry="1.4" fill="#f4e030" transform="rotate(0 590.5 297.2)"/><ellipse cx="584.6" cy="303.4" rx="2.6" ry="1.3" fill="#e02010" transform="rotate(0 584.6 303.4)"/><path d="M555.6 278.9C556.0 278.2 556.7 277.7 557.1 278.2C557.6 278.8 558.3 281.1 558.4 282.3C558.5 283.5 558.4 285.0 557.9 285.6C557.3 286.2 555.8 286.4 555.3 285.9C554.9 285.3 554.9 283.5 555.0 282.3C555.0 281.1 555.2 279.5 555.6 278.9Z" fill="#3cc83c"/><path d="M576.3 281.4C576.8 280.6 577.7 280.0 578.2 280.7C578.7 281.3 579.3 283.8 579.3 285.1C579.3 286.4 578.8 287.8 578.3 288.4C577.7 289.0 576.4 289.0 575.9 288.4C575.5 287.8 575.4 286.2 575.5 285.1C575.6 283.9 575.9 282.1 576.3 281.4Z" fill="#3cc83c"/></g>
<clipPath id="bc11"><path d="M606.7 285.2 C605.3 261.2 623.8 245.2 644.5 245.2 C666.7 245.2 680.0 259.8 680.0 278.0 C680.0 288.9 677.8 296.2 672.6 297.6 C665.2 299.1 657.8 299.1 651.9 290.3 L634.1 287.4 C624.5 287.4 614.9 292.5 609.7 291.8 C607.5 290.3 606.7 288.9 606.7 285.2Z"/></clipPath>
<path d="M606.7 285.2 C605.3 261.2 623.8 245.2 644.5 245.2 C666.7 245.2 680.0 259.8 680.0 278.0 C680.0 288.9 677.8 296.2 672.6 297.6 C665.2 299.1 657.8 299.1 651.9 290.3 L634.1 287.4 C624.5 287.4 614.9 292.5 609.7 291.8 C607.5 290.3 606.7 288.9 606.7 285.2Z" fill="#e8e8e8"/>
<g clip-path="url(#bc11)">
<g filter="url(#bl03)"><path d="M606.7 285.2 C605.3 261.2 623.8 245.2 644.5 245.2 C666.7 245.2 680.0 259.8 680.0 278.0 C680.0 288.9 677.8 296.2 672.6 297.6 C665.2 299.1 657.8 299.1 651.9 290.3 L634.1 287.4 C624.5 287.4 614.9 292.5 609.7 291.8 C607.5 290.3 606.7 288.9 606.7 285.2Z" fill="none" stroke="#9a9a9a" stroke-width="5.0"/><path d="M613.9 296.6Q617.5 290.3 624.6 288.4" stroke="#a0a0a0" stroke-width="3.7" stroke-linecap="round" fill="none"/><path d="M612.4 294.7L621.2 289.6" stroke="#a0a0a0" stroke-width="3.7" stroke-linecap="round" fill="none"/><path d="M610.1 291.5Q616.0 284.7 624.8 283.9" stroke="#a0a0a0" stroke-width="3.7" stroke-linecap="round" fill="none"/><path d="M617.3 285.8L623.7 288.8" stroke="#a0a0a0" stroke-width="3.7" stroke-linecap="round" fill="none"/><path d="M609.1 289.6L617.2 286.4" stroke="#a0a0a0" stroke-width="3.7" stroke-linecap="round" fill="none"/><path d="M606.1 280.9Q611.8 274.4 618.0 277.9" stroke="#a0a0a0" stroke-width="3.7" stroke-linecap="round" fill="none"/><path d="M611.6 276.7L618.0 271.1" stroke="#a0a0a0" stroke-width="3.7" stroke-linecap="round" fill="none"/><path d="M605.6 276.1L614.2 276.0" stroke="#a0a0a0" stroke-width="3.7" stroke-linecap="round" fill="none"/><path d="M605.7 278.2Q612.3 278.0 618.9 277.4" stroke="#a0a0a0" stroke-width="3.7" stroke-linecap="round" fill="none"/><path d="M605.7 274.7L615.5 275.0" stroke="#a0a0a0" stroke-width="3.7" stroke-linecap="round" fill="none"/><path d="M606.0 271.0Q613.5 275.0 621.6 273.6" stroke="#a0a0a0" stroke-width="3.7" stroke-linecap="round" fill="none"/><path d="M613.4 273.7L619.7 269.3" stroke="#a0a0a0" stroke-width="3.7" stroke-linecap="round" fill="none"/><path d="M607.0 266.9L617.6 269.4" stroke="#a0a0a0" stroke-width="3.7" stroke-linecap="round" fill="none"/><path d="M608.5 263.0Q614.1 270.6 622.6 269.3" stroke="#a0a0a0" stroke-width="3.7" stroke-linecap="round" fill="none"/><path d="M615.4 268.7L621.5 265.9" stroke="#a0a0a0" stroke-width="3.7" stroke-linecap="round" fill="none"/><path d="M609.8 260.6L617.1 263.8" stroke="#a0a0a0" stroke-width="3.7" stroke-linecap="round" fill="none"/><path d="M611.8 257.6Q618.8 260.2 624.6 264.4" stroke="#a0a0a0" stroke-width="3.7" stroke-linecap="round" fill="none"/><path d="M614.6 254.3L623.0 260.4" stroke="#a0a0a0" stroke-width="3.7" stroke-linecap="round" fill="none"/><path d="M616.0 252.9Q620.8 257.6 626.5 261.6" stroke="#a0a0a0" stroke-width="3.7" stroke-linecap="round" fill="none"/><path d="M621.9 258.2L623.1 264.2" stroke="#a0a0a0" stroke-width="3.7" stroke-linecap="round" fill="none"/><path d="M619.3 250.2L625.7 256.6" stroke="#a0a0a0" stroke-width="3.7" stroke-linecap="round" fill="none"/><path d="M620.9 249.1Q628.9 251.7 630.2 258.1" stroke="#a0a0a0" stroke-width="3.7" stroke-linecap="round" fill="none"/><path d="M627.3 252.5L634.5 255.3" stroke="#a0a0a0" stroke-width="3.7" stroke-linecap="round" fill="none"/><path d="M623.6 247.4L628.3 253.8" stroke="#a0a0a0" stroke-width="3.7" stroke-linecap="round" fill="none"/><path d="M626.7 245.9Q631.4 249.9 632.8 255.2" stroke="#a0a0a0" stroke-width="3.7" stroke-linecap="round" fill="none"/><path d="M629.2 244.8L632.8 252.2" stroke="#a0a0a0" stroke-width="3.7" stroke-linecap="round" fill="none"/><path d="M636.5 242.9Q635.5 249.7 639.0 255.5" stroke="#a0a0a0" stroke-width="3.7" stroke-linecap="round" fill="none"/><path d="M639.7 242.4L641.0 251.3" stroke="#a0a0a0" stroke-width="3.7" stroke-linecap="round" fill="none"/><path d="M641.6 242.2Q634.9 249.6 641.0 254.7" stroke="#a0a0a0" stroke-width="3.7" stroke-linecap="round" fill="none"/><path d="M638.3 251.0L634.2 257.9" stroke="#a0a0a0" stroke-width="3.7" stroke-linecap="round" fill="none"/><path d="M646.0 242.2L645.6 250.4" stroke="#a0a0a0" stroke-width="3.7" stroke-linecap="round" fill="none"/><path d="M649.1 242.4Q646.4 249.4 646.7 256.6" stroke="#a0a0a0" stroke-width="3.7" stroke-linecap="round" fill="none"/><path d="M653.1 243.0L651.1 250.5" stroke="#a0a0a0" stroke-width="3.7" stroke-linecap="round" fill="none"/><path d="M661.2 245.4Q663.5 254.3 656.0 257.9" stroke="#a0a0a0" stroke-width="3.7" stroke-linecap="round" fill="none"/><path d="M660.5 254.2L652.9 257.2" stroke="#a0a0a0" stroke-width="3.7" stroke-linecap="round" fill="none"/><path d="M664.6 247.0L659.6 254.2" stroke="#a0a0a0" stroke-width="3.7" stroke-linecap="round" fill="none"/><path d="M666.4 248.0Q654.1 250.7 655.4 259.0" stroke="#a0a0a0" stroke-width="3.7" stroke-linecap="round" fill="none"/><path d="M657.5 251.3L650.9 254.5" stroke="#a0a0a0" stroke-width="3.7" stroke-linecap="round" fill="none"/><path d="M670.5 250.8L663.5 257.6" stroke="#a0a0a0" stroke-width="3.7" stroke-linecap="round" fill="none"/><path d="M672.0 252.0Q662.6 254.3 659.7 261.3" stroke="#a0a0a0" stroke-width="3.7" stroke-linecap="round" fill="none"/><path d="M662.8 256.7L663.1 262.6" stroke="#a0a0a0" stroke-width="3.7" stroke-linecap="round" fill="none"/><path d="M674.4 254.4L665.8 260.5" stroke="#a0a0a0" stroke-width="3.7" stroke-linecap="round" fill="none"/><path d="M674.9 254.8Q671.6 260.3 665.4 262.2" stroke="#a0a0a0" stroke-width="3.7" stroke-linecap="round" fill="none"/><path d="M670.1 260.0L668.8 266.0" stroke="#a0a0a0" stroke-width="3.7" stroke-linecap="round" fill="none"/><path d="M677.0 257.3L667.8 262.5" stroke="#a0a0a0" stroke-width="3.7" stroke-linecap="round" fill="none"/><path d="M681.0 264.4Q674.1 271.9 664.7 270.6" stroke="#a0a0a0" stroke-width="3.7" stroke-linecap="round" fill="none"/><path d="M672.0 270.2L668.0 274.8" stroke="#a0a0a0" stroke-width="3.7" stroke-linecap="round" fill="none"/><path d="M681.7 266.3L672.5 268.6" stroke="#a0a0a0" stroke-width="3.7" stroke-linecap="round" fill="none"/><path d="M682.6 269.4Q675.1 269.6 668.0 271.6" stroke="#a0a0a0" stroke-width="3.7" stroke-linecap="round" fill="none"/><path d="M673.5 270.3L666.1 267.9" stroke="#a0a0a0" stroke-width="3.7" stroke-linecap="round" fill="none"/><path d="M683.2 272.8L672.2 273.7" stroke="#a0a0a0" stroke-width="3.7" stroke-linecap="round" fill="none"/><path d="M683.2 272.9Q674.6 279.3 666.4 275.4" stroke="#a0a0a0" stroke-width="3.7" stroke-linecap="round" fill="none"/><path d="M673.8 277.0L668.9 280.1" stroke="#a0a0a0" stroke-width="3.7" stroke-linecap="round" fill="none"/><path d="M683.3 277.3L672.0 276.9" stroke="#a0a0a0" stroke-width="3.7" stroke-linecap="round" fill="none"/><path d="M682.9 280.8Q676.7 275.6 669.9 278.0" stroke="#a0a0a0" stroke-width="3.7" stroke-linecap="round" fill="none"/><path d="M681.9 284.9L671.5 282.4" stroke="#a0a0a0" stroke-width="3.7" stroke-linecap="round" fill="none"/><path d="M680.7 288.0Q671.9 285.8 663.7 282.4" stroke="#a0a0a0" stroke-width="3.7" stroke-linecap="round" fill="none"/><path d="M671.6 285.4L664.9 287.7" stroke="#a0a0a0" stroke-width="3.7" stroke-linecap="round" fill="none"/><path d="M678.2 292.4L669.2 288.0" stroke="#a0a0a0" stroke-width="3.7" stroke-linecap="round" fill="none"/><path d="M678.2 292.5Q673.4 281.9 663.2 283.4" stroke="#a0a0a0" stroke-width="3.7" stroke-linecap="round" fill="none"/><path d="M676.9 294.3L669.6 290.1" stroke="#a0a0a0" stroke-width="3.7" stroke-linecap="round" fill="none"/><path d="M670.3 300.9Q661.4 300.1 661.1 293.8" stroke="#a0a0a0" stroke-width="3.7" stroke-linecap="round" fill="none"/><path d="M663.1 298.6L654.9 298.7" stroke="#a0a0a0" stroke-width="3.7" stroke-linecap="round" fill="none"/><path d="M668.6 302.2L662.4 295.4" stroke="#a0a0a0" stroke-width="3.7" stroke-linecap="round" fill="none"/><path d="M613.9 296.6Q617.5 290.3 624.6 288.4" stroke="#262626" stroke-width="1.05" stroke-linecap="round" fill="none"/><path d="M612.4 294.7L621.2 289.6" stroke="#262626" stroke-width="1.05" stroke-linecap="round" fill="none"/><path d="M610.1 291.5Q616.0 284.7 624.8 283.9" stroke="#262626" stroke-width="1.05" stroke-linecap="round" fill="none"/><path d="M617.3 285.8L623.7 288.8" stroke="#262626" stroke-width="1.05" stroke-linecap="round" fill="none"/><path d="M609.1 289.6L617.2 286.4" stroke="#262626" stroke-width="1.05" stroke-linecap="round" fill="none"/><path d="M606.1 280.9Q611.8 274.4 618.0 277.9" stroke="#262626" stroke-width="1.05" stroke-linecap="round" fill="none"/><path d="M611.6 276.7L618.0 271.1" stroke="#262626" stroke-width="1.05" stroke-linecap="round" fill="none"/><path d="M605.6 276.1L614.2 276.0" stroke="#262626" stroke-width="1.05" stroke-linecap="round" fill="none"/><path d="M605.7 278.2Q612.3 278.0 618.9 277.4" stroke="#262626" stroke-width="1.05" stroke-linecap="round" fill="none"/><path d="M605.7 274.7L615.5 275.0" stroke="#262626" stroke-width="1.05" stroke-linecap="round" fill="none"/><path d="M606.0 271.0Q613.5 275.0 621.6 273.6" stroke="#262626" stroke-width="1.05" stroke-linecap="round" fill="none"/><path d="M613.4 273.7L619.7 269.3" stroke="#262626" stroke-width="1.05" stroke-linecap="round" fill="none"/><path d="M607.0 266.9L617.6 269.4" stroke="#262626" stroke-width="1.05" stroke-linecap="round" fill="none"/><path d="M608.5 263.0Q614.1 270.6 622.6 269.3" stroke="#262626" stroke-width="1.05" stroke-linecap="round" fill="none"/><path d="M615.4 268.7L621.5 265.9" stroke="#262626" stroke-width="1.05" stroke-linecap="round" fill="none"/><path d="M609.8 260.6L617.1 263.8" stroke="#262626" stroke-width="1.05" stroke-linecap="round" fill="none"/><path d="M611.8 257.6Q618.8 260.2 624.6 264.4" stroke="#262626" stroke-width="1.05" stroke-linecap="round" fill="none"/><path d="M614.6 254.3L623.0 260.4" stroke="#262626" stroke-width="1.05" stroke-linecap="round" fill="none"/><path d="M616.0 252.9Q620.8 257.6 626.5 261.6" stroke="#262626" stroke-width="1.05" stroke-linecap="round" fill="none"/><path d="M621.9 258.2L623.1 264.2" stroke="#262626" stroke-width="1.05" stroke-linecap="round" fill="none"/><path d="M619.3 250.2L625.7 256.6" stroke="#262626" stroke-width="1.05" stroke-linecap="round" fill="none"/><path d="M620.9 249.1Q628.9 251.7 630.2 258.1" stroke="#262626" stroke-width="1.05" stroke-linecap="round" fill="none"/><path d="M627.3 252.5L634.5 255.3" stroke="#262626" stroke-width="1.05" stroke-linecap="round" fill="none"/><path d="M623.6 247.4L628.3 253.8" stroke="#262626" stroke-width="1.05" stroke-linecap="round" fill="none"/><path d="M626.7 245.9Q631.4 249.9 632.8 255.2" stroke="#262626" stroke-width="1.05" stroke-linecap="round" fill="none"/><path d="M629.2 244.8L632.8 252.2" stroke="#262626" stroke-width="1.05" stroke-linecap="round" fill="none"/><path d="M636.5 242.9Q635.5 249.7 639.0 255.5" stroke="#262626" stroke-width="1.05" stroke-linecap="round" fill="none"/><path d="M639.7 242.4L641.0 251.3" stroke="#262626" stroke-width="1.05" stroke-linecap="round" fill="none"/><path d="M641.6 242.2Q634.9 249.6 641.0 254.7" stroke="#262626" stroke-width="1.05" stroke-linecap="round" fill="none"/><path d="M638.3 251.0L634.2 257.9" stroke="#262626" stroke-width="1.05" stroke-linecap="round" fill="none"/><path d="M646.0 242.2L645.6 250.4" stroke="#262626" stroke-width="1.05" stroke-linecap="round" fill="none"/><path d="M649.1 242.4Q646.4 249.4 646.7 256.6" stroke="#262626" stroke-width="1.05" stroke-linecap="round" fill="none"/><path d="M653.1 243.0L651.1 250.5" stroke="#262626" stroke-width="1.05" stroke-linecap="round" fill="none"/><path d="M661.2 245.4Q663.5 254.3 656.0 257.9" stroke="#262626" stroke-width="1.05" stroke-linecap="round" fill="none"/><path d="M660.5 254.2L652.9 257.2" stroke="#262626" stroke-width="1.05" stroke-linecap="round" fill="none"/><path d="M664.6 247.0L659.6 254.2" stroke="#262626" stroke-width="1.05" stroke-linecap="round" fill="none"/><path d="M666.4 248.0Q654.1 250.7 655.4 259.0" stroke="#262626" stroke-width="1.05" stroke-linecap="round" fill="none"/><path d="M657.5 251.3L650.9 254.5" stroke="#262626" stroke-width="1.05" stroke-linecap="round" fill="none"/><path d="M670.5 250.8L663.5 257.6" stroke="#262626" stroke-width="1.05" stroke-linecap="round" fill="none"/><path d="M672.0 252.0Q662.6 254.3 659.7 261.3" stroke="#262626" stroke-width="1.05" stroke-linecap="round" fill="none"/><path d="M662.8 256.7L663.1 262.6" stroke="#262626" stroke-width="1.05" stroke-linecap="round" fill="none"/><path d="M674.4 254.4L665.8 260.5" stroke="#262626" stroke-width="1.05" stroke-linecap="round" fill="none"/><path d="M674.9 254.8Q671.6 260.3 665.4 262.2" stroke="#262626" stroke-width="1.05" stroke-linecap="round" fill="none"/><path d="M670.1 260.0L668.8 266.0" stroke="#262626" stroke-width="1.05" stroke-linecap="round" fill="none"/><path d="M677.0 257.3L667.8 262.5" stroke="#262626" stroke-width="1.05" stroke-linecap="round" fill="none"/><path d="M681.0 264.4Q674.1 271.9 664.7 270.6" stroke="#262626" stroke-width="1.05" stroke-linecap="round" fill="none"/><path d="M672.0 270.2L668.0 274.8" stroke="#262626" stroke-width="1.05" stroke-linecap="round" fill="none"/><path d="M681.7 266.3L672.5 268.6" stroke="#262626" stroke-width="1.05" stroke-linecap="round" fill="none"/><path d="M682.6 269.4Q675.1 269.6 668.0 271.6" stroke="#262626" stroke-width="1.05" stroke-linecap="round" fill="none"/><path d="M673.5 270.3L666.1 267.9" stroke="#262626" stroke-width="1.05" stroke-linecap="round" fill="none"/><path d="M683.2 272.8L672.2 273.7" stroke="#262626" stroke-width="1.05" stroke-linecap="round" fill="none"/><path d="M683.2 272.9Q674.6 279.3 666.4 275.4" stroke="#262626" stroke-width="1.05" stroke-linecap="round" fill="none"/><path d="M673.8 277.0L668.9 280.1" stroke="#262626" stroke-width="1.05" stroke-linecap="round" fill="none"/><path d="M683.3 277.3L672.0 276.9" stroke="#262626" stroke-width="1.05" stroke-linecap="round" fill="none"/><path d="M682.9 280.8Q676.7 275.6 669.9 278.0" stroke="#262626" stroke-width="1.05" stroke-linecap="round" fill="none"/><path d="M681.9 284.9L671.5 282.4" stroke="#262626" stroke-width="1.05" stroke-linecap="round" fill="none"/><path d="M680.7 288.0Q671.9 285.8 663.7 282.4" stroke="#262626" stroke-width="1.05" stroke-linecap="round" fill="none"/><path d="M671.6 285.4L664.9 287.7" stroke="#262626" stroke-width="1.05" stroke-linecap="round" fill="none"/><path d="M678.2 292.4L669.2 288.0" stroke="#262626" stroke-width="1.05" stroke-linecap="round" fill="none"/><path d="M678.2 292.5Q673.4 281.9 663.2 283.4" stroke="#262626" stroke-width="1.05" stroke-linecap="round" fill="none"/><path d="M676.9 294.3L669.6 290.1" stroke="#262626" stroke-width="1.05" stroke-linecap="round" fill="none"/><path d="M670.3 300.9Q661.4 300.1 661.1 293.8" stroke="#262626" stroke-width="1.05" stroke-linecap="round" fill="none"/><path d="M663.1 298.6L654.9 298.7" stroke="#262626" stroke-width="1.05" stroke-linecap="round" fill="none"/><path d="M668.6 302.2L662.4 295.4" stroke="#262626" stroke-width="1.05" stroke-linecap="round" fill="none"/></g>
<path d="M630.4 286.0 C632.6 262.7 663.7 258.3 671.1 275.8 C672.6 286.0 665.2 290.3 657.8 287.4 L643.0 290.3Z" fill="#a8a8a8"/><path d="M631.9 281.6 C635.6 264.1 662.2 260.5 668.9 275.8 C669.6 283.1 665.2 286.7 660.8 283.8" stroke="#f4f4f4" stroke-width="2.6" fill="none"/><path d="M633.4 283.1 C637.8 267.8 660.8 265.6 665.9 277.2" stroke="#4a4a4a" stroke-width="0.9" fill="none"/><ellipse cx="644.5" cy="281.6" rx="7.4" ry="5.8" fill="#bcbcbc"/>
<rect x="605.0" y="244.2" width="76.0" height="74.8" filter="url(#gyA)" opacity="0.15" style="mix-blend-mode:multiply"/>
</g>
<path d="M613.4 291.8 C619.3 286.0 632.6 286.7 637.1 294.7 C640.0 302.0 635.6 310.7 626.0 310.7 C616.4 310.7 609.7 304.9 610.4 298.3 C610.4 295.4 611.9 293.2 613.4 291.8Z" fill="#a6a6a6"/>
<clipPath id="bc12"><path d="M613.4 291.8 C619.3 286.0 632.6 286.7 637.1 294.7 C640.0 302.0 635.6 310.7 626.0 310.7 C616.4 310.7 609.7 304.9 610.4 298.3 C610.4 295.4 611.9 293.2 613.4 291.8Z"/></clipPath>
<g clip-path="url(#bc12)"><g filter="url(#bl03)"><path d="M632.6 296.2 Q636.0 301.3 638.7 312.7" stroke="#ececec" stroke-width="0.9" fill="none"/><path d="M632.6 296.2 Q634.3 301.8 634.0 313.6" stroke="#ececec" stroke-width="0.9" fill="none"/><path d="M632.6 296.2 Q632.4 302.0 629.2 313.3" stroke="#ececec" stroke-width="0.9" fill="none"/><path d="M632.6 296.2 Q630.6 301.8 624.6 312.0" stroke="#ececec" stroke-width="0.9" fill="none"/><path d="M632.6 296.2 Q628.9 301.2 620.5 309.7" stroke="#ececec" stroke-width="0.9" fill="none"/><path d="M632.6 296.2 Q627.4 300.3 617.2 306.5" stroke="#ececec" stroke-width="0.9" fill="none"/><path d="M632.6 296.2 Q626.3 299.1 614.8 302.7" stroke="#ececec" stroke-width="0.9" fill="none"/><path d="M632.6 296.2 Q625.5 297.8 613.6 298.5" stroke="#ececec" stroke-width="0.9" fill="none"/><path d="M632.6 296.2 Q625.2 296.3 613.5 294.1" stroke="#ececec" stroke-width="0.9" fill="none"/><path d="M632.6 296.2 Q625.4 294.9 614.7 289.8" stroke="#ececec" stroke-width="0.9" fill="none"/><path d="M632.6 296.2 Q626.0 293.5 617.0 286.0" stroke="#ececec" stroke-width="0.9" fill="none"/><path d="M632.6 296.2 Q627.1 292.3 620.3 282.8" stroke="#ececec" stroke-width="0.9" fill="none"/><path d="M632.6 296.2 Q628.5 291.3 624.3 280.4" stroke="#ececec" stroke-width="0.9" fill="none"/><path d="M632.6 296.2 Q630.1 290.7 628.9 279.0" stroke="#ececec" stroke-width="0.9" fill="none"/><path d="M632.6 296.2 Q631.9 290.4 633.7 278.7" stroke="#ececec" stroke-width="0.9" fill="none"/><path d="M632.6 296.2 Q633.8 290.4 638.5 279.5" stroke="#ececec" stroke-width="0.9" fill="none"/><path d="M632.6 296.2 Q635.6 290.8 642.8 281.3" stroke="#ececec" stroke-width="0.9" fill="none"/><path d="M632.6 296.2 L639.2 312.6" stroke="#5a5a5a" stroke-width="0.5" fill="none"/><path d="M632.6 296.2 L634.5 313.6" stroke="#5a5a5a" stroke-width="0.5" fill="none"/><path d="M632.6 296.2 L629.6 313.4" stroke="#5a5a5a" stroke-width="0.5" fill="none"/><path d="M632.6 296.2 L625.0 312.2" stroke="#5a5a5a" stroke-width="0.5" fill="none"/><path d="M632.6 296.2 L620.8 310.0" stroke="#5a5a5a" stroke-width="0.5" fill="none"/><path d="M632.6 296.2 L617.4 306.9" stroke="#5a5a5a" stroke-width="0.5" fill="none"/><path d="M632.6 296.2 L615.0 303.1" stroke="#5a5a5a" stroke-width="0.5" fill="none"/><path d="M632.6 296.2 L613.6 298.9" stroke="#5a5a5a" stroke-width="0.5" fill="none"/><path d="M632.6 296.2 L613.5 294.5" stroke="#5a5a5a" stroke-width="0.5" fill="none"/><path d="M632.6 296.2 L614.5 290.2" stroke="#5a5a5a" stroke-width="0.5" fill="none"/><path d="M632.6 296.2 L616.7 286.3" stroke="#5a5a5a" stroke-width="0.5" fill="none"/><path d="M632.6 296.2 L619.9 283.1" stroke="#5a5a5a" stroke-width="0.5" fill="none"/><path d="M632.6 296.2 L623.9 280.6" stroke="#5a5a5a" stroke-width="0.5" fill="none"/><path d="M632.6 296.2 L628.4 279.1" stroke="#5a5a5a" stroke-width="0.5" fill="none"/><path d="M632.6 296.2 L633.2 278.7" stroke="#5a5a5a" stroke-width="0.5" fill="none"/><path d="M632.6 296.2 L638.0 279.4" stroke="#5a5a5a" stroke-width="0.5" fill="none"/></g><rect x="606.0" y="281.6" width="37.0" height="36.4" filter="url(#gyA)" opacity="0.15" style="mix-blend-mode:multiply"/></g>
<path d="M613.4 291.8 C619.3 286.0 632.6 286.7 637.1 294.7 C640.0 302.0 635.6 310.7 626.0 310.7 C616.4 310.7 609.7 304.9 610.4 298.3 C610.4 295.4 611.9 293.2 613.4 291.8Z" fill="none" stroke="#555" stroke-width="0.7"/>
<path d="M635.6 280.1 C646.7 277.2 656.3 283.8 654.1 293.2 C652.6 299.8 646.7 302.0 643.0 306.4 L640.8 318.0 L633.4 318.0 C634.1 310.7 634.9 303.4 634.1 296.2 C633.4 288.9 633.4 283.1 635.6 280.1Z" fill="#c4c4c4"/>
<g filter="url(#bl05)"><path d="M640.8 283.1 C646.0 288.9 644.5 297.6 639.3 307.8" stroke="#a4a4a4" stroke-width="1.5" fill="none"/><ellipse cx="647.4" cy="288.9" rx="3.7" ry="3.6" fill="#d4d4d4"/></g>
<g filter="url(#bl05)"><path d="M626.8 249.2C627.6 247.9 631.3 247.1 633.2 247.1C635.2 247.1 636.3 248.5 638.6 249.2C641.0 249.9 644.3 251.0 647.2 251.3C650.0 251.7 653.8 250.8 655.8 251.3C657.8 251.9 659.1 253.3 659.1 254.6C659.1 255.8 657.8 258.0 655.8 258.9C653.8 259.8 649.7 260.3 647.2 260.0C644.7 259.6 642.9 257.6 640.8 256.7C638.6 255.8 636.3 254.9 634.3 254.6C632.3 254.2 630.2 255.5 628.9 254.6C627.7 253.7 626.1 250.4 626.8 249.2Z" fill="#e02010" stroke="#a81408" stroke-width="0.9"/><path d="M660.7 262.1C661.4 260.6 665.3 259.0 667.1 258.8C668.9 258.7 670.1 259.9 671.4 261.0C672.7 262.1 673.6 263.5 674.6 265.3C675.7 267.1 677.3 269.2 677.9 271.7C678.4 274.2 678.2 278.0 677.9 280.3C677.5 282.7 676.8 284.4 675.7 285.6C674.6 286.9 672.8 287.3 671.4 287.8C670.0 288.4 668.2 289.4 667.1 288.9C666.0 288.3 664.7 286.0 664.9 284.6C665.1 283.1 667.4 281.8 668.2 280.3C668.9 278.9 669.6 277.5 669.2 276.0C668.9 274.6 667.1 273.1 666.0 271.7C664.9 270.3 663.7 269.0 662.9 267.4C662.0 265.8 660.0 263.5 660.7 262.1Z" fill="#e02010" stroke="#a81408" stroke-width="0.9"/><ellipse cx="669.5" cy="273.8" rx="2.6" ry="2.8" fill="#f58a20" transform="rotate(0 669.5 273.8)"/><ellipse cx="669.5" cy="273.8" rx="1.4" ry="1.5" fill="#f4e030" transform="rotate(0 669.5 273.8)"/><ellipse cx="650" cy="254.5" rx="2.5" ry="1.6" fill="#f58a20" transform="rotate(0 650 254.5)"/><ellipse cx="636" cy="251.5" rx="3" ry="1.5" fill="rgba(255,110,30,0.7)" transform="rotate(0 636 251.5)"/><ellipse cx="672" cy="282" rx="2" ry="3" fill="rgba(255,110,30,0.7)" transform="rotate(0 672 282)"/><path d="M620.9 269.0C621.6 267.6 624.7 265.6 626.3 264.8C627.9 263.9 629.8 263.0 630.5 263.7C631.2 264.4 631.1 267.4 630.5 269.0C630.0 270.6 628.7 272.6 627.3 273.3C625.9 274.0 623.0 274.0 622.0 273.3C620.9 272.6 620.2 270.4 620.9 269.0Z" fill="#e02010" stroke="#a81408" stroke-width="0.9"/><ellipse cx="641.8" cy="275" rx="2.4" ry="1.2" fill="#3cc83c" transform="rotate(0 641.8 275)"/><ellipse cx="609.5" cy="273.8" rx="0.8" ry="0.8" fill="#e02010" transform="rotate(0 609.5 273.8)"/></g>
<text x="470.6" y="315.7" font-size="10" font-weight="bold" text-anchor="start" fill="#fff" >L</text>
<text x="597.5" y="315.7" font-size="10" font-weight="bold" text-anchor="start" fill="#fff" >R</text>
<linearGradient id="cb1" x1="0" x2="1" y1="0" y2="0"><stop offset="0" stop-color="#2a1cff"/><stop offset="0.25" stop-color="#3048c8"/><stop offset="0.5" stop-color="#3a8a8a"/><stop offset="0.75" stop-color="#40d060"/><stop offset="1" stop-color="#44ff1c"/></linearGradient>
<linearGradient id="cb2" x1="0" x2="1" y1="0" y2="0"><stop offset="0" stop-color="#000"/><stop offset="0.2" stop-color="#4a0606"/><stop offset="0.4" stop-color="#ff2412"/><stop offset="0.6" stop-color="#f0a030"/><stop offset="0.72" stop-color="#f2f040"/><stop offset="0.82" stop-color="#f2f868"/><stop offset="1" stop-color="#ffffff"/></linearGradient>
<rect x="494.1" y="321.3" width="162.3" height="6.6" fill="url(#cb1)"/>
<rect x="494.1" y="334.4" width="162.3" height="6.4" fill="url(#cb2)" stroke="#555" stroke-width="0.4"/>
<line x1="494.3" y1="327.9" x2="494.3" y2="329" stroke="#888" stroke-width="0.4"/>
<text x="494.3" y="333.0" font-size="4.6" text-anchor="middle" fill="#9a9a9a" >0</text>
<line x1="534.9" y1="327.9" x2="534.9" y2="329" stroke="#888" stroke-width="0.4"/>
<text x="534.9" y="333.0" font-size="4.6" text-anchor="middle" fill="#9a9a9a" >2</text>
<line x1="575.5" y1="327.9" x2="575.5" y2="329" stroke="#888" stroke-width="0.4"/>
<text x="575.5" y="333.0" font-size="4.6" text-anchor="middle" fill="#9a9a9a" >4</text>
<line x1="616.0" y1="327.9" x2="616.0" y2="329" stroke="#888" stroke-width="0.4"/>
<text x="616.0" y="333.0" font-size="4.6" text-anchor="middle" fill="#9a9a9a" >6</text>
<line x1="656.6" y1="327.9" x2="656.6" y2="329" stroke="#888" stroke-width="0.4"/>
<text x="656.6" y="333.0" font-size="4.6" text-anchor="middle" fill="#9a9a9a" >8</text>
<line x1="494.3" y1="340.8" x2="494.3" y2="341.8" stroke="#888" stroke-width="0.4"/>
<text x="494.3" y="345.9" font-size="4.6" text-anchor="middle" fill="#9a9a9a" >0</text>
<line x1="526.8" y1="340.8" x2="526.8" y2="341.8" stroke="#888" stroke-width="0.4"/>
<text x="526.8" y="345.9" font-size="4.6" text-anchor="middle" fill="#9a9a9a" >3</text>
<line x1="559.2" y1="340.8" x2="559.2" y2="341.8" stroke="#888" stroke-width="0.4"/>
<text x="559.2" y="345.9" font-size="4.6" text-anchor="middle" fill="#9a9a9a" >6</text>
<line x1="591.7" y1="340.8" x2="591.7" y2="341.8" stroke="#888" stroke-width="0.4"/>
<text x="591.7" y="345.9" font-size="4.6" text-anchor="middle" fill="#9a9a9a" >9</text>
<line x1="624.1" y1="340.8" x2="624.1" y2="341.8" stroke="#888" stroke-width="0.4"/>
<text x="624.1" y="345.9" font-size="4.6" text-anchor="middle" fill="#9a9a9a" >12</text>
<line x1="656.6" y1="340.8" x2="656.6" y2="341.8" stroke="#888" stroke-width="0.4"/>
<text x="656.6" y="345.9" font-size="4.6" text-anchor="middle" fill="#9a9a9a" >15</text>
</svg>
</body></html>
